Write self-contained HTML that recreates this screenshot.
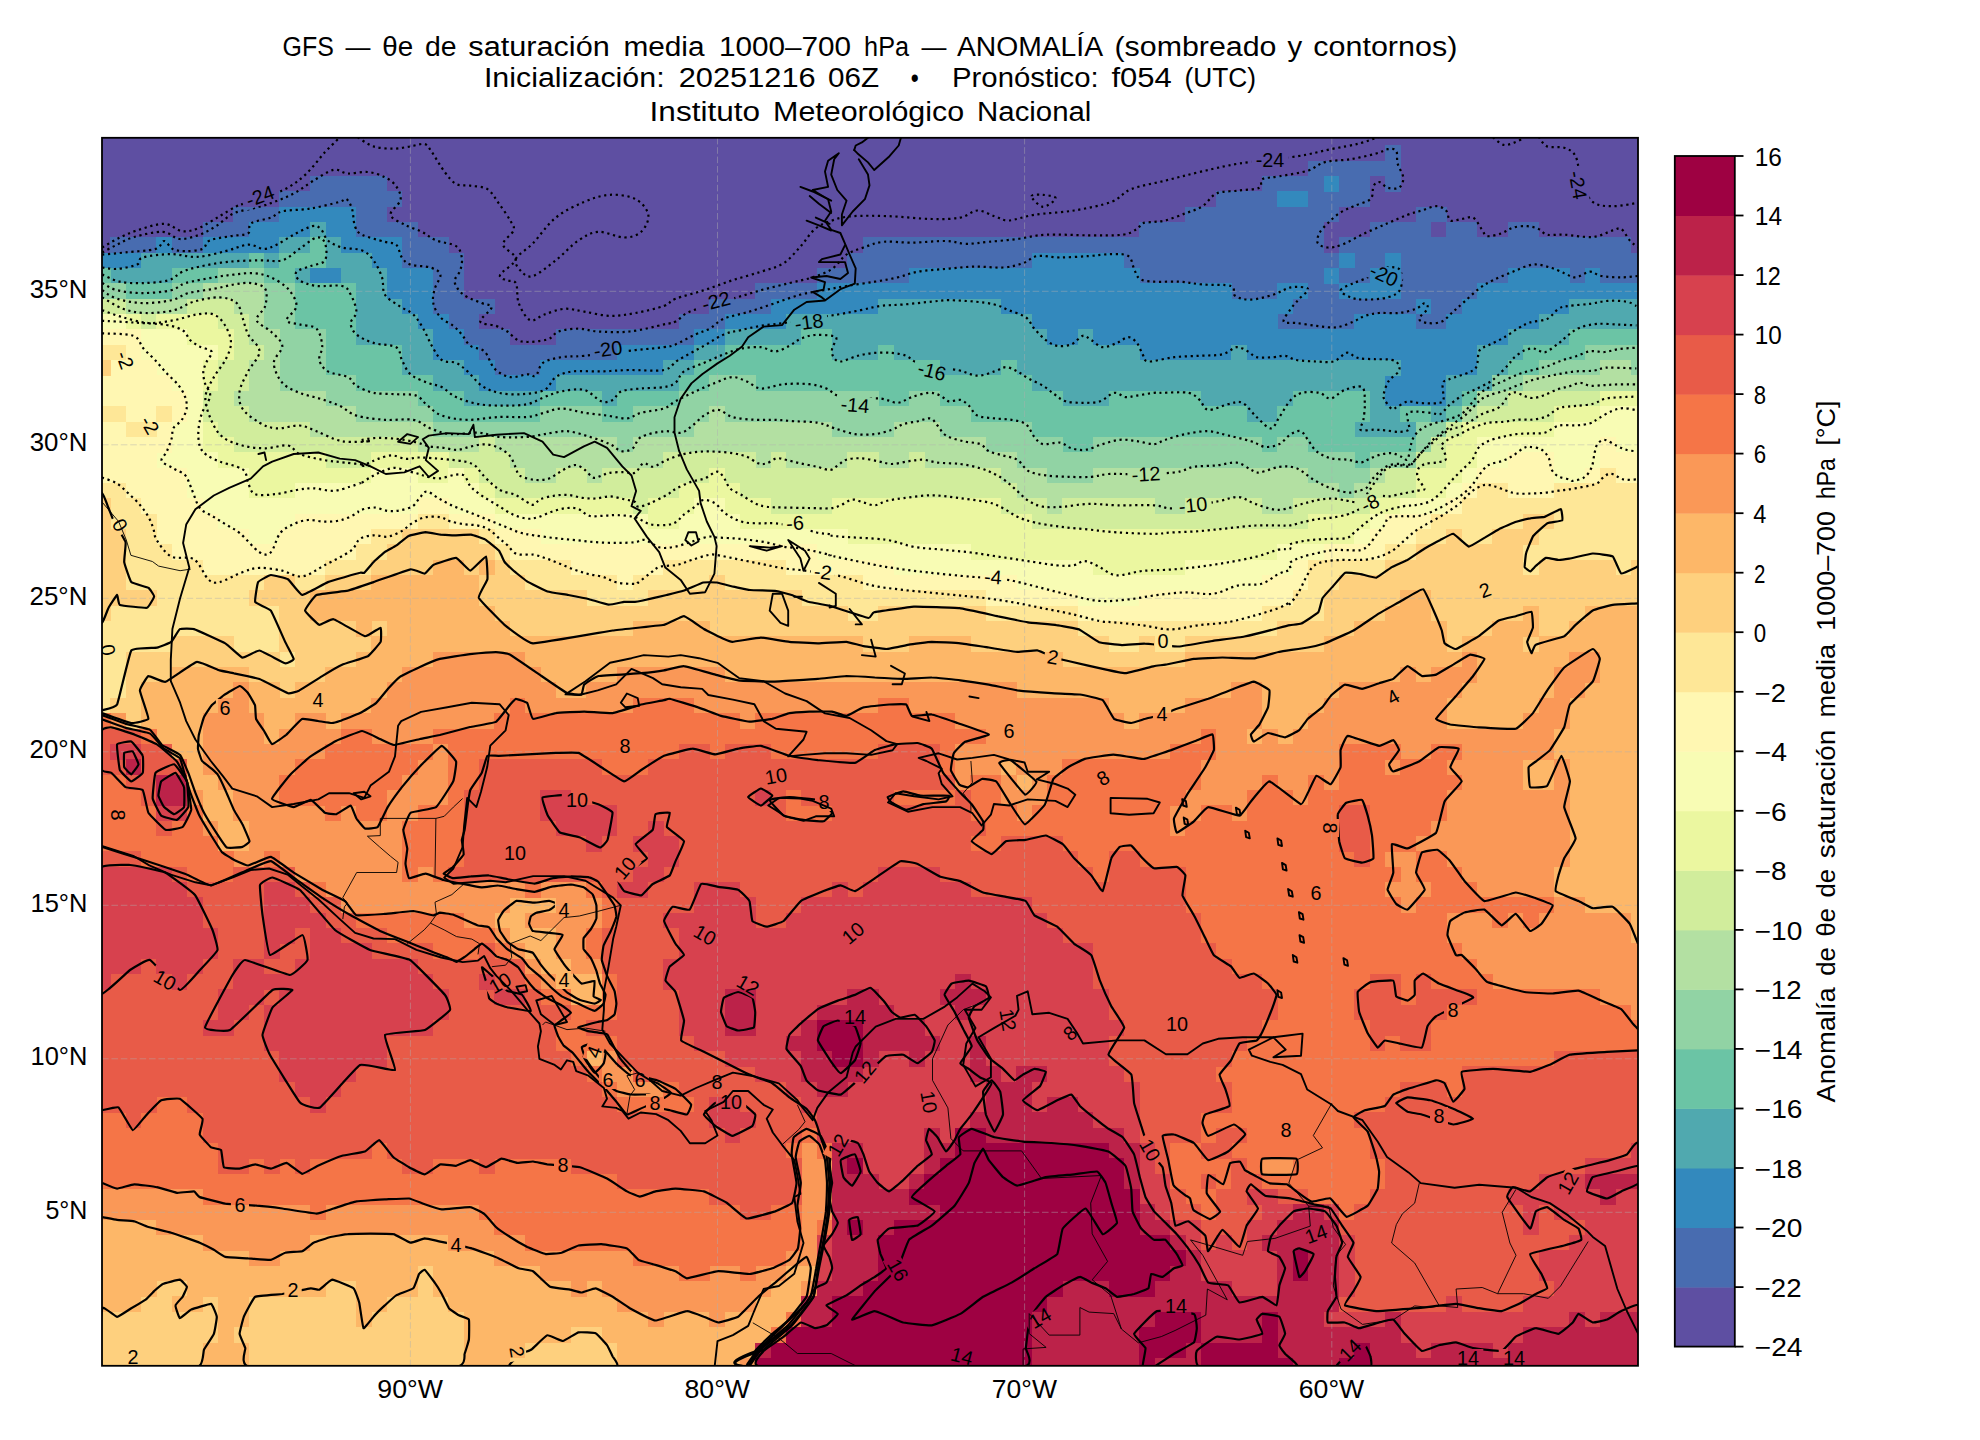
<!DOCTYPE html>
<html><head><meta charset="utf-8"><title>GFS theta-e</title>
<style>
html,body{margin:0;padding:0;background:#fff;}
body{width:1980px;height:1440px;overflow:hidden;font-family:"Liberation Sans",sans-serif;}
svg{display:block;position:absolute;left:0;top:0;}
text{font-family:"Liberation Sans",sans-serif;fill:#000;}
.cl{fill:none;stroke:#000;stroke-width:2.2;stroke-linejoin:round;}
.dot{stroke-dasharray:2.2 3.65;stroke-linecap:butt;stroke-width:2.2}
.coast{fill:none;stroke:#000;stroke-width:1.9;stroke-linejoin:round;stroke-linecap:round}
.bord{fill:none;stroke:#000;stroke-width:0.9;stroke-linejoin:round}
.grid{stroke:#b0b0b0;stroke-width:0.9;stroke-dasharray:6.6 2.8;opacity:.5;fill:none}
.lab{font-size:19.8px;}
</style></head><body>
<svg width="1980" height="1440" viewBox="0 0 1980 1440">
<rect x="0" y="0" width="1980" height="1440" fill="#fff"/>
<text x="282.6" y="56" font-size="28.2" textLength="51.3" lengthAdjust="spacingAndGlyphs">GFS</text><text x="345.6" y="56" font-size="28.2" textLength="24.9" lengthAdjust="spacingAndGlyphs">—</text><text x="382.2" y="56" font-size="28.2" textLength="30.9" lengthAdjust="spacingAndGlyphs">θe</text><text x="425" y="56" font-size="28.2" textLength="31.6" lengthAdjust="spacingAndGlyphs">de</text><text x="468.3" y="56" font-size="28.2" textLength="141.5" lengthAdjust="spacingAndGlyphs">saturación</text><text x="623.4" y="56" font-size="28.2" textLength="81.1" lengthAdjust="spacingAndGlyphs">media</text><text x="718.9" y="56" font-size="28.2" textLength="132.1" lengthAdjust="spacingAndGlyphs">1000–700</text><text x="864.1" y="56" font-size="28.2" textLength="44.9" lengthAdjust="spacingAndGlyphs">hPa</text><text x="921.6" y="56" font-size="28.2" textLength="24.9" lengthAdjust="spacingAndGlyphs">—</text><text x="956.9" y="56" font-size="28.2" textLength="146.2" lengthAdjust="spacingAndGlyphs">ANOMALÍA</text><text x="1114.5" y="56" font-size="28.2" textLength="161.9" lengthAdjust="spacingAndGlyphs">(sombreado</text><text x="1287.5" y="56" font-size="28.2" textLength="14.7" lengthAdjust="spacingAndGlyphs">y</text><text x="1313.3" y="56" font-size="28.2" textLength="144" lengthAdjust="spacingAndGlyphs">contornos)</text>
<text x="483.9" y="86.8" font-size="28.2" textLength="180.7" lengthAdjust="spacingAndGlyphs">Inicialización:</text><text x="678.7" y="86.8" font-size="28.2" textLength="137" lengthAdjust="spacingAndGlyphs">20251216</text><text x="828" y="86.8" font-size="28.2" textLength="51.1" lengthAdjust="spacingAndGlyphs">06Z</text><text x="910.8" y="86.8" font-size="28.2" textLength="8" lengthAdjust="spacingAndGlyphs">•</text><text x="952" y="86.8" font-size="28.2" textLength="146.7" lengthAdjust="spacingAndGlyphs">Pronóstico:</text><text x="1111.4" y="86.8" font-size="28.2" textLength="60.3" lengthAdjust="spacingAndGlyphs">f054</text><text x="1184.5" y="86.8" font-size="28.2" textLength="71.6" lengthAdjust="spacingAndGlyphs">(UTC)</text>
<text x="649.6" y="121" font-size="28.2" textLength="110.5" lengthAdjust="spacingAndGlyphs">Instituto</text><text x="773.1" y="121" font-size="28.2" textLength="191" lengthAdjust="spacingAndGlyphs">Meteorológico</text><text x="977.1" y="121" font-size="28.2" textLength="114.3" lengthAdjust="spacingAndGlyphs">Nacional</text>
<defs><clipPath id="mc"><rect x="102" y="137.8" width="1536" height="1228"/></clipPath></defs>
<g clip-path="url(#mc)">
<rect x="102" y="137.8" width="1536" height="1228" fill="#5e4fa2"/>
<g shape-rendering="crispEdges">
<path fill="#486cb0" d="M494.3 360.1H540.6V375.7H494.3ZM478.9 344.7H617.4V360.4H478.9ZM463.5 329.4H509.9V345H463.5ZM555.7 329.4H694.2V345H555.7ZM448.2 314H479.2V329.7H448.2ZM678.5 314H724.9V329.7H678.5ZM1277.4 314H1354.5V329.7H1277.4ZM1415.6 314H1446.6V329.7H1415.6ZM432.8 298.7H494.6V314.3H432.8ZM709.2 298.7H771V314.3H709.2ZM1292.8 298.7H1415.9V314.3H1292.8ZM1431 298.7H1462V314.3H1431ZM432.8 283.3H463.8V299H432.8ZM755.3 283.3H817V299H755.3ZM1231.3 283.3H1277.7V299H1231.3ZM1308.1 283.3H1339.1V299H1308.1ZM1400.3 283.3H1477.3V299H1400.3ZM432.8 268H463.8V283.6H432.8ZM816.7 268H909.2V283.6H816.7ZM1139.2 268H1323.8V283.6H1139.2ZM1338.8 268H1369.8V283.6H1338.8ZM1400.3 268H1508.1V283.6H1400.3ZM1569.2 268H1584.8V283.6H1569.2ZM1599.9 268H1638.3V283.6H1599.9ZM402.1 252.6H463.8V268.3H402.1ZM847.4 252.6H1032V268.3H847.4ZM1123.9 252.6H1339.1V268.3H1123.9ZM1354.2 252.6H1385.2V268.3H1354.2ZM1400.3 252.6H1638.3V268.3H1400.3ZM110.4 237.3H156.7V252.9H110.4ZM171.8 237.3H202.8V252.9H171.8ZM402.1 237.3H448.5V252.9H402.1ZM862.8 237.3H1323.8V252.9H862.8ZM1338.8 237.3H1630.9V252.9H1338.8ZM202.5 221.9H248.9V237.6H202.5ZM356.1 221.9H417.8V237.6H356.1ZM1139.2 221.9H1323.8V237.6H1139.2ZM1369.5 221.9H1431.3V237.6H1369.5ZM1446.3 221.9H1477.3V237.6H1446.3ZM1507.8 221.9H1538.8V237.6H1507.8ZM233.2 206.6H279.6V222.2H233.2ZM356.1 206.6H387.1V222.2H356.1ZM1185.3 206.6H1339.1V222.2H1185.3ZM1415.6 206.6H1446.6V222.2H1415.6ZM279.3 191.2H402.4V206.9H279.3ZM1216 191.2H1277.7V206.9H1216ZM1308.1 191.2H1369.8V206.9H1308.1ZM310 175.9H387.1V191.5H310ZM1262.1 175.9H1323.8V191.5H1262.1ZM1338.8 175.9H1369.8V191.5H1338.8ZM1384.9 175.9H1400.6V191.5H1384.9ZM1308.1 160.5H1400.6V176.2H1308.1ZM1384.9 145.2H1400.6V160.8H1384.9Z"/>
<path fill="#3389bd" d="M1384.9 390.8H1446.6V406.4H1384.9ZM478.9 375.4H556V391.1H478.9ZM1384.9 375.4H1446.6V391.1H1384.9ZM463.5 360.1H494.6V375.7H463.5ZM540.3 360.1H663.5V375.7H540.3ZM1400.3 360.1H1477.3V375.7H1400.3ZM432.8 344.7H479.2V360.4H432.8ZM617.1 344.7H694.2V360.4H617.1ZM1139.2 344.7H1231.6V360.4H1139.2ZM1246.7 344.7H1477.3V360.4H1246.7ZM432.8 329.4H463.8V345H432.8ZM693.9 329.4H724.9V345H693.9ZM1047.1 329.4H1078.1V345H1047.1ZM1093.1 329.4H1508.1V345H1093.1ZM417.5 314H448.5V329.7H417.5ZM724.6 314H786.3V329.7H724.6ZM1031.7 314H1277.7V329.7H1031.7ZM1354.2 314H1415.9V329.7H1354.2ZM1446.3 314H1538.8V329.7H1446.3ZM402.1 298.7H433.1V314.3H402.1ZM770.7 298.7H878.5V314.3H770.7ZM1001 298.7H1293.1V314.3H1001ZM1415.6 298.7H1431.3V314.3H1415.6ZM1461.7 298.7H1569.5V314.3H1461.7ZM386.8 283.3H433.1V299H386.8ZM816.7 283.3H1231.6V299H816.7ZM1277.4 283.3H1308.4V299H1277.4ZM1338.8 283.3H1400.6V299H1338.8ZM1477 283.3H1638.3V299H1477ZM310 268H341V283.6H310ZM386.8 268H433.1V283.6H386.8ZM908.9 268H1139.5V283.6H908.9ZM1323.5 268H1339.1V283.6H1323.5ZM1369.5 268H1400.6V283.6H1369.5ZM1507.8 268H1569.5V283.6H1507.8ZM1584.5 268H1600.2V283.6H1584.5ZM102 252.6H141.4V268.3H102ZM371.4 252.6H402.4V268.3H371.4ZM1031.7 252.6H1124.2V268.3H1031.7ZM1338.8 252.6H1354.5V268.3H1338.8ZM1384.9 252.6H1400.6V268.3H1384.9ZM156.4 237.3H172.1V252.9H156.4ZM202.5 237.3H279.6V252.9H202.5ZM340.7 237.3H402.4V252.9H340.7ZM248.6 221.9H310.3V237.6H248.6ZM325.3 221.9H356.4V237.6H325.3ZM279.3 206.6H356.4V222.2H279.3ZM1277.4 191.2H1308.4V206.9H1277.4ZM1323.5 175.9H1339.1V191.5H1323.5Z"/>
<path fill="#50a9af" d="M1354.2 421.5H1415.9V437.1H1354.2ZM1246.7 406.1H1277.7V421.8H1246.7ZM1369.5 406.1H1400.6V421.8H1369.5ZM1431 406.1H1446.6V421.8H1431ZM463.5 390.8H540.6V406.4H463.5ZM601.8 390.8H617.4V406.4H601.8ZM1062.4 390.8H1108.8V406.4H1062.4ZM1200.6 390.8H1293.1V406.4H1200.6ZM1369.5 390.8H1385.2V406.4H1369.5ZM1446.3 390.8H1462V406.4H1446.3ZM432.8 375.4H479.2V391.1H432.8ZM555.7 375.4H678.8V391.1H555.7ZM1031.7 375.4H1385.2V391.1H1031.7ZM1446.3 375.4H1492.7V391.1H1446.3ZM402.1 360.1H463.8V375.7H402.1ZM663.2 360.1H694.2V375.7H663.2ZM939.6 360.1H1001.3V375.7H939.6ZM1016.4 360.1H1400.6V375.7H1016.4ZM1477 360.1H1508.1V375.7H1477ZM402.1 344.7H433.1V360.4H402.1ZM693.9 344.7H724.9V360.4H693.9ZM832.1 344.7H878.5V360.4H832.1ZM893.5 344.7H1139.5V360.4H893.5ZM1231.3 344.7H1247V360.4H1231.3ZM1477 344.7H1523.4V360.4H1477ZM356.1 329.4H433.1V345H356.1ZM724.6 329.4H801.7V345H724.6ZM832.1 329.4H1047.4V345H832.1ZM1077.8 329.4H1093.4V345H1077.8ZM1507.8 329.4H1569.5V345H1507.8ZM356.1 314H417.8V329.7H356.1ZM786 314H1032V329.7H786ZM1538.5 314H1638.3V329.7H1538.5ZM356.1 298.7H402.4V314.3H356.1ZM878.2 298.7H1001.3V314.3H878.2ZM1569.2 298.7H1638.3V314.3H1569.2ZM356.1 283.3H387.1V299H356.1ZM110.4 268H172.1V283.6H110.4ZM294.6 268H310.3V283.6H294.6ZM340.7 268H387.1V283.6H340.7ZM141.1 252.6H248.9V268.3H141.1ZM263.9 252.6H279.6V268.3H263.9ZM325.3 252.6H371.7V268.3H325.3ZM279.3 237.3H310.3V252.9H279.3ZM325.3 237.3H341V252.9H325.3ZM310 221.9H325.6V237.6H310Z"/>
<path fill="#6bc4a5" d="M1354.2 452.2H1369.8V467.8H1354.2ZM1062.4 436.8H1093.4V452.5H1062.4ZM1262.1 436.8H1277.7V452.5H1262.1ZM1308.1 436.8H1415.9V452.5H1308.1ZM1031.7 421.5H1354.5V437.1H1031.7ZM432.8 406.1H540.6V421.8H432.8ZM601.8 406.1H632.8V421.8H601.8ZM970.3 406.1H1247V421.8H970.3ZM1277.4 406.1H1369.8V421.8H1277.4ZM1400.3 406.1H1431.3V421.8H1400.3ZM1446.3 406.1H1462V421.8H1446.3ZM417.5 390.8H463.8V406.4H417.5ZM540.3 390.8H602V406.4H540.3ZM617.1 390.8H678.8V406.4H617.1ZM878.2 390.8H909.2V406.4H878.2ZM939.6 390.8H1062.7V406.4H939.6ZM1108.5 390.8H1200.9V406.4H1108.5ZM1292.8 390.8H1369.8V406.4H1292.8ZM1461.7 390.8H1477.3V406.4H1461.7ZM356.1 375.4H433.1V391.1H356.1ZM678.5 375.4H709.5V391.1H678.5ZM755.3 375.4H1032V391.1H755.3ZM325.3 360.1H402.4V375.7H325.3ZM693.9 360.1H939.9V375.7H693.9ZM1001 360.1H1016.7V375.7H1001ZM1507.8 360.1H1538.8V375.7H1507.8ZM325.3 344.7H402.4V360.4H325.3ZM724.6 344.7H832.4V360.4H724.6ZM878.2 344.7H893.8V360.4H878.2ZM1523.1 344.7H1584.8V360.4H1523.1ZM325.3 329.4H356.4V345H325.3ZM801.4 329.4H832.4V345H801.4ZM1569.2 329.4H1638.3V345H1569.2ZM294.6 314H356.4V329.7H294.6ZM294.6 298.7H356.4V314.3H294.6ZM125.7 283.3H172.1V299H125.7ZM294.6 283.3H356.4V299H294.6ZM102 268H110.7V283.6H102ZM171.8 268H218.2V283.6H171.8ZM263.9 268H294.9V283.6H263.9ZM248.6 252.6H264.2V268.3H248.6ZM279.3 252.6H325.6V268.3H279.3ZM310 237.3H325.6V252.9H310Z"/>
<path fill="#91d3a4" d="M1338.8 482.9H1354.5V498.5H1338.8ZM1047.1 467.5H1093.4V483.2H1047.1ZM1308.1 467.5H1369.8V483.2H1308.1ZM1016.4 452.2H1354.5V467.8H1016.4ZM1369.5 452.2H1415.9V467.8H1369.5ZM617.1 436.8H632.8V452.5H617.1ZM985.7 436.8H1062.7V452.5H985.7ZM1093.1 436.8H1262.4V452.5H1093.1ZM1277.4 436.8H1308.4V452.5H1277.4ZM1415.6 436.8H1431.3V452.5H1415.6ZM432.8 421.5H694.2V437.1H432.8ZM832.1 421.5H893.8V437.1H832.1ZM939.6 421.5H1032V437.1H939.6ZM1415.6 421.5H1446.6V437.1H1415.6ZM356.1 406.1H433.1V421.8H356.1ZM540.3 406.1H602V421.8H540.3ZM632.5 406.1H709.5V421.8H632.5ZM724.6 406.1H970.6V421.8H724.6ZM325.3 390.8H417.8V406.4H325.3ZM678.5 390.8H878.5V406.4H678.5ZM908.9 390.8H939.9V406.4H908.9ZM279.3 375.4H356.4V391.1H279.3ZM709.2 375.4H755.6V391.1H709.2ZM1492.4 375.4H1523.4V391.1H1492.4ZM279.3 360.1H325.6V375.7H279.3ZM1538.5 360.1H1600.2V375.7H1538.5ZM1630.6 360.1H1638.3V375.7H1630.6ZM279.3 344.7H325.6V360.4H279.3ZM1584.5 344.7H1638.3V360.4H1584.5ZM279.3 329.4H325.6V345H279.3ZM263.9 314H294.9V329.7H263.9ZM263.9 298.7H294.9V314.3H263.9ZM102 283.3H126V299H102ZM171.8 283.3H202.8V299H171.8ZM263.9 283.3H294.9V299H263.9ZM217.9 268H264.2V283.6H217.9Z"/>
<path fill="#b3e0a2" d="M1047.1 498.2H1062.7V513.9H1047.1ZM1154.6 498.2H1185.6V513.9H1154.6ZM1262.1 498.2H1293.1V513.9H1262.1ZM1016.4 482.9H1339.1V498.5H1016.4ZM1354.2 482.9H1369.8V498.5H1354.2ZM525 467.5H556V483.2H525ZM586.4 467.5H602V483.2H586.4ZM1001 467.5H1047.4V483.2H1001ZM1093.1 467.5H1308.4V483.2H1093.1ZM1369.5 467.5H1385.2V483.2H1369.5ZM509.6 452.2H663.5V467.8H509.6ZM755.3 452.2H771V467.8H755.3ZM786 452.2H847.7V467.8H786ZM878.2 452.2H909.2V467.8H878.2ZM924.2 452.2H1016.7V467.8H924.2ZM417.5 436.8H479.2V452.5H417.5ZM494.3 436.8H617.4V452.5H494.3ZM632.5 436.8H986V452.5H632.5ZM310 421.5H433.1V437.1H310ZM693.9 421.5H832.4V437.1H693.9ZM893.5 421.5H939.9V437.1H893.5ZM248.6 406.1H356.4V421.8H248.6ZM709.2 406.1H724.9V421.8H709.2ZM1461.7 406.1H1477.3V421.8H1461.7ZM233.2 390.8H325.6V406.4H233.2ZM1477 390.8H1508.1V406.4H1477ZM248.6 375.4H279.6V391.1H248.6ZM1523.1 375.4H1638.3V391.1H1523.1ZM248.6 360.1H279.6V375.7H248.6ZM1599.9 360.1H1630.9V375.7H1599.9ZM263.9 344.7H279.6V360.4H263.9ZM248.6 329.4H279.6V345H248.6ZM248.6 314H264.2V329.7H248.6ZM125.7 298.7H187.4V314.3H125.7ZM233.2 298.7H264.2V314.3H233.2ZM202.5 283.3H264.2V299H202.5Z"/>
<path fill="#d1ed9c" d="M1031.7 513.6H1308.4V529.2H1031.7ZM632.5 498.2H648.1V513.9H632.5ZM770.7 498.2H832.4V513.9H770.7ZM1001 498.2H1047.4V513.9H1001ZM1062.4 498.2H1154.9V513.9H1062.4ZM1185.3 498.2H1262.4V513.9H1185.3ZM1292.8 498.2H1369.8V513.9H1292.8ZM494.3 482.9H678.8V498.5H494.3ZM740 482.9H1016.7V498.5H740ZM1369.5 482.9H1415.9V498.5H1369.5ZM478.9 467.5H525.3V483.2H478.9ZM555.7 467.5H586.7V483.2H555.7ZM601.8 467.5H709.5V483.2H601.8ZM724.6 467.5H1001.3V483.2H724.6ZM1384.9 467.5H1415.9V483.2H1384.9ZM325.3 452.2H371.7V467.8H325.3ZM448.2 452.2H509.9V467.8H448.2ZM663.2 452.2H755.6V467.8H663.2ZM770.7 452.2H786.3V467.8H770.7ZM847.4 452.2H878.5V467.8H847.4ZM908.9 452.2H924.5V467.8H908.9ZM1415.6 452.2H1446.6V467.8H1415.6ZM233.2 436.8H417.8V452.5H233.2ZM478.9 436.8H494.6V452.5H478.9ZM1431 436.8H1446.6V452.5H1431ZM217.9 421.5H310.3V437.1H217.9ZM1446.3 421.5H1462V437.1H1446.3ZM202.5 406.1H248.9V421.8H202.5ZM1477 406.1H1554.1V421.8H1477ZM202.5 390.8H233.5V406.4H202.5ZM1507.8 390.8H1600.2V406.4H1507.8ZM217.9 375.4H248.9V391.1H217.9ZM217.9 360.1H248.9V375.7H217.9ZM233.2 344.7H264.2V360.4H233.2ZM233.2 329.4H248.9V345H233.2ZM141.1 314H156.7V329.7H141.1ZM217.9 314H248.9V329.7H217.9ZM102 298.7H126V314.3H102ZM187.1 298.7H233.5V314.3H187.1Z"/>
<path fill="#ebf7a0" d="M1093.1 559.6H1185.6V575.3H1093.1ZM970.3 544.3H1277.7V559.9H970.3ZM847.4 528.9H1354.5V544.6H847.4ZM647.8 513.6H678.8V529.2H647.8ZM740 513.6H1032V529.2H740ZM1308.1 513.6H1369.8V529.2H1308.1ZM494.3 498.2H632.8V513.9H494.3ZM647.8 498.2H694.2V513.9H647.8ZM724.6 498.2H771V513.9H724.6ZM832.1 498.2H1001.3V513.9H832.1ZM1369.5 498.2H1400.6V513.9H1369.5ZM248.6 482.9H294.9V498.5H248.6ZM478.9 482.9H494.6V498.5H478.9ZM678.5 482.9H740.3V498.5H678.5ZM1415.6 482.9H1446.6V498.5H1415.6ZM248.6 467.5H371.7V483.2H248.6ZM417.5 467.5H448.5V483.2H417.5ZM463.5 467.5H479.2V483.2H463.5ZM709.2 467.5H724.9V483.2H709.2ZM1415.6 467.5H1462V483.2H1415.6ZM217.9 452.2H325.6V467.8H217.9ZM371.4 452.2H448.5V467.8H371.4ZM1446.3 452.2H1477.3V467.8H1446.3ZM202.5 436.8H233.5V452.5H202.5ZM1446.3 436.8H1477.3V452.5H1446.3ZM202.5 421.5H218.2V437.1H202.5ZM1461.7 421.5H1554.1V437.1H1461.7ZM1553.8 406.1H1600.2V421.8H1553.8ZM1599.9 390.8H1638.3V406.4H1599.9ZM202.5 375.4H218.2V391.1H202.5ZM202.5 360.1H218.2V375.7H202.5ZM217.9 344.7H233.5V360.4H217.9ZM187.1 329.4H233.5V345H187.1ZM125.7 314H141.4V329.7H125.7ZM156.4 314H218.2V329.7H156.4Z"/>
<path fill="#f8fcb4" d="M1077.8 590.3H1139.5V606H1077.8ZM1016.4 575H1262.4V590.6H1016.4ZM893.5 559.6H1093.4V575.3H893.5ZM1185.3 559.6H1293.1V575.3H1185.3ZM816.7 544.3H970.6V559.9H816.7ZM1277.4 544.3H1323.8V559.9H1277.4ZM248.6 528.9H279.6V544.6H248.6ZM540.3 528.9H847.7V544.6H540.3ZM1354.2 528.9H1369.8V544.6H1354.2ZM217.9 513.6H294.9V529.2H217.9ZM494.3 513.6H648.1V529.2H494.3ZM678.5 513.6H740.3V529.2H678.5ZM1369.5 513.6H1385.2V529.2H1369.5ZM202.5 498.2H417.8V513.9H202.5ZM448.2 498.2H494.6V513.9H448.2ZM693.9 498.2H724.9V513.9H693.9ZM1400.3 498.2H1446.6V513.9H1400.3ZM187.1 482.9H248.9V498.5H187.1ZM294.6 482.9H479.2V498.5H294.6ZM1446.3 482.9H1462V498.5H1446.3ZM187.1 467.5H248.9V483.2H187.1ZM371.4 467.5H417.8V483.2H371.4ZM448.2 467.5H463.8V483.2H448.2ZM1461.7 467.5H1477.3V483.2H1461.7ZM1553.8 467.5H1584.8V483.2H1553.8ZM156.4 452.2H218.2V467.8H156.4ZM1477 452.2H1508.1V467.8H1477ZM1553.8 452.2H1600.2V467.8H1553.8ZM171.8 436.8H202.8V452.5H171.8ZM1477 436.8H1600.2V452.5H1477ZM1615.2 436.8H1638.3V452.5H1615.2ZM171.8 421.5H202.8V437.1H171.8ZM1553.8 421.5H1638.3V437.1H1553.8ZM187.1 406.1H202.8V421.8H187.1ZM1599.9 406.1H1638.3V421.8H1599.9ZM187.1 390.8H202.8V406.4H187.1ZM171.8 375.4H202.8V391.1H171.8ZM156.4 360.1H202.8V375.7H156.4ZM141.1 344.7H218.2V360.4H141.1ZM141.1 329.4H187.4V345H141.1ZM102 314H126V329.7H102Z"/>
<path fill="#fff7b2" d="M1077.8 605.7H1262.4V621.3H1077.8ZM985.7 590.3H1078.1V606H985.7ZM1139.2 590.3H1293.1V606H1139.2ZM617.1 575H632.8V590.6H617.1ZM862.8 575H1016.7V590.6H862.8ZM1262.1 575H1308.4V590.6H1262.1ZM202.5 559.6H325.6V575.3H202.5ZM571 559.6H663.5V575.3H571ZM786 559.6H893.8V575.3H786ZM1292.8 559.6H1308.4V575.3H1292.8ZM171.8 544.3H356.4V559.9H171.8ZM509.6 544.3H817V559.9H509.6ZM1323.5 544.3H1385.2V559.9H1323.5ZM156.4 528.9H248.9V544.6H156.4ZM279.3 528.9H371.7V544.6H279.3ZM494.3 528.9H540.6V544.6H494.3ZM1369.5 528.9H1415.9V544.6H1369.5ZM156.4 513.6H218.2V529.2H156.4ZM294.6 513.6H417.8V529.2H294.6ZM448.2 513.6H494.6V529.2H448.2ZM1384.9 513.6H1431.3V529.2H1384.9ZM141.1 498.2H202.8V513.9H141.1ZM417.5 498.2H448.5V513.9H417.5ZM1446.3 498.2H1462V513.9H1446.3ZM125.7 482.9H187.4V498.5H125.7ZM1461.7 482.9H1477.3V498.5H1461.7ZM1507.8 482.9H1554.1V498.5H1507.8ZM102 467.5H187.4V483.2H102ZM1477 467.5H1554.1V483.2H1477ZM1584.5 467.5H1600.2V483.2H1584.5ZM1615.2 467.5H1638.3V483.2H1615.2ZM102 452.2H156.7V467.8H102ZM1507.8 452.2H1554.1V467.8H1507.8ZM1599.9 452.2H1638.3V467.8H1599.9ZM102 436.8H172.1V452.5H102ZM1599.9 436.8H1615.5V452.5H1599.9ZM102 421.5H126V437.1H102ZM156.4 421.5H172.1V437.1H156.4ZM125.7 406.1H156.7V421.8H125.7ZM171.8 406.1H187.4V421.8H171.8ZM102 390.8H187.4V406.4H102ZM102 375.4H172.1V391.1H102ZM110.4 360.1H156.7V375.7H110.4ZM125.7 344.7H141.4V360.4H125.7ZM102 329.4H141.4V345H102Z"/>
<path fill="#fee797" d="M102 697.8H110.7V713.4H102ZM102 682.4H126V698.1H102ZM102 667.1H126V682.7H102ZM102 651.7H126V667.4H102ZM279.3 651.7H294.9V667.4H279.3ZM102 636.4H172.1V652H102ZM233.2 636.4H279.6V652H233.2ZM1108.5 636.4H1139.5V652H1108.5ZM1154.6 636.4H1185.6V652H1154.6ZM102 621H279.6V636.7H102ZM1077.8 621H1277.7V636.7H1077.8ZM110.4 605.7H279.6V621.3H110.4ZM847.4 605.7H878.5V621.3H847.4ZM985.7 605.7H1078.1V621.3H985.7ZM1262.1 605.7H1323.8V621.3H1262.1ZM156.4 590.3H248.9V606H156.4ZM586.4 590.3H648.1V606H586.4ZM801.4 590.3H986V606H801.4ZM1292.8 590.3H1323.8V606H1292.8ZM125.7 575H264.2V590.6H125.7ZM294.6 575H325.6V590.6H294.6ZM525 575H617.4V590.6H525ZM632.5 575H709.5V590.6H632.5ZM724.6 575H863.1V590.6H724.6ZM1308.1 575H1339.1V590.6H1308.1ZM125.7 559.6H202.8V575.3H125.7ZM325.3 559.6H371.7V575.3H325.3ZM509.6 559.6H571.3V575.3H509.6ZM663.2 559.6H786.3V575.3H663.2ZM1308.1 559.6H1385.2V575.3H1308.1ZM1523.1 559.6H1538.8V575.3H1523.1ZM1615.2 559.6H1630.9V575.3H1615.2ZM125.7 544.3H172.1V559.9H125.7ZM356.1 544.3H387.1V559.9H356.1ZM494.3 544.3H509.9V559.9H494.3ZM1384.9 544.3H1415.9V559.9H1384.9ZM1523.1 544.3H1638.3V559.9H1523.1ZM125.7 528.9H156.7V544.6H125.7ZM371.4 528.9H402.4V544.6H371.4ZM478.9 528.9H494.6V544.6H478.9ZM1415.6 528.9H1446.6V544.6H1415.6ZM1461.7 528.9H1492.7V544.6H1461.7ZM1538.5 528.9H1638.3V544.6H1538.5ZM110.4 513.6H156.7V529.2H110.4ZM417.5 513.6H448.5V529.2H417.5ZM1431 513.6H1523.4V529.2H1431ZM1553.8 513.6H1638.3V529.2H1553.8ZM110.4 498.2H141.4V513.9H110.4ZM1461.7 498.2H1638.3V513.9H1461.7ZM102 482.9H126V498.5H102ZM1477 482.9H1508.1V498.5H1477ZM1553.8 482.9H1638.3V498.5H1553.8ZM1599.9 467.5H1615.5V483.2H1599.9ZM125.7 421.5H156.7V437.1H125.7ZM102 406.1H126V421.8H102ZM156.4 406.1H172.1V421.8H156.4ZM102 344.7H126V360.4H102Z"/>
<path fill="#fed07e" d="M102 1357.8H202.8V1365.8H102ZM248.6 1357.8H463.8V1365.8H248.6ZM509.6 1357.8H617.4V1365.8H509.6ZM102 1342.5H202.8V1358.1H102ZM248.6 1342.5H463.8V1358.1H248.6ZM525 1342.5H617.4V1358.1H525ZM102 1327.1H218.2V1342.8H102ZM233.2 1327.1H463.8V1342.8H233.2ZM571 1327.1H602V1342.8H571ZM102 1311.8H218.2V1327.4H102ZM248.6 1311.8H356.4V1327.4H248.6ZM371.4 1311.8H463.8V1327.4H371.4ZM141.1 1296.4H172.1V1312.1H141.1ZM202.5 1296.4H218.2V1312.1H202.5ZM248.6 1296.4H356.4V1312.1H248.6ZM386.8 1296.4H448.5V1312.1H386.8ZM156.4 1281.1H187.4V1296.7H156.4ZM325.3 1281.1H356.4V1296.7H325.3ZM417.5 1281.1H433.1V1296.7H417.5ZM417.5 1265.7H433.1V1281.4H417.5ZM125.7 713.1H141.4V728.8H125.7ZM110.4 697.8H141.4V713.4H110.4ZM125.7 682.4H141.4V698.1H125.7ZM279.3 682.4H294.9V698.1H279.3ZM125.7 667.1H172.1V682.7H125.7ZM248.6 667.1H325.6V682.7H248.6ZM125.7 651.7H279.6V667.4H125.7ZM294.6 651.7H356.4V667.4H294.6ZM1062.4 651.7H1185.6V667.4H1062.4ZM171.8 636.4H233.5V652H171.8ZM279.3 636.4H371.7V652H279.3ZM862.8 636.4H909.2V652H862.8ZM970.3 636.4H1108.8V652H970.3ZM1139.2 636.4H1154.9V652H1139.2ZM1185.3 636.4H1323.8V652H1185.3ZM1446.3 636.4H1462V652H1446.3ZM1523.1 636.4H1538.8V652H1523.1ZM279.3 621H356.4V636.7H279.3ZM371.4 621H387.1V636.7H371.4ZM509.6 621H632.8V636.7H509.6ZM709.2 621H1078.1V636.7H709.2ZM1277.4 621H1354.5V636.7H1277.4ZM1446.3 621H1492.7V636.7H1446.3ZM1538.5 621H1569.5V636.7H1538.5ZM102 605.7H110.7V621.3H102ZM279.3 605.7H310.3V621.3H279.3ZM494.3 605.7H847.7V621.3H494.3ZM878.2 605.7H986V621.3H878.2ZM1323.5 605.7H1385.2V621.3H1323.5ZM1431 605.7H1523.4V621.3H1431ZM1538.5 605.7H1584.8V621.3H1538.5ZM102 590.3H156.7V606H102ZM248.6 590.3H310.3V606H248.6ZM478.9 590.3H586.7V606H478.9ZM647.8 590.3H801.7V606H647.8ZM1323.5 590.3H1400.6V606H1323.5ZM1431 590.3H1638.3V606H1431ZM102 575H126V590.6H102ZM263.9 575H294.9V590.6H263.9ZM325.3 575H371.7V590.6H325.3ZM478.9 575H525.3V590.6H478.9ZM709.2 575H724.9V590.6H709.2ZM1338.8 575H1638.3V590.6H1338.8ZM102 559.6H126V575.3H102ZM371.4 559.6H433.1V575.3H371.4ZM463.5 559.6H479.2V575.3H463.5ZM494.3 559.6H509.9V575.3H494.3ZM1384.9 559.6H1523.4V575.3H1384.9ZM1538.5 559.6H1615.5V575.3H1538.5ZM1630.6 559.6H1638.3V575.3H1630.6ZM102 544.3H126V559.9H102ZM386.8 544.3H494.6V559.9H386.8ZM1415.6 544.3H1523.4V559.9H1415.6ZM102 528.9H126V544.6H102ZM402.1 528.9H479.2V544.6H402.1ZM1446.3 528.9H1462V544.6H1446.3ZM1492.4 528.9H1538.8V544.6H1492.4ZM102 513.6H110.7V529.2H102ZM1523.1 513.6H1554.1V529.2H1523.1ZM102 498.2H110.7V513.9H102ZM102 360.1H110.7V375.7H102Z"/>
<path fill="#fdb768" d="M202.5 1357.8H248.9V1365.8H202.5ZM463.5 1357.8H509.9V1365.8H463.5ZM617.1 1357.8H740.3V1365.8H617.1ZM202.5 1342.5H248.9V1358.1H202.5ZM463.5 1342.5H525.3V1358.1H463.5ZM617.1 1342.5H755.6V1358.1H617.1ZM217.9 1327.1H233.5V1342.8H217.9ZM463.5 1327.1H571.3V1342.8H463.5ZM601.8 1327.1H771V1342.8H601.8ZM217.9 1311.8H248.9V1327.4H217.9ZM356.1 1311.8H371.7V1327.4H356.1ZM463.5 1311.8H648.1V1327.4H463.5ZM663.2 1311.8H709.5V1327.4H663.2ZM724.6 1311.8H786.3V1327.4H724.6ZM102 1296.4H141.4V1312.1H102ZM171.8 1296.4H202.8V1312.1H171.8ZM217.9 1296.4H248.9V1312.1H217.9ZM356.1 1296.4H387.1V1312.1H356.1ZM448.2 1296.4H617.4V1312.1H448.2ZM755.3 1296.4H801.7V1312.1H755.3ZM102 1281.1H156.7V1296.7H102ZM187.1 1281.1H325.6V1296.7H187.1ZM356.1 1281.1H417.8V1296.7H356.1ZM432.8 1281.1H571.3V1296.7H432.8ZM586.4 1281.1H602V1296.7H586.4ZM770.7 1281.1H801.7V1296.7H770.7ZM102 1265.7H417.8V1281.4H102ZM432.8 1265.7H540.6V1281.4H432.8ZM786 1265.7H817V1281.4H786ZM102 1250.4H248.9V1266H102ZM279.3 1250.4H494.6V1266H279.3ZM102 1235H202.8V1250.7H102ZM310 1235H448.5V1250.7H310ZM102 1219.7H156.7V1235.3H102ZM586.4 1050.8H602V1066.5H586.4ZM571 989.4H602V1005.1H571ZM555.7 974.1H602V989.7H555.7ZM540.3 958.7H571.3V974.4H540.3ZM525 943.4H556V959H525ZM509.6 928H556V943.7H509.6ZM1630.6 928H1638.3V943.7H1630.6ZM494.3 912.7H525.3V928.3H494.3ZM1630.6 912.7H1638.3V928.3H1630.6ZM509.6 897.3H556V913H509.6ZM1584.5 897.3H1638.3V913H1584.5ZM1553.8 882H1638.3V897.6H1553.8ZM1553.8 866.6H1638.3V882.3H1553.8ZM1569.2 851.3H1638.3V866.9H1569.2ZM217.9 835.9H248.9V851.6H217.9ZM1569.2 835.9H1638.3V851.6H1569.2ZM217.9 820.6H248.9V836.2H217.9ZM1569.2 820.6H1638.3V836.2H1569.2ZM202.5 805.2H233.5V820.9H202.5ZM1569.2 805.2H1638.3V820.9H1569.2ZM202.5 789.9H233.5V805.5H202.5ZM1569.2 789.9H1638.3V805.5H1569.2ZM187.1 774.5H218.2V790.2H187.1ZM1016.4 774.5H1032V790.2H1016.4ZM1523.1 774.5H1554.1V790.2H1523.1ZM1569.2 774.5H1638.3V790.2H1569.2ZM187.1 759.2H202.8V774.8H187.1ZM1001 759.2H1016.7V774.8H1001ZM1523.1 759.2H1554.1V774.8H1523.1ZM1569.2 759.2H1638.3V774.8H1569.2ZM171.8 743.8H202.8V759.5H171.8ZM1553.8 743.8H1638.3V759.5H1553.8ZM156.4 728.5H202.8V744.1H156.4ZM263.9 728.5H279.6V744.1H263.9ZM1246.7 728.5H1262.4V744.1H1246.7ZM1277.4 728.5H1293.1V744.1H1277.4ZM1553.8 728.5H1638.3V744.1H1553.8ZM141.1 713.1H202.8V728.8H141.1ZM263.9 713.1H294.9V728.8H263.9ZM325.3 713.1H341V728.8H325.3ZM1123.9 713.1H1139.5V728.8H1123.9ZM1262.1 713.1H1308.4V728.8H1262.1ZM1446.3 713.1H1523.4V728.8H1446.3ZM1569.2 713.1H1638.3V728.8H1569.2ZM141.1 697.8H218.2V713.4H141.1ZM248.6 697.8H371.7V713.4H248.6ZM1108.5 697.8H1185.6V713.4H1108.5ZM1262.1 697.8H1323.8V713.4H1262.1ZM1446.3 697.8H1538.8V713.4H1446.3ZM1569.2 697.8H1638.3V713.4H1569.2ZM141.1 682.4H233.5V698.1H141.1ZM248.6 682.4H279.6V698.1H248.6ZM294.6 682.4H387.1V698.1H294.6ZM555.7 682.4H586.7V698.1H555.7ZM1016.4 682.4H1231.6V698.1H1016.4ZM1262.1 682.4H1339.1V698.1H1262.1ZM1461.7 682.4H1554.1V698.1H1461.7ZM1584.5 682.4H1638.3V698.1H1584.5ZM171.8 667.1H248.9V682.7H171.8ZM325.3 667.1H402.4V682.7H325.3ZM540.3 667.1H617.4V682.7H540.3ZM724.6 667.1H1400.6V682.7H724.6ZM1415.6 667.1H1431.3V682.7H1415.6ZM1477 667.1H1554.1V682.7H1477ZM1599.9 667.1H1638.3V682.7H1599.9ZM356.1 651.7H433.1V667.4H356.1ZM525 651.7H1062.7V667.4H525ZM1185.3 651.7H1462V667.4H1185.3ZM1477 651.7H1569.5V667.4H1477ZM1599.9 651.7H1638.3V667.4H1599.9ZM371.4 636.4H863.1V652H371.4ZM908.9 636.4H970.6V652H908.9ZM1323.5 636.4H1446.6V652H1323.5ZM1461.7 636.4H1523.4V652H1461.7ZM1538.5 636.4H1638.3V652H1538.5ZM356.1 621H371.7V636.7H356.1ZM386.8 621H509.9V636.7H386.8ZM632.5 621H709.5V636.7H632.5ZM1354.2 621H1446.6V636.7H1354.2ZM1492.4 621H1538.8V636.7H1492.4ZM1569.2 621H1638.3V636.7H1569.2ZM310 605.7H494.6V621.3H310ZM1384.9 605.7H1431.3V621.3H1384.9ZM1523.1 605.7H1538.8V621.3H1523.1ZM1584.5 605.7H1638.3V621.3H1584.5ZM310 590.3H479.2V606H310ZM1400.3 590.3H1431.3V606H1400.3ZM371.4 575H479.2V590.6H371.4ZM432.8 559.6H463.8V575.3H432.8ZM478.9 559.6H494.6V575.3H478.9Z"/>
<path fill="#fa9857" d="M740 1357.8H755.6V1365.8H740ZM647.8 1311.8H663.5V1327.4H647.8ZM709.2 1311.8H724.9V1327.4H709.2ZM617.1 1296.4H755.6V1312.1H617.1ZM571 1281.1H586.7V1296.7H571ZM601.8 1281.1H771V1296.7H601.8ZM801.4 1281.1H817V1296.7H801.4ZM540.3 1265.7H678.8V1281.4H540.3ZM709.2 1265.7H740.3V1281.4H709.2ZM755.3 1265.7H786.3V1281.4H755.3ZM248.6 1250.4H279.6V1266H248.6ZM494.3 1250.4H632.8V1266H494.3ZM786 1250.4H817V1266H786ZM202.5 1235H310.3V1250.7H202.5ZM448.2 1235H525.3V1250.7H448.2ZM801.4 1235H817V1250.7H801.4ZM156.4 1219.7H494.6V1235.3H156.4ZM801.4 1219.7H817V1235.3H801.4ZM102 1204.3H310.3V1220H102ZM325.3 1204.3H479.2V1220H325.3ZM801.4 1204.3H832.4V1220H801.4ZM102 1189H202.8V1204.6H102ZM801.4 1189H832.4V1204.6H801.4ZM801.4 1173.6H832.4V1189.3H801.4ZM801.4 1158.3H832.4V1173.9H801.4ZM1262.1 1158.3H1293.1V1173.9H1262.1ZM801.4 1142.9H817V1158.6H801.4ZM617.1 1081.5H663.5V1097.2H617.1ZM601.8 1066.2H632.8V1081.8H601.8ZM601.8 1050.8H617.4V1066.5H601.8ZM1630.6 1004.8H1638.3V1020.4H1630.6ZM1599.9 989.4H1638.3V1005.1H1599.9ZM540.3 974.1H556V989.7H540.3ZM1492.4 974.1H1638.3V989.7H1492.4ZM525 958.7H540.6V974.4H525ZM571 958.7H602V974.4H571ZM1477 958.7H1638.3V974.4H1477ZM509.6 943.4H525.3V959H509.6ZM555.7 943.4H586.7V959H555.7ZM1461.7 943.4H1638.3V959H1461.7ZM494.3 928H509.9V943.7H494.3ZM555.7 928H586.7V943.7H555.7ZM1446.3 928H1630.9V943.7H1446.3ZM463.5 912.7H494.6V928.3H463.5ZM525 912.7H602V928.3H525ZM1446.3 912.7H1492.7V928.3H1446.3ZM1507.8 912.7H1523.4V928.3H1507.8ZM1538.5 912.7H1630.9V928.3H1538.5ZM340.7 897.3H509.9V913H340.7ZM555.7 897.3H602V913H555.7ZM1400.3 897.3H1415.9V913H1400.3ZM1553.8 897.3H1584.8V913H1553.8ZM325.3 882H525.3V897.6H325.3ZM540.3 882H586.7V897.6H540.3ZM1384.9 882H1431.3V897.6H1384.9ZM1477 882H1554.1V897.6H1477ZM294.6 866.6H402.4V882.3H294.6ZM417.5 866.6H433.1V882.3H417.5ZM1400.3 866.6H1415.9V882.3H1400.3ZM1461.7 866.6H1554.1V882.3H1461.7ZM233.2 851.3H264.2V866.9H233.2ZM279.3 851.3H402.4V866.9H279.3ZM1384.9 851.3H1415.9V866.9H1384.9ZM1446.3 851.3H1569.5V866.9H1446.3ZM248.6 835.9H402.4V851.6H248.6ZM1415.6 835.9H1569.5V851.6H1415.6ZM202.5 820.6H218.2V836.2H202.5ZM248.6 820.6H402.4V836.2H248.6ZM1169.9 820.6H1185.6V836.2H1169.9ZM1431 820.6H1569.5V836.2H1431ZM233.2 805.2H325.6V820.9H233.2ZM340.7 805.2H356.4V820.9H340.7ZM386.8 805.2H417.8V820.9H386.8ZM1016.4 805.2H1032V820.9H1016.4ZM1169.9 805.2H1200.9V820.9H1169.9ZM1231.3 805.2H1247V820.9H1231.3ZM1446.3 805.2H1569.5V820.9H1446.3ZM187.1 789.9H202.8V805.5H187.1ZM233.2 789.9H279.6V805.5H233.2ZM386.8 789.9H448.5V805.5H386.8ZM1001 789.9H1047.4V805.5H1001ZM1185.3 789.9H1247V805.5H1185.3ZM1292.8 789.9H1308.4V805.5H1292.8ZM1446.3 789.9H1569.5V805.5H1446.3ZM217.9 774.5H279.6V790.2H217.9ZM402.1 774.5H448.5V790.2H402.1ZM954.9 774.5H970.6V790.2H954.9ZM1001 774.5H1016.7V790.2H1001ZM1031.7 774.5H1047.4V790.2H1031.7ZM1200.6 774.5H1262.4V790.2H1200.6ZM1277.4 774.5H1308.4V790.2H1277.4ZM1323.5 774.5H1339.1V790.2H1323.5ZM1461.7 774.5H1523.4V790.2H1461.7ZM1553.8 774.5H1569.5V790.2H1553.8ZM202.5 759.2H294.9V774.8H202.5ZM417.5 759.2H448.5V774.8H417.5ZM954.9 759.2H1001.3V774.8H954.9ZM1016.4 759.2H1062.7V774.8H1016.4ZM1200.6 759.2H1339.1V774.8H1200.6ZM1384.9 759.2H1400.6V774.8H1384.9ZM1446.3 759.2H1523.4V774.8H1446.3ZM1553.8 759.2H1569.5V774.8H1553.8ZM202.5 743.8H325.6V759.5H202.5ZM432.8 743.8H448.5V759.5H432.8ZM954.9 743.8H1170.2V759.5H954.9ZM1216 743.8H1339.1V759.5H1216ZM1400.3 743.8H1431.3V759.5H1400.3ZM1461.7 743.8H1554.1V759.5H1461.7ZM202.5 728.5H264.2V744.1H202.5ZM279.3 728.5H341V744.1H279.3ZM371.4 728.5H433.1V744.1H371.4ZM985.7 728.5H1200.9V744.1H985.7ZM1216 728.5H1247V744.1H1216ZM1262.1 728.5H1277.7V744.1H1262.1ZM1292.8 728.5H1554.1V744.1H1292.8ZM110.4 713.1H126V728.8H110.4ZM202.5 713.1H264.2V728.8H202.5ZM294.6 713.1H325.6V728.8H294.6ZM340.7 713.1H494.6V728.8H340.7ZM740 713.1H755.6V728.8H740ZM954.9 713.1H1124.2V728.8H954.9ZM1139.2 713.1H1262.4V728.8H1139.2ZM1308.1 713.1H1446.6V728.8H1308.1ZM1523.1 713.1H1569.5V728.8H1523.1ZM217.9 697.8H248.9V713.4H217.9ZM371.4 697.8H509.9V713.4H371.4ZM525 697.8H632.8V713.4H525ZM693.9 697.8H878.5V713.4H693.9ZM908.9 697.8H1108.8V713.4H908.9ZM1185.3 697.8H1262.4V713.4H1185.3ZM1323.5 697.8H1446.6V713.4H1323.5ZM1538.5 697.8H1569.5V713.4H1538.5ZM233.2 682.4H248.9V698.1H233.2ZM386.8 682.4H556V698.1H386.8ZM586.4 682.4H1016.7V698.1H586.4ZM1231.3 682.4H1262.4V698.1H1231.3ZM1338.8 682.4H1462V698.1H1338.8ZM1553.8 682.4H1584.8V698.1H1553.8ZM402.1 667.1H540.6V682.7H402.1ZM617.1 667.1H724.9V682.7H617.1ZM1400.3 667.1H1415.9V682.7H1400.3ZM1431 667.1H1477.3V682.7H1431ZM1553.8 667.1H1600.2V682.7H1553.8ZM432.8 651.7H525.3V667.4H432.8ZM1461.7 651.7H1477.3V667.4H1461.7ZM1569.2 651.7H1600.2V667.4H1569.2Z"/>
<path fill="#f57547" d="M770.7 1327.1H786.3V1342.8H770.7ZM786 1311.8H801.7V1327.4H786ZM678.5 1265.7H709.5V1281.4H678.5ZM740 1265.7H755.6V1281.4H740ZM632.5 1250.4H786.3V1266H632.5ZM525 1235H801.7V1250.7H525ZM494.3 1219.7H801.7V1235.3H494.3ZM816.7 1219.7H832.4V1235.3H816.7ZM310 1204.3H325.6V1220H310ZM478.9 1204.3H740.3V1220H478.9ZM770.7 1204.3H801.7V1220H770.7ZM1200.6 1204.3H1216.3V1220H1200.6ZM1338.8 1204.3H1354.5V1220H1338.8ZM202.5 1189H709.5V1204.6H202.5ZM1185.3 1189H1216.3V1204.6H1185.3ZM1308.1 1189H1369.8V1204.6H1308.1ZM102 1173.6H617.4V1189.3H102ZM1169.9 1173.6H1200.9V1189.3H1169.9ZM1216 1173.6H1231.6V1189.3H1216ZM1262.1 1173.6H1385.2V1189.3H1262.1ZM102 1158.3H218.2V1173.9H102ZM248.6 1158.3H264.2V1173.9H248.6ZM279.3 1158.3H294.9V1173.9H279.3ZM310 1158.3H402.4V1173.9H310ZM432.8 1158.3H479.2V1173.9H432.8ZM494.3 1158.3H571.3V1173.9H494.3ZM1169.9 1158.3H1231.6V1173.9H1169.9ZM1246.7 1158.3H1262.4V1173.9H1246.7ZM1292.8 1158.3H1385.2V1173.9H1292.8ZM102 1142.9H218.2V1158.6H102ZM371.4 1142.9H387.1V1158.6H371.4ZM786 1142.9H801.7V1158.6H786ZM816.7 1142.9H832.4V1158.6H816.7ZM1169.9 1142.9H1200.9V1158.6H1169.9ZM1231.3 1142.9H1369.8V1158.6H1231.3ZM102 1127.6H202.8V1143.2H102ZM801.4 1127.6H817V1143.2H801.4ZM1200.6 1127.6H1216.3V1143.2H1200.6ZM1246.7 1127.6H1369.8V1143.2H1246.7ZM102 1112.2H126V1127.9H102ZM141.1 1112.2H202.8V1127.9H141.1ZM1200.6 1112.2H1354.5V1127.9H1200.6ZM156.4 1096.9H187.4V1112.5H156.4ZM617.1 1096.9H694.2V1112.5H617.1ZM1231.3 1096.9H1385.2V1112.5H1231.3ZM601.8 1081.5H617.4V1097.2H601.8ZM663.2 1081.5H678.8V1097.2H663.2ZM1231.3 1081.5H1400.6V1097.2H1231.3ZM1446.3 1081.5H1462V1097.2H1446.3ZM586.4 1066.2H602V1081.8H586.4ZM1216 1066.2H1462V1081.8H1216ZM571 1050.8H586.7V1066.5H571ZM1231.3 1050.8H1554.1V1066.5H1231.3ZM555.7 1035.5H617.4V1051.1H555.7ZM1246.7 1035.5H1369.8V1051.1H1246.7ZM1384.9 1035.5H1400.6V1051.1H1384.9ZM1431 1035.5H1638.3V1051.1H1431ZM555.7 1020.1H586.7V1035.8H555.7ZM1262.1 1020.1H1369.8V1035.8H1262.1ZM1431 1020.1H1638.3V1035.8H1431ZM571 1004.8H617.4V1020.4H571ZM1277.4 1004.8H1354.5V1020.4H1277.4ZM1446.3 1004.8H1630.9V1020.4H1446.3ZM540.3 989.4H571.3V1005.1H540.3ZM601.8 989.4H617.4V1005.1H601.8ZM1277.4 989.4H1354.5V1005.1H1277.4ZM1400.3 989.4H1415.9V1005.1H1400.3ZM1477 989.4H1600.2V1005.1H1477ZM525 974.1H540.6V989.7H525ZM601.8 974.1H617.4V989.7H601.8ZM1262.1 974.1H1369.8V989.7H1262.1ZM1400.3 974.1H1415.9V989.7H1400.3ZM1431 974.1H1492.7V989.7H1431ZM1231.3 958.7H1477.3V974.4H1231.3ZM432.8 943.4H479.2V959H432.8ZM494.3 943.4H509.9V959H494.3ZM586.4 943.4H602V959H586.4ZM1216 943.4H1462V959H1216ZM386.8 928H494.6V943.7H386.8ZM586.4 928H602V943.7H586.4ZM1200.6 928H1446.6V943.7H1200.6ZM356.1 912.7H463.8V928.3H356.1ZM601.8 912.7H617.4V928.3H601.8ZM1200.6 912.7H1446.6V928.3H1200.6ZM1492.4 912.7H1508.1V928.3H1492.4ZM1523.1 912.7H1538.8V928.3H1523.1ZM601.8 897.3H617.4V913H601.8ZM1185.3 897.3H1400.6V913H1185.3ZM1415.6 897.3H1554.1V913H1415.6ZM310 882H325.6V897.6H310ZM525 882H540.6V897.6H525ZM586.4 882H602V897.6H586.4ZM1185.3 882H1385.2V897.6H1185.3ZM1431 882H1477.3V897.6H1431ZM187.1 866.6H233.5V882.3H187.1ZM402.1 866.6H417.8V882.3H402.1ZM432.8 866.6H448.5V882.3H432.8ZM1093.1 866.6H1108.8V882.3H1093.1ZM1185.3 866.6H1400.6V882.3H1185.3ZM1415.6 866.6H1462V882.3H1415.6ZM141.1 851.3H233.5V866.9H141.1ZM263.9 851.3H279.6V866.9H263.9ZM402.1 851.3H463.8V866.9H402.1ZM1077.8 851.3H1108.8V866.9H1077.8ZM1139.2 851.3H1354.5V866.9H1139.2ZM1369.5 851.3H1385.2V866.9H1369.5ZM1415.6 851.3H1446.6V866.9H1415.6ZM102 835.9H218.2V851.6H102ZM402.1 835.9H463.8V851.6H402.1ZM970.3 835.9H1001.3V851.6H970.3ZM1062.4 835.9H1339.1V851.6H1062.4ZM1369.5 835.9H1415.9V851.6H1369.5ZM102 820.6H156.7V836.2H102ZM171.8 820.6H202.8V836.2H171.8ZM402.1 820.6H463.8V836.2H402.1ZM985.7 820.6H1170.2V836.2H985.7ZM1185.3 820.6H1339.1V836.2H1185.3ZM1369.5 820.6H1431.3V836.2H1369.5ZM102 805.2H156.7V820.9H102ZM187.1 805.2H202.8V820.9H187.1ZM325.3 805.2H341V820.9H325.3ZM356.1 805.2H387.1V820.9H356.1ZM417.5 805.2H463.8V820.9H417.5ZM786 805.2H832.4V820.9H786ZM970.3 805.2H1016.7V820.9H970.3ZM1031.7 805.2H1170.2V820.9H1031.7ZM1200.6 805.2H1231.6V820.9H1200.6ZM1246.7 805.2H1339.1V820.9H1246.7ZM1369.5 805.2H1446.6V820.9H1369.5ZM102 789.9H141.4V805.5H102ZM279.3 789.9H387.1V805.5H279.3ZM448.2 789.9H463.8V805.5H448.2ZM786 789.9H801.7V805.5H786ZM893.5 789.9H955.2V805.5H893.5ZM970.3 789.9H1001.3V805.5H970.3ZM1047.1 789.9H1185.6V805.5H1047.1ZM1246.7 789.9H1293.1V805.5H1246.7ZM1308.1 789.9H1446.6V805.5H1308.1ZM102 774.5H126V790.2H102ZM279.3 774.5H402.4V790.2H279.3ZM448.2 774.5H479.2V790.2H448.2ZM970.3 774.5H1001.3V790.2H970.3ZM1047.1 774.5H1200.9V790.2H1047.1ZM1262.1 774.5H1277.7V790.2H1262.1ZM1308.1 774.5H1323.8V790.2H1308.1ZM1338.8 774.5H1462V790.2H1338.8ZM294.6 759.2H417.8V774.8H294.6ZM448.2 759.2H479.2V774.8H448.2ZM601.8 759.2H648.1V774.8H601.8ZM939.6 759.2H955.2V774.8H939.6ZM1062.4 759.2H1200.9V774.8H1062.4ZM1338.8 759.2H1385.2V774.8H1338.8ZM1400.3 759.2H1446.6V774.8H1400.3ZM325.3 743.8H433.1V759.5H325.3ZM448.2 743.8H678.8V759.5H448.2ZM709.2 743.8H724.9V759.5H709.2ZM770.7 743.8H878.5V759.5H770.7ZM939.6 743.8H955.2V759.5H939.6ZM1169.9 743.8H1216.3V759.5H1169.9ZM1338.8 743.8H1400.6V759.5H1338.8ZM1431 743.8H1462V759.5H1431ZM141.1 728.5H156.7V744.1H141.1ZM340.7 728.5H371.7V744.1H340.7ZM432.8 728.5H986V744.1H432.8ZM1200.6 728.5H1216.3V744.1H1200.6ZM102 713.1H110.7V728.8H102ZM494.3 713.1H740.3V728.8H494.3ZM755.3 713.1H955.2V728.8H755.3ZM509.6 697.8H525.3V713.4H509.6ZM632.5 697.8H694.2V713.4H632.5ZM878.2 697.8H909.2V713.4H878.2Z"/>
<path fill="#e85b48" d="M1338.8 1296.4H1446.6V1312.1H1338.8ZM1461.7 1296.4H1523.4V1312.1H1461.7ZM1354.2 1281.1H1554.1V1296.7H1354.2ZM1354.2 1265.7H1538.8V1281.4H1354.2ZM1354.2 1250.4H1538.8V1266H1354.2ZM1200.6 1235H1216.3V1250.7H1200.6ZM1231.3 1235H1247V1250.7H1231.3ZM1354.2 1235H1569.5V1250.7H1354.2ZM1200.6 1219.7H1247V1235.3H1200.6ZM1338.8 1219.7H1523.4V1235.3H1338.8ZM1538.5 1219.7H1584.8V1235.3H1538.5ZM740 1204.3H771V1220H740ZM1169.9 1204.3H1200.9V1220H1169.9ZM1216 1204.3H1262.4V1220H1216ZM1354.2 1204.3H1523.4V1220H1354.2ZM1538.5 1204.3H1554.1V1220H1538.5ZM709.2 1189H801.7V1204.6H709.2ZM1169.9 1189H1185.6V1204.6H1169.9ZM1216 1189H1247V1204.6H1216ZM1277.4 1189H1308.4V1204.6H1277.4ZM1369.5 1189H1508.1V1204.6H1369.5ZM617.1 1173.6H801.7V1189.3H617.1ZM1200.6 1173.6H1216.3V1189.3H1200.6ZM1231.3 1173.6H1262.4V1189.3H1231.3ZM1384.9 1173.6H1538.8V1189.3H1384.9ZM217.9 1158.3H248.9V1173.9H217.9ZM263.9 1158.3H279.6V1173.9H263.9ZM294.6 1158.3H310.3V1173.9H294.6ZM402.1 1158.3H433.1V1173.9H402.1ZM478.9 1158.3H494.6V1173.9H478.9ZM571 1158.3H801.7V1173.9H571ZM1154.6 1158.3H1170.2V1173.9H1154.6ZM1231.3 1158.3H1247V1173.9H1231.3ZM1384.9 1158.3H1584.8V1173.9H1384.9ZM217.9 1142.9H371.7V1158.6H217.9ZM386.8 1142.9H786.3V1158.6H386.8ZM1154.6 1142.9H1170.2V1158.6H1154.6ZM1200.6 1142.9H1231.6V1158.6H1200.6ZM1369.5 1142.9H1630.9V1158.6H1369.5ZM202.5 1127.6H724.9V1143.2H202.5ZM740 1127.6H801.7V1143.2H740ZM1139.2 1127.6H1200.9V1143.2H1139.2ZM1216 1127.6H1247V1143.2H1216ZM1369.5 1127.6H1638.3V1143.2H1369.5ZM125.7 1112.2H141.4V1127.9H125.7ZM202.5 1112.2H709.5V1127.9H202.5ZM755.3 1112.2H817V1127.9H755.3ZM1139.2 1112.2H1200.9V1127.9H1139.2ZM1354.2 1112.2H1638.3V1127.9H1354.2ZM102 1096.9H156.7V1112.5H102ZM187.1 1096.9H310.3V1112.5H187.1ZM325.3 1096.9H617.4V1112.5H325.3ZM693.9 1096.9H709.5V1112.5H693.9ZM740 1096.9H801.7V1112.5H740ZM1139.2 1096.9H1231.6V1112.5H1139.2ZM1384.9 1096.9H1638.3V1112.5H1384.9ZM102 1081.5H294.9V1097.2H102ZM340.7 1081.5H602V1097.2H340.7ZM678.5 1081.5H786.3V1097.2H678.5ZM1139.2 1081.5H1231.6V1097.2H1139.2ZM1400.3 1081.5H1446.6V1097.2H1400.3ZM1461.7 1081.5H1638.3V1097.2H1461.7ZM102 1066.2H279.6V1081.8H102ZM356.1 1066.2H586.7V1081.8H356.1ZM632.5 1066.2H755.6V1081.8H632.5ZM1123.9 1066.2H1216.3V1081.8H1123.9ZM1461.7 1066.2H1638.3V1081.8H1461.7ZM102 1050.8H279.6V1066.5H102ZM386.8 1050.8H571.3V1066.5H386.8ZM617.1 1050.8H724.9V1066.5H617.1ZM1108.5 1050.8H1231.6V1066.5H1108.5ZM1553.8 1050.8H1638.3V1066.5H1553.8ZM102 1035.5H264.2V1051.1H102ZM386.8 1035.5H556V1051.1H386.8ZM617.1 1035.5H694.2V1051.1H617.1ZM1108.5 1035.5H1247V1051.1H1108.5ZM1369.5 1035.5H1385.2V1051.1H1369.5ZM1400.3 1035.5H1431.3V1051.1H1400.3ZM102 1020.1H202.8V1035.8H102ZM233.2 1020.1H264.2V1035.8H233.2ZM432.8 1020.1H556V1035.8H432.8ZM586.4 1020.1H678.8V1035.8H586.4ZM1123.9 1020.1H1262.4V1035.8H1123.9ZM1369.5 1020.1H1431.3V1035.8H1369.5ZM102 1004.8H218.2V1020.4H102ZM248.6 1004.8H264.2V1020.4H248.6ZM448.2 1004.8H571.3V1020.4H448.2ZM617.1 1004.8H678.8V1020.4H617.1ZM1108.5 1004.8H1277.7V1020.4H1108.5ZM1354.2 1004.8H1446.6V1020.4H1354.2ZM102 989.4H218.2V1005.1H102ZM263.9 989.4H279.6V1005.1H263.9ZM448.2 989.4H494.6V1005.1H448.2ZM525 989.4H540.6V1005.1H525ZM617.1 989.4H678.8V1005.1H617.1ZM1108.5 989.4H1277.7V1005.1H1108.5ZM1354.2 989.4H1400.6V1005.1H1354.2ZM1415.6 989.4H1477.3V1005.1H1415.6ZM110.4 974.1H172.1V989.7H110.4ZM187.1 974.1H233.5V989.7H187.1ZM432.8 974.1H479.2V989.7H432.8ZM494.3 974.1H525.3V989.7H494.3ZM617.1 974.1H663.5V989.7H617.1ZM1093.1 974.1H1262.4V989.7H1093.1ZM1369.5 974.1H1400.6V989.7H1369.5ZM1415.6 974.1H1431.3V989.7H1415.6ZM141.1 958.7H156.7V974.4H141.1ZM202.5 958.7H233.5V974.4H202.5ZM263.9 958.7H294.9V974.4H263.9ZM417.5 958.7H525.3V974.4H417.5ZM601.8 958.7H663.5V974.4H601.8ZM1093.1 958.7H1231.6V974.4H1093.1ZM217.9 943.4H264.2V959H217.9ZM279.3 943.4H310.3V959H279.3ZM371.4 943.4H433.1V959H371.4ZM478.9 943.4H494.6V959H478.9ZM601.8 943.4H678.8V959H601.8ZM1093.1 943.4H1216.3V959H1093.1ZM217.9 928H264.2V943.7H217.9ZM294.6 928H310.3V943.7H294.6ZM340.7 928H387.1V943.7H340.7ZM601.8 928H678.8V943.7H601.8ZM1062.4 928H1200.9V943.7H1062.4ZM202.5 912.7H264.2V928.3H202.5ZM325.3 912.7H356.4V928.3H325.3ZM617.1 912.7H663.5V928.3H617.1ZM755.3 912.7H786.3V928.3H755.3ZM1047.1 912.7H1200.9V928.3H1047.1ZM202.5 897.3H264.2V913H202.5ZM310 897.3H341V913H310ZM617.1 897.3H694.2V913H617.1ZM755.3 897.3H801.7V913H755.3ZM1031.7 897.3H1185.6V913H1031.7ZM187.1 882H264.2V897.6H187.1ZM294.6 882H310.3V897.6H294.6ZM601.8 882H617.4V897.6H601.8ZM647.8 882H694.2V897.6H647.8ZM740 882H832.4V897.6H740ZM847.4 882H863.1V897.6H847.4ZM970.3 882H1185.6V897.6H970.3ZM171.8 866.6H187.4V882.3H171.8ZM233.2 866.6H294.9V882.3H233.2ZM448.2 866.6H632.8V882.3H448.2ZM663.2 866.6H878.5V882.3H663.2ZM939.6 866.6H1093.4V882.3H939.6ZM1108.5 866.6H1185.6V882.3H1108.5ZM102 851.3H141.4V866.9H102ZM463.5 851.3H648.1V866.9H463.5ZM678.5 851.3H1078.1V866.9H678.5ZM1108.5 851.3H1139.5V866.9H1108.5ZM1354.2 851.3H1369.8V866.9H1354.2ZM463.5 835.9H586.7V851.6H463.5ZM601.8 835.9H632.8V851.6H601.8ZM678.5 835.9H970.6V851.6H678.5ZM1001 835.9H1062.7V851.6H1001ZM1338.8 835.9H1369.8V851.6H1338.8ZM156.4 820.6H172.1V836.2H156.4ZM463.5 820.6H556V836.2H463.5ZM617.1 820.6H648.1V836.2H617.1ZM663.2 820.6H986V836.2H663.2ZM1338.8 820.6H1369.8V836.2H1338.8ZM463.5 805.2H540.6V820.9H463.5ZM617.1 805.2H786.3V820.9H617.1ZM832.1 805.2H970.6V820.9H832.1ZM1338.8 805.2H1369.8V820.9H1338.8ZM141.1 789.9H156.7V805.5H141.1ZM463.5 789.9H540.6V805.5H463.5ZM571 789.9H755.6V805.5H571ZM770.7 789.9H786.3V805.5H770.7ZM801.4 789.9H893.8V805.5H801.4ZM954.9 789.9H970.6V805.5H954.9ZM125.7 774.5H156.7V790.2H125.7ZM478.9 774.5H955.2V790.2H478.9ZM102 759.2H126V774.8H102ZM141.1 759.2H187.4V774.8H141.1ZM478.9 759.2H602V774.8H478.9ZM647.8 759.2H939.9V774.8H647.8ZM102 743.8H110.7V759.5H102ZM141.1 743.8H172.1V759.5H141.1ZM678.5 743.8H709.5V759.5H678.5ZM724.6 743.8H771V759.5H724.6ZM878.2 743.8H939.9V759.5H878.2ZM102 728.5H141.4V744.1H102Z"/>
<path fill="#d7414e" d="M1415.6 1342.5H1431.3V1358.1H1415.6ZM1492.4 1342.5H1508.1V1358.1H1492.4ZM1400.3 1327.1H1523.4V1342.8H1400.3ZM1323.5 1311.8H1385.2V1327.4H1323.5ZM1400.3 1311.8H1569.5V1327.4H1400.3ZM1584.5 1311.8H1600.2V1327.4H1584.5ZM1446.3 1296.4H1462V1312.1H1446.3ZM1523.1 1296.4H1638.3V1312.1H1523.1ZM1231.3 1281.1H1277.7V1296.7H1231.3ZM1338.8 1281.1H1354.5V1296.7H1338.8ZM1553.8 1281.1H1638.3V1296.7H1553.8ZM816.7 1265.7H832.4V1281.4H816.7ZM1200.6 1265.7H1277.7V1281.4H1200.6ZM1338.8 1265.7H1354.5V1281.4H1338.8ZM1538.5 1265.7H1638.3V1281.4H1538.5ZM816.7 1250.4H832.4V1266H816.7ZM1200.6 1250.4H1277.7V1266H1200.6ZM1338.8 1250.4H1354.5V1266H1338.8ZM1538.5 1250.4H1638.3V1266H1538.5ZM816.7 1235H832.4V1250.7H816.7ZM1185.3 1235H1200.9V1250.7H1185.3ZM1216 1235H1231.6V1250.7H1216ZM1246.7 1235H1262.4V1250.7H1246.7ZM1338.8 1235H1354.5V1250.7H1338.8ZM1569.2 1235H1638.3V1250.7H1569.2ZM1169.9 1219.7H1200.9V1235.3H1169.9ZM1246.7 1219.7H1277.7V1235.3H1246.7ZM1523.1 1219.7H1538.8V1235.3H1523.1ZM1584.5 1219.7H1638.3V1235.3H1584.5ZM1154.6 1204.3H1170.2V1220H1154.6ZM1262.1 1204.3H1293.1V1220H1262.1ZM1323.5 1204.3H1339.1V1220H1323.5ZM1523.1 1204.3H1538.8V1220H1523.1ZM1553.8 1204.3H1638.3V1220H1553.8ZM1139.2 1189H1170.2V1204.6H1139.2ZM1246.7 1189H1277.7V1204.6H1246.7ZM1507.8 1189H1600.2V1204.6H1507.8ZM1615.2 1189H1638.3V1204.6H1615.2ZM878.2 1173.6H909.2V1189.3H878.2ZM1139.2 1173.6H1170.2V1189.3H1139.2ZM1538.5 1173.6H1584.8V1189.3H1538.5ZM862.8 1158.3H924.5V1173.9H862.8ZM1139.2 1158.3H1154.9V1173.9H1139.2ZM1584.5 1158.3H1638.3V1173.9H1584.5ZM862.8 1142.9H924.5V1158.6H862.8ZM1139.2 1142.9H1154.9V1158.6H1139.2ZM1630.6 1142.9H1638.3V1158.6H1630.6ZM724.6 1127.6H740.3V1143.2H724.6ZM816.7 1127.6H924.5V1143.2H816.7ZM939.6 1127.6H955.2V1143.2H939.6ZM1123.9 1127.6H1139.5V1143.2H1123.9ZM709.2 1112.2H755.6V1127.9H709.2ZM816.7 1112.2H970.6V1127.9H816.7ZM1093.1 1112.2H1139.5V1127.9H1093.1ZM310 1096.9H325.6V1112.5H310ZM709.2 1096.9H740.3V1112.5H709.2ZM801.4 1096.9H986V1112.5H801.4ZM1031.7 1096.9H1047.4V1112.5H1031.7ZM1077.8 1096.9H1139.5V1112.5H1077.8ZM294.6 1081.5H341V1097.2H294.6ZM786 1081.5H817V1097.2H786ZM847.4 1081.5H986V1097.2H847.4ZM1031.7 1081.5H1139.5V1097.2H1031.7ZM279.3 1066.2H356.4V1081.8H279.3ZM755.3 1066.2H801.7V1081.8H755.3ZM862.8 1066.2H970.6V1081.8H862.8ZM1001 1066.2H1016.7V1081.8H1001ZM1047.1 1066.2H1124.2V1081.8H1047.1ZM279.3 1050.8H387.1V1066.5H279.3ZM724.6 1050.8H801.7V1066.5H724.6ZM878.2 1050.8H909.2V1066.5H878.2ZM924.2 1050.8H970.6V1066.5H924.2ZM985.7 1050.8H1108.8V1066.5H985.7ZM263.9 1035.5H387.1V1051.1H263.9ZM693.9 1035.5H786.3V1051.1H693.9ZM939.6 1035.5H970.6V1051.1H939.6ZM985.7 1035.5H1108.8V1051.1H985.7ZM202.5 1020.1H233.5V1035.8H202.5ZM263.9 1020.1H433.1V1035.8H263.9ZM678.5 1020.1H724.9V1035.8H678.5ZM755.3 1020.1H801.7V1035.8H755.3ZM924.2 1020.1H1124.2V1035.8H924.2ZM217.9 1004.8H248.9V1020.4H217.9ZM263.9 1004.8H448.5V1020.4H263.9ZM678.5 1004.8H724.9V1020.4H678.5ZM755.3 1004.8H817V1020.4H755.3ZM893.5 1004.8H955.2V1020.4H893.5ZM970.3 1004.8H1108.8V1020.4H970.3ZM217.9 989.4H264.2V1005.1H217.9ZM279.3 989.4H448.5V1005.1H279.3ZM494.3 989.4H525.3V1005.1H494.3ZM678.5 989.4H724.9V1005.1H678.5ZM755.3 989.4H847.7V1005.1H755.3ZM878.2 989.4H939.9V1005.1H878.2ZM985.7 989.4H1108.8V1005.1H985.7ZM102 974.1H110.7V989.7H102ZM171.8 974.1H187.4V989.7H171.8ZM233.2 974.1H433.1V989.7H233.2ZM478.9 974.1H494.6V989.7H478.9ZM663.2 974.1H955.2V989.7H663.2ZM970.3 974.1H1093.4V989.7H970.3ZM102 958.7H141.4V974.4H102ZM156.4 958.7H202.8V974.4H156.4ZM233.2 958.7H264.2V974.4H233.2ZM294.6 958.7H417.8V974.4H294.6ZM663.2 958.7H1093.4V974.4H663.2ZM102 943.4H218.2V959H102ZM263.9 943.4H279.6V959H263.9ZM310 943.4H371.7V959H310ZM678.5 943.4H1093.4V959H678.5ZM102 928H218.2V943.7H102ZM263.9 928H294.9V943.7H263.9ZM310 928H341V943.7H310ZM678.5 928H1062.7V943.7H678.5ZM102 912.7H202.8V928.3H102ZM263.9 912.7H325.6V928.3H263.9ZM663.2 912.7H755.6V928.3H663.2ZM786 912.7H1047.4V928.3H786ZM102 897.3H202.8V913H102ZM263.9 897.3H310.3V913H263.9ZM693.9 897.3H755.6V913H693.9ZM801.4 897.3H1032V913H801.4ZM102 882H187.4V897.6H102ZM263.9 882H294.9V897.6H263.9ZM617.1 882H648.1V897.6H617.1ZM693.9 882H740.3V897.6H693.9ZM832.1 882H847.7V897.6H832.1ZM862.8 882H970.6V897.6H862.8ZM102 866.6H172.1V882.3H102ZM632.5 866.6H663.5V882.3H632.5ZM878.2 866.6H939.9V882.3H878.2ZM647.8 851.3H678.8V866.9H647.8ZM586.4 835.9H602V851.6H586.4ZM632.5 835.9H678.8V851.6H632.5ZM555.7 820.6H617.4V836.2H555.7ZM647.8 820.6H663.5V836.2H647.8ZM156.4 805.2H187.4V820.9H156.4ZM540.3 805.2H617.4V820.9H540.3ZM540.3 789.9H571.3V805.5H540.3ZM755.3 789.9H771V805.5H755.3ZM110.4 743.8H141.4V759.5H110.4Z"/>
<path fill="#bc2249" d="M1031.7 1357.8H1139.5V1365.8H1031.7ZM1154.6 1357.8H1200.9V1365.8H1154.6ZM1292.8 1357.8H1339.1V1365.8H1292.8ZM1369.5 1357.8H1638.3V1365.8H1369.5ZM755.3 1342.5H771V1358.1H755.3ZM1031.7 1342.5H1139.5V1358.1H1031.7ZM1185.3 1342.5H1200.9V1358.1H1185.3ZM1277.4 1342.5H1354.5V1358.1H1277.4ZM1369.5 1342.5H1415.9V1358.1H1369.5ZM1431 1342.5H1492.7V1358.1H1431ZM1507.8 1342.5H1638.3V1358.1H1507.8ZM1031.7 1327.1H1139.5V1342.8H1031.7ZM1200.6 1327.1H1262.4V1342.8H1200.6ZM1277.4 1327.1H1400.6V1342.8H1277.4ZM1523.1 1327.1H1638.3V1342.8H1523.1ZM801.4 1311.8H832.4V1327.4H801.4ZM1031.7 1311.8H1154.9V1327.4H1031.7ZM1200.6 1311.8H1262.4V1327.4H1200.6ZM1277.4 1311.8H1323.8V1327.4H1277.4ZM1384.9 1311.8H1400.6V1327.4H1384.9ZM1569.2 1311.8H1584.8V1327.4H1569.2ZM1599.9 1311.8H1638.3V1327.4H1599.9ZM801.4 1296.4H832.4V1312.1H801.4ZM1047.1 1296.4H1339.1V1312.1H1047.1ZM816.7 1281.1H863.1V1296.7H816.7ZM1062.4 1281.1H1108.8V1296.7H1062.4ZM1154.6 1281.1H1231.6V1296.7H1154.6ZM1277.4 1281.1H1339.1V1296.7H1277.4ZM832.1 1265.7H878.5V1281.4H832.1ZM1169.9 1265.7H1200.9V1281.4H1169.9ZM1277.4 1265.7H1293.1V1281.4H1277.4ZM1308.1 1265.7H1339.1V1281.4H1308.1ZM832.1 1250.4H878.5V1266H832.1ZM1185.3 1250.4H1200.9V1266H1185.3ZM1277.4 1250.4H1293.1V1266H1277.4ZM1308.1 1250.4H1339.1V1266H1308.1ZM832.1 1235H878.5V1250.7H832.1ZM1169.9 1235H1185.6V1250.7H1169.9ZM1262.1 1235H1339.1V1250.7H1262.1ZM832.1 1219.7H847.7V1235.3H832.1ZM862.8 1219.7H893.8V1235.3H862.8ZM1139.2 1219.7H1170.2V1235.3H1139.2ZM1277.4 1219.7H1339.1V1235.3H1277.4ZM832.1 1204.3H939.9V1220H832.1ZM1139.2 1204.3H1154.9V1220H1139.2ZM1292.8 1204.3H1323.8V1220H1292.8ZM832.1 1189H909.2V1204.6H832.1ZM1599.9 1189H1615.5V1204.6H1599.9ZM832.1 1173.6H878.5V1189.3H832.1ZM908.9 1173.6H924.5V1189.3H908.9ZM1123.9 1173.6H1139.5V1189.3H1123.9ZM1584.5 1173.6H1638.3V1189.3H1584.5ZM832.1 1158.3H847.7V1173.9H832.1ZM924.2 1158.3H939.9V1173.9H924.2ZM1123.9 1158.3H1139.5V1173.9H1123.9ZM832.1 1142.9H863.1V1158.6H832.1ZM924.2 1142.9H955.2V1158.6H924.2ZM1108.5 1142.9H1139.5V1158.6H1108.5ZM924.2 1127.6H939.9V1143.2H924.2ZM985.7 1127.6H1124.2V1143.2H985.7ZM970.3 1112.2H1093.4V1127.9H970.3ZM985.7 1096.9H1032V1112.5H985.7ZM1047.1 1096.9H1078.1V1112.5H1047.1ZM816.7 1081.5H847.7V1097.2H816.7ZM985.7 1081.5H1032V1097.2H985.7ZM801.4 1066.2H863.1V1081.8H801.4ZM970.3 1066.2H1001.3V1081.8H970.3ZM1016.4 1066.2H1047.4V1081.8H1016.4ZM801.4 1050.8H832.4V1066.5H801.4ZM862.8 1050.8H878.5V1066.5H862.8ZM908.9 1050.8H924.5V1066.5H908.9ZM970.3 1050.8H986V1066.5H970.3ZM786 1035.5H817V1051.1H786ZM862.8 1035.5H939.9V1051.1H862.8ZM970.3 1035.5H986V1051.1H970.3ZM724.6 1020.1H755.6V1035.8H724.6ZM801.4 1020.1H817V1035.8H801.4ZM862.8 1020.1H924.5V1035.8H862.8ZM724.6 1004.8H755.6V1020.4H724.6ZM816.7 1004.8H893.8V1020.4H816.7ZM954.9 1004.8H970.6V1020.4H954.9ZM724.6 989.4H755.6V1005.1H724.6ZM847.4 989.4H878.5V1005.1H847.4ZM939.6 989.4H986V1005.1H939.6ZM954.9 974.1H970.6V989.7H954.9ZM156.4 789.9H187.4V805.5H156.4ZM156.4 774.5H187.4V790.2H156.4ZM125.7 759.2H141.4V774.8H125.7Z"/>
<path fill="#9e0142" d="M755.3 1357.8H1032V1365.8H755.3ZM1139.2 1357.8H1154.9V1365.8H1139.2ZM1200.6 1357.8H1293.1V1365.8H1200.6ZM1338.8 1357.8H1369.8V1365.8H1338.8ZM770.7 1342.5H1032V1358.1H770.7ZM1139.2 1342.5H1185.6V1358.1H1139.2ZM1200.6 1342.5H1277.7V1358.1H1200.6ZM1354.2 1342.5H1369.8V1358.1H1354.2ZM786 1327.1H1032V1342.8H786ZM1139.2 1327.1H1200.9V1342.8H1139.2ZM1262.1 1327.1H1277.7V1342.8H1262.1ZM832.1 1311.8H1032V1327.4H832.1ZM1154.6 1311.8H1200.9V1327.4H1154.6ZM1262.1 1311.8H1277.7V1327.4H1262.1ZM832.1 1296.4H1047.4V1312.1H832.1ZM862.8 1281.1H1062.7V1296.7H862.8ZM1108.5 1281.1H1154.9V1296.7H1108.5ZM878.2 1265.7H1170.2V1281.4H878.2ZM1292.8 1265.7H1308.4V1281.4H1292.8ZM878.2 1250.4H1185.6V1266H878.2ZM1292.8 1250.4H1308.4V1266H1292.8ZM878.2 1235H1170.2V1250.7H878.2ZM847.4 1219.7H863.1V1235.3H847.4ZM893.5 1219.7H1139.5V1235.3H893.5ZM939.6 1204.3H1139.5V1220H939.6ZM908.9 1189H1139.5V1204.6H908.9ZM924.2 1173.6H1124.2V1189.3H924.2ZM847.4 1158.3H863.1V1173.9H847.4ZM939.6 1158.3H1124.2V1173.9H939.6ZM954.9 1142.9H1108.8V1158.6H954.9ZM954.9 1127.6H986V1143.2H954.9ZM832.1 1050.8H863.1V1066.5H832.1ZM816.7 1035.5H863.1V1051.1H816.7ZM816.7 1020.1H863.1V1035.8H816.7Z"/>
</g>
<path class="grid" d="M410.4 137.8 V1365.8"/>
<path class="grid" d="M717.5 137.8 V1365.8"/>
<path class="grid" d="M1024.6 137.8 V1365.8"/>
<path class="grid" d="M1331.8 137.8 V1365.8"/>
<path class="grid" d="M102 1212.3 H1638"/>
<path class="grid" d="M102 1058.8 H1638"/>
<path class="grid" d="M102 905.3 H1638"/>
<path class="grid" d="M102 751.8 H1638"/>
<path class="grid" d="M102 598.3 H1638"/>
<path class="grid" d="M102 444.8 H1638"/>
<path class="grid" d="M102 291.3 H1638"/>
<defs><mask id="lm" maskUnits="userSpaceOnUse" x="0" y="0" width="1980" height="1440"><rect x="0" y="0" width="1980" height="1440" fill="#fff"/><rect x="241.2" y="187" width="37.6" height="18" fill="#000" transform="rotate(-20 260 196)"/><rect x="1251.2" y="151" width="37.6" height="18" fill="#000" transform="rotate(0 1270 160)"/><rect x="1559.2" y="176" width="37.6" height="18" fill="#000" transform="rotate(80 1578 185)"/><rect x="697.6" y="292" width="36.7" height="18" fill="#000" transform="rotate(-15 716 301)"/><rect x="589.3" y="340" width="37.4" height="18" fill="#000" transform="rotate(-8 608 349)"/><rect x="1365.3" y="266" width="37.4" height="18" fill="#000" transform="rotate(25 1384 275)"/><rect x="790.3" y="313" width="37.4" height="18" fill="#000" transform="rotate(-8 809 322)"/><rect x="913.3" y="362" width="37.5" height="18" fill="#000" transform="rotate(15 932 371)"/><rect x="836.2" y="396" width="37.6" height="18" fill="#000" transform="rotate(5 855 405)"/><rect x="1127.6" y="465" width="36.7" height="18" fill="#000" transform="rotate(-3 1146 474)"/><rect x="1174.3" y="496" width="37.4" height="18" fill="#000" transform="rotate(-6 1193 505)"/><rect x="1357.5" y="494" width="25" height="18" fill="#000" transform="rotate(-25 1370 503)"/><rect x="782.4" y="514" width="25.1" height="18" fill="#000" transform="rotate(-3 795 523)"/><rect x="980.4" y="568" width="25.3" height="18" fill="#000" transform="rotate(4 993 577)"/><rect x="810.8" y="563" width="24.4" height="18" fill="#000" transform="rotate(8 823 572)"/><rect x="1154" y="632" width="18.1" height="18" fill="#000" transform="rotate(0 1163 641)"/><rect x="1044.3" y="648" width="17.4" height="18" fill="#000" transform="rotate(10 1053 657)"/><rect x="1476.3" y="581" width="17.4" height="18" fill="#000" transform="rotate(-20 1485 590)"/><rect x="1152.9" y="705" width="18.3" height="18" fill="#000" transform="rotate(0 1162 714)"/><rect x="1383.9" y="688" width="18.3" height="18" fill="#000" transform="rotate(-30 1393 697)"/><rect x="308.9" y="691" width="18.3" height="18" fill="#000" transform="rotate(0 318 700)"/><rect x="215.9" y="699" width="18.1" height="18" fill="#000" transform="rotate(0 225 708)"/><rect x="999.9" y="722" width="18.1" height="18" fill="#000" transform="rotate(0 1009 731)"/><rect x="616" y="737" width="18" height="18" fill="#000" transform="rotate(0 625 746)"/><rect x="815" y="793" width="18" height="18" fill="#000" transform="rotate(0 824 802)"/><rect x="1094" y="769" width="18" height="18" fill="#000" transform="rotate(-30 1103 778)"/><rect x="1321" y="819" width="18" height="18" fill="#000" transform="rotate(90 1330 828)"/><rect x="561.8" y="791" width="30.4" height="18" fill="#000" transform="rotate(0 577 800)"/><rect x="760.8" y="767" width="30.4" height="18" fill="#000" transform="rotate(-10 776 776)"/><rect x="499.8" y="844" width="30.4" height="18" fill="#000" transform="rotate(0 515 853)"/><rect x="609.8" y="859" width="30.4" height="18" fill="#000" transform="rotate(-50 625 868)"/><rect x="1306.9" y="884" width="18.1" height="18" fill="#000" transform="rotate(0 1316 893)"/><rect x="554.9" y="901" width="18.3" height="18" fill="#000" transform="rotate(0 564 910)"/><rect x="689.8" y="926" width="30.4" height="18" fill="#000" transform="rotate(30 705 935)"/><rect x="837.8" y="924" width="30.4" height="18" fill="#000" transform="rotate(-40 853 933)"/><rect x="149.8" y="971" width="30.4" height="18" fill="#000" transform="rotate(30 165 980)"/><rect x="733.1" y="976" width="29.7" height="18" fill="#000" transform="rotate(30 748 985)"/><rect x="554.9" y="971" width="18.3" height="18" fill="#000" transform="rotate(0 564 980)"/><rect x="839.7" y="1008" width="30.6" height="18" fill="#000" transform="rotate(0 855 1017)"/><rect x="1161.8" y="1015" width="30.4" height="18" fill="#000" transform="rotate(0 1177 1024)"/><rect x="1061" y="1024" width="18" height="18" fill="#000" transform="rotate(-40 1070 1033)"/><rect x="484.8" y="974" width="30.4" height="18" fill="#000" transform="rotate(-30 500 983)"/><rect x="1444" y="1001" width="18" height="18" fill="#000" transform="rotate(0 1453 1010)"/><rect x="993.1" y="1011" width="29.7" height="18" fill="#000" transform="rotate(80 1008 1020)"/><rect x="850.1" y="1063" width="29.7" height="18" fill="#000" transform="rotate(-50 865 1072)"/><rect x="584.9" y="1043" width="18.3" height="18" fill="#000" transform="rotate(-70 594 1052)"/><rect x="598.9" y="1071" width="18.1" height="18" fill="#000" transform="rotate(0 608 1080)"/><rect x="630.9" y="1071" width="18.1" height="18" fill="#000" transform="rotate(0 640 1080)"/><rect x="708" y="1073" width="18" height="18" fill="#000" transform="rotate(0 717 1082)"/><rect x="646" y="1094" width="18" height="18" fill="#000" transform="rotate(0 655 1103)"/><rect x="715.8" y="1093" width="30.4" height="18" fill="#000" transform="rotate(0 731 1102)"/><rect x="913.8" y="1093" width="30.4" height="18" fill="#000" transform="rotate(80 929 1102)"/><rect x="1430" y="1107" width="18" height="18" fill="#000" transform="rotate(0 1439 1116)"/><rect x="1277" y="1121" width="18" height="18" fill="#000" transform="rotate(0 1286 1130)"/><rect x="823.1" y="1136" width="29.7" height="18" fill="#000" transform="rotate(-60 838 1145)"/><rect x="1134.8" y="1141" width="30.4" height="18" fill="#000" transform="rotate(60 1150 1150)"/><rect x="554" y="1156" width="18" height="18" fill="#000" transform="rotate(0 563 1165)"/><rect x="230.9" y="1196" width="18.1" height="18" fill="#000" transform="rotate(0 240 1205)"/><rect x="1553.1" y="1174" width="29.7" height="18" fill="#000" transform="rotate(-60 1568 1183)"/><rect x="446.9" y="1236" width="18.3" height="18" fill="#000" transform="rotate(0 456 1245)"/><rect x="1300.7" y="1225" width="30.6" height="18" fill="#000" transform="rotate(-20 1316 1234)"/><rect x="882.8" y="1261" width="30.5" height="18" fill="#000" transform="rotate(60 898 1270)"/><rect x="284.3" y="1281" width="17.4" height="18" fill="#000" transform="rotate(0 293 1290)"/><rect x="1160.7" y="1297" width="30.6" height="18" fill="#000" transform="rotate(0 1176 1306)"/><rect x="1024.7" y="1309" width="30.6" height="18" fill="#000" transform="rotate(-30 1040 1318)"/><rect x="124.3" y="1348" width="17.4" height="18" fill="#000" transform="rotate(0 133 1357)"/><rect x="508.3" y="1343" width="17.4" height="18" fill="#000" transform="rotate(80 517 1352)"/><rect x="946.7" y="1347" width="30.6" height="18" fill="#000" transform="rotate(15 962 1356)"/><rect x="1334.7" y="1341" width="30.6" height="18" fill="#000" transform="rotate(-45 1350 1350)"/><rect x="1452.7" y="1349" width="30.6" height="18" fill="#000" transform="rotate(0 1468 1358)"/><rect x="1498.7" y="1349" width="30.6" height="18" fill="#000" transform="rotate(0 1514 1358)"/><rect x="112.8" y="351" width="24.4" height="18" fill="#000" transform="rotate(70 125 360)"/><rect x="137.8" y="416" width="24.4" height="18" fill="#000" transform="rotate(60 150 425)"/><rect x="111" y="516" width="18.1" height="18" fill="#000" transform="rotate(60 120 525)"/><rect x="99" y="641" width="18.1" height="18" fill="#000" transform="rotate(80 108 650)"/><rect x="109" y="806" width="18" height="18" fill="#000" transform="rotate(90 118 815)"/></mask></defs>
<g mask="url(#lm)">
<path class="cl dot" d="M102.3 252.4C104.7 251.1 111.8 247.2 117.1 244.7C122.4 242.1 126.6 239.1 134.2 237C141.8 234.8 155.1 231.5 162.7 231.8C170.3 232.2 173.6 238.5 179.8 239C185.9 239.4 193.5 236.9 199.7 234.7C205.9 232.5 211.1 229.1 216.8 225.6C222.5 222 226.8 216.5 233.9 213.3C241 210.2 251.9 209 259.5 206.8C267.1 204.6 273.3 202.4 279.5 199.9C285.6 197.5 290.8 195.2 296.5 192C302.2 188.7 307.5 184.3 313.6 180.6C319.8 176.9 327.9 170.9 333.6 169.8C339.3 168.6 342.1 173.1 347.8 173.5C353.5 173.8 361.6 171.4 367.8 172C373.9 172.6 380.1 174.8 384.8 177.2C389.6 179.5 393.6 182.5 396.2 186.3C398.9 190.1 401.5 195.2 400.5 199.9C399.6 204.7 389.8 210.6 390.5 214.8C391.3 218.9 399.6 221.9 404.8 224.7C410 227.6 416.7 229.2 421.9 231.8C427.1 234.5 430.4 238 436.1 240.4C441.8 242.8 451.8 243.2 456.1 246.1C460.3 248.9 461 253.4 461.8 257.5C462.5 261.5 461.5 266.3 460.3 270.3C459.1 274.3 454.2 277.7 454.6 281.7C455.1 285.7 458.7 291 463.2 294.5C467.7 298.1 476.9 300.9 481.7 303.1C486.4 305.2 491.9 304.2 491.7 307.3C491.4 310.4 479.6 318.5 480.3 321.6C481 324.7 491.4 324.2 495.9 325.8C500.4 327.5 503.1 328.9 507.3 331.5C511.6 334.2 514.9 340.2 521.6 341.5C528.2 342.8 541 341.2 547.2 339.5C553.4 337.9 553.4 333.3 558.6 331.5C563.8 329.7 571.9 328.7 578.5 328.7C585.2 328.7 589.9 331.1 598.5 331.5C607 332 618.9 332.7 629.8 331.5C640.7 330.4 656.4 326.1 664 324.4C671.6 322.8 671.6 323.5 675.5 321.6C679.3 319.7 682.3 315.4 686.8 313C691.4 310.7 694.9 309.7 702.5 307.3C710.1 305 722.7 301.6 732.4 298.8C742.2 295.9 751.4 292.9 760.9 290.2C770.4 287.6 780.8 285.3 789.4 283.1C797.9 281 805.1 279.8 812.2 277.4C819.3 275.1 826.4 272.7 832.1 268.9C837.8 265.1 841.1 258.2 846.4 254.6C851.6 251.1 857.3 249.7 863.5 247.5C869.6 245.4 875.3 242.6 883.4 241.8C891.5 241 901.4 242.8 911.9 242.7C922.3 242.5 937 240.8 946.1 241C955.1 241.2 958.9 243.7 966 243.8C973.1 244 980.2 242.6 988.8 241.8C997.3 241 1007.8 240.2 1017.3 239C1026.8 237.8 1033.9 235.3 1045.8 234.7C1057.6 234.1 1075.7 235.3 1088.5 235.3C1101.3 235.3 1114.6 235.7 1122.7 234.7C1130.7 233.7 1133.6 230.9 1136.9 229C1140.2 227.1 1139.8 224.5 1142.6 223.3C1145.5 222.1 1150.2 222.4 1154 221.9C1157.8 221.4 1160.2 221.9 1165.5 220.5C1170.7 219 1179.2 215.7 1185.4 213.3C1191.6 211 1197.3 209.5 1202.5 206.2C1207.7 202.9 1210.6 196 1216.7 193.4C1222.9 190.8 1232.4 191.5 1239.5 190.5C1246.6 189.6 1255.7 189.6 1259.5 187.7C1263.3 185.8 1259 181.1 1262.3 179.2C1265.6 177.3 1271.8 177.7 1279.4 176.3C1287 174.9 1300.3 173 1307.9 170.6C1315.5 168.2 1317.8 164 1325 162.1C1332.1 160.2 1342.1 160.6 1350.6 159.2C1359.2 157.8 1370.1 155.2 1376.2 153.5C1382.4 151.9 1384.3 149.7 1387.6 149.2C1391 148.8 1394.5 148.3 1396.2 150.7C1397.8 153 1396.4 159 1397.6 163.5C1398.8 168 1403.1 173.7 1403.3 177.7C1403.5 181.8 1401.6 186 1399 187.7C1396.4 189.4 1391 188.6 1387.6 187.7C1384.3 186.7 1381.5 182.2 1379.1 182C1376.7 181.8 1374.8 183.4 1373.4 186.3C1372 189.1 1373.9 195.8 1370.5 199.1C1367.2 202.4 1358.7 203.8 1353.5 206.2C1348.2 208.6 1343.5 210.5 1339.2 213.3C1334.9 216.2 1331.1 220 1327.8 223.3C1324.5 226.6 1320.9 229.9 1319.3 233.3C1317.6 236.6 1316.4 240.9 1317.8 243.2C1319.3 245.6 1323.8 247.3 1327.8 247.5C1331.9 247.8 1335.9 247 1342.1 244.7C1348.2 242.3 1357.3 236.8 1364.8 233.3C1372.4 229.7 1380.5 226.4 1387.6 223.3C1394.8 220.2 1401.9 216.9 1407.6 214.8C1413.3 212.6 1417.1 211.9 1421.8 210.5C1426.6 209.1 1432 206.2 1436.1 206.2C1440.1 206.2 1443.7 208.1 1446 210.5C1448.4 212.9 1447.7 219 1450.3 220.5C1452.9 221.9 1457.9 219.5 1461.7 219C1465.5 218.6 1469.8 215.9 1473.1 217.6C1476.4 219.3 1479.3 225.9 1481.6 229C1484 232.1 1484 235.4 1487.3 236.1C1490.7 236.8 1497.3 234.7 1501.6 233.3C1505.8 231.8 1508.7 228.8 1513 227.6C1517.2 226.4 1522.9 225.9 1527.2 226.2C1531.5 226.4 1535.3 227.6 1538.6 229C1541.9 230.4 1542.9 233.7 1547.2 234.7C1551.4 235.6 1556.6 234.3 1564.2 234.7C1571.8 235.1 1584.7 237.7 1592.7 237C1600.8 236.3 1607.9 231.8 1612.7 230.4C1617.4 229.1 1618.4 227.3 1621.2 229C1624.1 230.7 1627 237.3 1629.8 240.4C1632.6 243.5 1636.6 246.3 1638 247.5"/>
<path class="cl dot" d="M102.3 254.6C106.2 254.3 116.8 253.3 125.6 252.4C134.5 251.4 149.1 250.8 155.5 248.9C162 247 161.2 241 164.1 241C166.9 241 169.1 247.2 172.6 248.9C176.2 250.6 180.5 251.2 185.5 251.2C190.4 251.2 198.5 250.7 202.5 248.9C206.6 247.1 204.9 242.5 209.7 240.4C214.4 238.3 224.6 237.3 231 236.1C237.4 234.9 244.8 235.4 248.1 233.3C251.4 231.1 247.2 225.9 251 223.3C254.8 220.7 265.7 219.6 270.9 217.6C276.1 215.6 275.7 212.9 282.3 211.3C288.9 209.8 301.3 210.1 310.8 208.5C320.3 206.9 333.3 203.5 339.3 201.9C345.2 200.4 344.3 197.9 346.4 199.1C348.5 200.3 350.7 204.6 352.1 209.1C353.5 213.6 353.3 221.9 354.9 226.2C356.6 230.4 357.1 232.1 362.1 234.7C367 237.3 379.2 240.2 384.8 241.8C390.5 243.5 393.4 242.1 396.2 244.7C399.1 247.3 399.6 254.2 401.9 257.5C404.3 260.8 405.7 262.9 410.5 264.6C415.2 266.3 425.4 265.8 430.4 267.5C435.4 269.1 439.7 271 440.4 274.6C441.1 278.1 435.9 284.1 434.7 288.8C433.5 293.6 432.3 298.3 433.3 303.1C434.2 307.8 437.1 313.5 440.4 317.3C443.7 321.1 449.7 323 453.2 325.8C456.8 328.7 458.9 331.1 461.8 334.4C464.6 337.7 466.5 342.9 470.3 345.8C474.1 348.6 480.5 347.7 484.5 351.5C488.6 355.3 490.2 364.3 494.5 368.6C498.8 372.8 504.7 376.2 510.2 377.1C515.6 378.1 523 374.5 527.3 374.3C531.5 374 533.2 377.6 535.8 375.7C538.4 373.8 538.7 366 542.9 362.9C547.2 359.8 554.6 358.4 561.5 357.2C568.3 356 571.9 356.9 584.2 355.8C596.6 354.6 622.2 351.5 635.5 350.1C648.8 348.6 657.3 348.2 664 347.2C670.7 346.3 670.2 346.5 675.5 344.4C680.7 342.2 689.7 337 695.4 334.4C701.1 331.8 704.9 331.3 709.6 328.7C714.4 326.1 717.2 321.6 723.9 318.7C730.5 315.9 741 314.2 749.5 311.6C758.1 309 766.6 305.9 775.2 303.1C783.7 300.2 792.7 296.7 800.8 294.5C808.9 292.4 816 291.7 823.6 290.2C831.2 288.8 837.8 287.4 846.4 286C854.9 284.5 866.3 283.1 874.8 281.7C883.4 280.3 890.5 279.1 897.6 277.4C904.8 275.8 909.5 273.2 917.6 271.7C925.6 270.3 936.6 269.7 946.1 268.9C955.6 268 965.1 266.8 974.5 266.6C984 266.4 995 268 1003 267.5C1011.1 266.9 1017.3 265.1 1023 263.2C1028.7 261.3 1031 257 1037.2 256.1C1043.4 255.1 1051.5 257.5 1060 257.5C1068.5 257.5 1079.9 256.6 1088.5 256.1C1097 255.5 1104.6 254.1 1111.3 254.1C1117.9 254.1 1124.6 253.6 1128.4 256.1C1132.2 258.5 1132.2 265.1 1134.1 268.9C1136 272.7 1136.4 276.7 1139.8 278.8C1143.1 281 1147.3 281.2 1154 281.7C1160.7 282.2 1171.6 281.2 1179.7 281.7C1187.8 282.2 1193.9 283.8 1202.5 284.5C1211 285.3 1225.5 284.1 1231 286C1236.4 287.9 1231.9 293.7 1235.2 295.9C1238.6 298.2 1244.5 299.9 1250.9 299.6C1257.3 299.4 1267.1 296.6 1273.7 294.5C1280.3 292.5 1285.1 288.3 1290.8 287.4C1296.5 286.4 1306.5 286.9 1307.9 288.8C1309.3 290.7 1302.2 295.5 1299.3 298.8C1296.5 302.1 1293.4 305 1290.8 308.8C1288.2 312.6 1282.7 319.2 1283.7 321.6C1284.6 323.9 1291 322.3 1296.5 323C1301.9 323.7 1309.8 325.1 1316.4 325.8C1323.1 326.6 1330.2 328 1336.4 327.3C1342.5 326.6 1348.7 323.5 1353.5 321.6C1358.2 319.7 1360.6 317.3 1364.8 315.9C1369.1 314.5 1373.4 313.5 1379.1 313C1384.8 312.6 1392.9 313.7 1399 313C1405.2 312.3 1411.8 310.4 1416.1 308.8C1420.4 307.1 1422.8 303.1 1424.7 303.1C1426.6 303.1 1428.5 306.1 1427.5 308.8C1426.6 311.4 1419 316.4 1419 318.7C1419 321.1 1423.7 322.5 1427.5 323C1431.3 323.5 1437.5 323.5 1441.8 321.6C1446 319.7 1449.4 314.9 1453.2 311.6C1456.9 308.3 1460.3 305.4 1464.5 301.6C1468.8 297.8 1474 292.4 1478.8 288.8C1483.5 285.3 1487.3 283.1 1493 280.3C1498.7 277.4 1506.3 274.3 1513 271.7C1519.6 269.1 1526.7 265.3 1532.9 264.6C1539.1 263.9 1544.8 266 1550 267.5C1555.2 268.9 1560 271.5 1564.2 273.2C1568.5 274.8 1571.4 277.7 1575.6 277.4C1579.9 277.2 1585.6 272 1589.9 271.7C1594.2 271.5 1596.1 275.1 1601.3 276C1606.5 276.9 1615.1 277.4 1621.2 277.4C1627.3 277.4 1635.2 276.2 1638 276"/>
<path class="cl dot" d="M102.3 267.5C104.7 267.7 111.3 269.4 117.1 268.9C122.9 268.4 132.8 266.5 137 264.6C141.3 262.7 137 259.2 142.7 257.5C148.4 255.7 162.2 254.2 171.2 254.1C180.2 254 187.8 257.4 196.8 256.9C205.9 256.4 216.8 253.3 225.3 251.2C233.9 249.2 241.7 245 248.1 244.7C254.5 244.3 259 248.9 263.8 248.9C268.5 248.9 271.6 247 276.6 244.7C281.6 242.3 287.8 237.8 293.7 234.7C299.6 231.6 307.7 227.1 312.2 226.2C316.7 225.2 318.1 226.6 320.8 229C323.4 231.4 324.3 237.3 327.9 240.4C331.4 243.5 336.4 245.9 342.1 247.5C347.8 249.2 356.8 248.2 362.1 250.4C367.3 252.5 370.1 255.8 373.5 260.3C376.8 264.8 380.1 271.7 382 277.4C383.9 283.1 382 289.8 384.8 294.5C387.7 299.3 394.3 302.6 399.1 305.9C403.8 309.2 409.3 310.7 413.3 314.5C417.4 318.3 420.2 323.5 423.3 328.7C426.4 333.9 428.8 340.6 431.8 345.8C434.9 351 437.8 357.2 441.8 360C445.9 362.9 451.8 361 456.1 362.9C460.3 364.8 463.2 367.6 467.5 371.4C471.7 375.2 476.5 382.1 481.7 385.7C486.9 389.2 492.1 391.4 498.8 392.8C505.4 394.2 514 394.7 521.6 394.2C529.2 393.7 538.7 392.8 544.4 389.9C550.1 387.1 551 380.2 555.8 377.1C560.5 374 565.3 372.4 572.8 371.4C580.4 370.5 591.8 371.7 601.3 371.4C610.8 371.2 619.4 370.2 629.8 370C640.3 369.8 655.9 371.7 664 370C672.1 368.3 671.6 364.1 678.3 360C685 356 696.3 350.1 703.9 345.8C711.5 341.5 717.7 337 723.9 334.4C730.1 331.8 734.8 331.5 741 330.1C747.1 328.7 753.8 327 760.9 325.8C768 324.7 775.6 324.2 783.7 323C791.8 321.8 800.3 320.2 809.3 318.7C818.4 317.3 829.3 315.9 837.8 314.5C846.4 313 853.5 311.6 860.6 310.2C867.7 308.8 873.4 306.9 880.5 305.9C887.7 305 894.8 305.2 903.3 304.5C911.9 303.8 924.2 302.3 931.8 301.6C939.4 300.9 941.8 300.2 948.9 300.2C956 300.2 966.9 300.9 974.5 301.6C982.1 302.3 988.8 303.1 994.5 304.5C1000.2 305.9 1003.5 308 1008.7 310.2C1013.9 312.3 1021.5 314.2 1025.8 317.3C1030.1 320.4 1031 324.9 1034.4 328.7C1037.7 332.5 1042 337.2 1045.8 340.1C1049.6 342.9 1052.9 345.1 1057.2 345.8C1061.4 346.5 1067.1 346 1071.4 344.4C1075.7 342.7 1079.5 336.5 1082.8 335.8C1086.1 335.1 1088 338.2 1091.3 340.1C1094.7 342 1098.5 346.7 1102.7 347.2C1107 347.7 1112.7 344.6 1117 342.9C1121.2 341.3 1125 337.2 1128.4 337.2C1131.7 337.2 1134.5 340.1 1136.9 342.9C1139.3 345.8 1140.7 351.2 1142.6 354.3C1144.5 357.4 1143.1 361 1148.4 361.5C1153.6 361.9 1165.5 358.1 1174 357.2C1182.5 356.2 1191.6 356.2 1199.6 355.8C1207.7 355.3 1216.3 355.8 1222.4 354.3C1228.6 352.9 1232.4 347.7 1236.7 347.2C1240.9 346.7 1244.7 349.8 1248.1 351.5C1251.4 353.1 1252.3 356.2 1256.6 357.2C1260.9 358.1 1268.9 357.4 1273.7 357.2C1278.4 356.9 1281.3 355.3 1285.1 355.8C1288.9 356.2 1291.3 359.1 1296.5 360C1301.7 361 1310.3 361.2 1316.4 361.5C1322.6 361.7 1328.5 362.9 1333.5 361.5C1338.5 360 1343 353.9 1346.3 352.9C1349.7 352 1351.2 354.8 1353.5 355.8C1355.7 356.7 1356.5 357.9 1360 358.4C1363.5 359 1369.1 358.9 1374.4 359.2C1379.7 359.4 1387.6 358.9 1391.7 359.9C1395.7 360.8 1397.8 362.9 1398.9 364.9C1399.9 367 1399.8 369.5 1398.1 372.1C1396.5 374.8 1391.2 377.2 1388.8 380.8C1386.4 384.4 1384.5 390.6 1383.8 393.7C1383 396.8 1383.2 397 1384.5 399.5C1385.8 402 1389.5 407.6 1391.7 408.8C1393.8 410 1394.8 407.9 1397.4 406.7C1400.1 405.5 1403.7 402.2 1407.5 401.6C1411.3 401 1415.4 402.8 1420.5 403.1C1425.5 403.3 1433.9 403.7 1437.7 403.1C1441.6 402.5 1442.6 402.7 1443.5 399.5C1444.3 396.2 1441.8 387 1442.8 383.6C1443.7 380.3 1444.8 381.2 1449.2 379.3C1453.7 377.4 1464.8 374.3 1469.4 372.1C1474 370 1474.9 370 1476.6 366.4C1478.3 362.8 1477.3 354.1 1479.5 350.5C1481.6 346.9 1485.5 346.9 1489.5 344.8C1493.6 342.6 1499.1 340.3 1503.9 337.6C1508.7 334.8 1514 330.7 1518.3 328.2C1522.7 325.7 1525.1 324 1529.8 322.5C1534.6 320.9 1542.3 321.1 1547.1 318.9C1551.9 316.6 1555 310.9 1558.6 308.8C1562.2 306.6 1563.4 306.7 1568.7 305.9C1574 305.1 1583.8 304.6 1590.3 303.8C1596.8 302.9 1601.6 301.2 1607.6 300.9C1613.6 300.5 1621.5 300.8 1626.3 301.6C1631.1 302.4 1634.7 305.2 1636.4 305.9"/>
<path class="cl dot" d="M102.3 274.6C105.2 275.8 113.2 280.3 119.9 281.7C126.7 283.1 134.7 283.4 142.7 283.1C150.8 282.9 161.7 282.2 168.4 280.3C175 278.4 177.4 274 182.6 271.7C187.8 269.4 192.1 268.3 199.7 266.6C207.3 264.9 218.2 262.8 228.2 261.8C238.2 260.7 250.5 260.6 259.5 260.3C268.5 260.1 275.7 262.2 282.3 260.3C288.9 258.4 293.7 252.7 299.4 248.9C305.1 245.1 312.2 238.5 316.5 237.5C320.8 236.6 323.6 239.4 325 243.2C326.5 247 327.4 256.5 325 260.3C322.7 264.1 315.5 264.1 310.8 266C306 267.9 298.4 269.4 296.5 271.7C294.6 274.1 296.1 277.9 299.4 280.3C302.7 282.6 309.4 285 316.5 286C323.6 286.9 336.4 284.5 342.1 286C347.8 287.4 348.3 290.2 350.7 294.5C353 298.8 356.4 306.9 356.4 311.6C356.4 316.4 350.7 319.2 350.7 323C350.7 326.8 352.6 331.1 356.4 334.4C360.2 337.7 366.8 340.8 373.5 342.9C380.1 345.1 391.5 344.4 396.2 347.2C401 350.1 399.6 355.5 401.9 360C404.3 364.5 406.2 370.5 410.5 374.3C414.8 378.1 422.4 380.7 427.6 382.8C432.8 385 437.1 384.7 441.8 387.1C446.6 389.5 449.9 394.2 456.1 397.1C462.2 399.9 470.8 402.8 478.8 404.2C486.9 405.6 496.4 405.6 504.5 405.6C512.6 405.6 520.6 405.6 527.3 404.2C533.9 402.8 538.7 399.2 544.4 397.1C550.1 394.9 554.8 392.6 561.5 391.4C568.1 390.2 577.6 388.3 584.2 389.9C590.9 391.6 596.6 399.7 601.3 401.3C606.1 403 609.4 401.6 612.7 399.9C616.1 398.2 616.5 393.3 621.3 391.4C626 389.5 634.1 389.2 641.2 388.5C648.3 387.8 658.3 388 664 387.1C669.7 386.1 672.1 385.4 675.5 382.8C678.8 380.2 679.3 374.7 684 371.4C688.7 368.1 697.3 365.7 703.9 362.9C710.6 360 717.7 356.7 723.9 354.3C730.1 352 734.8 349.8 741 348.6C747.1 347.4 755.2 346.7 760.9 347.2C766.6 347.7 770.4 351.7 775.2 351.5C779.9 351.2 785.1 347.9 789.4 345.8C793.7 343.7 796.5 340.5 800.8 338.7C805.1 336.9 809.8 335.4 815 335C820.3 334.5 828.6 335.2 832.1 335.8C835.7 336.4 836.4 336.5 836.4 338.7C836.4 340.8 832.6 345.6 832.1 348.6C831.6 351.7 832.1 355 833.5 357.2C835 359.3 836.6 361.7 840.7 361.5C844.7 361.2 852.1 357.2 857.8 355.8C863.5 354.3 869.2 353.4 874.8 352.9C880.5 352.4 886.7 352.4 891.9 352.9C897.2 353.4 902.4 354.3 906.2 355.8C910 357.2 910.5 359.6 914.7 361.5C919 363.4 924.7 365.7 931.8 367.2C938.9 368.6 949.9 368.6 957.5 370C965.1 371.4 971.2 375.5 977.4 375.7C983.6 375.9 989.7 372.8 994.5 371.4C999.2 370 1002.1 367.2 1005.9 367.2C1009.7 367.2 1013.5 369.5 1017.3 371.4C1021.1 373.3 1024.4 376.2 1028.7 378.5C1032.9 380.9 1038.6 383.1 1042.9 385.7C1047.2 388.3 1050.5 391.6 1054.3 394.2C1058.1 396.8 1060.9 399.9 1065.7 401.3C1070.4 402.8 1077.1 402.8 1082.8 402.8C1088.5 402.8 1094.7 403 1099.9 401.3C1105.1 399.7 1109.8 393.5 1114.1 392.8C1118.4 392.1 1121.7 396.6 1125.5 397.1C1129.3 397.5 1132.2 396.3 1136.9 395.6C1141.7 394.9 1149.7 393.3 1154 392.8C1158.3 392.3 1156.9 392.8 1162.6 392.8C1168.3 392.8 1182.1 391.6 1188.2 392.8C1194.4 394 1196.3 397.1 1199.6 399.9C1203 402.8 1203.4 409.2 1208.2 409.9C1212.9 410.6 1222.4 405.4 1228.1 404.2C1233.8 403 1237.6 400.6 1242.4 402.8C1247.1 404.9 1251.9 412.7 1256.6 417C1261.4 421.3 1267.1 428.4 1270.8 428.4C1274.6 428.4 1276.1 421.7 1279.4 417C1282.7 412.3 1287 403.9 1290.8 399.9C1294.6 395.9 1297.4 394 1302.2 392.8C1306.9 391.6 1314.5 391.8 1319.3 392.8C1324 393.7 1326.4 399 1330.7 398.5C1334.9 398 1339.7 391.8 1344.9 389.9C1350.1 388 1358.7 385 1362 387.1C1365.3 389.2 1364.6 397.3 1364.8 402.8C1365.1 408.2 1364.1 415.3 1363.4 419.8C1362.7 424.4 1358.7 428.2 1360.6 429.8C1362.4 431.5 1370.2 429.6 1374.4 429.7C1378.6 429.8 1381.8 430.1 1385.9 430.4C1390 430.8 1395 432 1398.9 431.9C1402.7 431.7 1407.4 431.3 1408.9 429.7C1410.5 428.1 1408.5 425.3 1408.2 422.5C1408 419.7 1405.9 414.9 1407.5 413.1C1409.1 411.3 1413.5 411.7 1417.6 411.7C1421.7 411.7 1428.1 412.8 1432 413.1C1435.8 413.5 1437.7 415.2 1440.6 413.9C1443.5 412.5 1445.9 408.1 1449.2 405.2C1452.6 402.3 1456.4 399.2 1460.8 396.6C1465.1 394 1470.4 391.8 1475.2 389.4C1479.9 387 1485.7 384.6 1489.5 382.2C1493.4 379.8 1495.1 377.9 1498.2 375C1501.3 372.1 1505.6 367.8 1508.3 364.9C1510.9 362 1511.4 360.1 1514 357.7C1516.7 355.3 1521 352.1 1524.1 350.5C1527.2 349 1530.3 348.4 1532.7 348.4C1535.1 348.4 1536.3 349.9 1538.5 350.5C1540.6 351.1 1542.3 353.2 1545.7 352C1549 350.8 1554.8 346.2 1558.6 343.3C1562.5 340.5 1565.1 337.3 1568.7 334.7C1572.3 332.1 1575.4 329.3 1580.2 327.5C1585 325.7 1591 324.4 1597.5 323.9C1604 323.4 1612.6 324.4 1619.1 324.6C1625.6 324.9 1633.5 325.2 1636.4 325.3"/>
<path class="cl dot" d="M102.3 283.1C104.7 284.3 110.3 288.6 117.1 290.2C123.8 291.9 133.7 293.1 142.7 293.1C151.7 293.1 164.1 291.9 171.2 290.2C178.3 288.6 178.3 285.3 185.5 283.1C192.6 281 205.9 278.8 213.9 277.4C222 276 227.2 275.3 233.9 274.6C240.5 273.9 247.6 272.7 253.8 273.2C260 273.6 265.2 274.8 270.9 277.4C276.6 280 283.7 284.1 288 288.8C292.3 293.6 296.8 300.7 296.5 305.9C296.3 311.1 286.1 317.1 286.6 320.2C287.1 323.2 294.4 323 299.4 324.4C304.4 325.8 312.7 325.1 316.5 328.7C320.3 332.3 321.7 340.6 322.2 345.8C322.7 351 318.4 355.8 319.3 360C320.3 364.3 323.1 368.6 327.9 371.4C332.6 374.3 343.1 374.7 347.8 377.1C352.6 379.5 352.1 383.1 356.4 385.7C360.6 388.3 366.8 391.4 373.5 392.8C380.1 394.2 389.1 393.7 396.2 394.2C403.4 394.7 411 393.7 416.2 395.6C421.4 397.5 423.3 402.3 427.6 405.6C431.8 408.9 435.2 413.2 441.8 415.6C448.5 417.9 458 419.6 467.5 419.8C476.9 420.1 488.8 417.5 498.8 417C508.8 416.5 519.7 417.7 527.3 417C534.9 416.3 538.7 414.2 544.4 412.7C550.1 411.3 554.8 408.5 561.5 408.5C568.1 408.5 576.6 411.5 584.2 412.7C591.8 413.9 599.9 414.6 607 415.6C614.2 416.5 621.3 418.9 627 418.4C632.7 417.9 635 414.4 641.2 412.7C647.4 411.1 658.3 410.4 664 408.5C669.7 406.6 670.2 404.2 675.5 401.3C680.7 398.5 688.7 394.4 695.4 391.4C702 388.3 709.2 385.2 715.3 382.8C721.5 380.4 727.2 377.4 732.4 377.1C737.6 376.9 741.9 379.5 746.7 381.4C751.4 383.3 754.7 388 760.9 388.5C767.1 389 775.6 385 783.7 384.2C791.8 383.5 802.2 383.5 809.3 384.2C816.5 385 821.7 386.6 826.4 388.5C831.2 390.4 832.6 394 837.8 395.6C843 397.3 850.6 398 857.8 398.5C864.9 399 873.9 397.8 880.5 398.5C887.2 399.2 892.4 403 897.6 402.8C902.9 402.5 906.7 398.7 911.9 397.1C917.1 395.4 924.2 393 929 392.8C933.7 392.6 937 394.2 940.4 395.6C943.7 397.1 945.6 400.6 948.9 401.3C952.2 402 957 399.2 960.3 399.9C963.6 400.6 966 403 968.8 405.6C971.7 408.2 973.1 413.4 977.4 415.6C981.7 417.7 988.8 417.7 994.5 418.4C1000.2 419.1 1006.4 418.9 1011.6 419.8C1016.8 420.8 1022 421.3 1025.8 424.1C1029.6 427 1031.5 433.6 1034.4 436.9C1037.2 440.3 1038.6 443.1 1042.9 444.1C1047.2 445 1055.3 441.9 1060 442.6C1064.7 443.3 1067.1 447.1 1071.4 448.3C1075.7 449.5 1080.4 450.5 1085.6 449.8C1090.9 449 1097 445.7 1102.7 444.1C1108.4 442.4 1114.1 440.3 1119.8 439.8C1125.5 439.3 1131.2 440.5 1136.9 441.2C1142.6 441.9 1149.2 444.3 1154 444.1C1158.8 443.8 1160.2 441.4 1165.5 439.8C1170.7 438.1 1178.3 435.5 1185.4 434.1C1192.5 432.7 1201.1 431 1208.2 431.2C1215.3 431.5 1221 433.9 1228.1 435.5C1235.2 437.2 1244.7 439.3 1250.9 441.2C1257.1 443.1 1260.4 446.4 1265.2 446.9C1269.9 447.4 1275.1 446.2 1279.4 444.1C1283.7 441.9 1287.2 436.2 1290.8 434.1C1294.3 432 1297.9 430.3 1300.8 431.2C1303.6 432.2 1305.3 436.5 1307.9 439.8C1310.5 443.1 1312.6 448.1 1316.4 451.2C1320.2 454.3 1325.4 456.9 1330.7 458.3C1335.9 459.7 1342.8 459 1347.8 459.7C1352.8 460.4 1357.1 462.6 1360.7 462.4C1364.3 462.3 1365.9 460.2 1369.2 458.9C1372.5 457.6 1376.7 455.6 1380.5 454.6C1384.3 453.7 1388.3 452.9 1391.8 453.2C1395.4 453.6 1399.1 455.7 1401.7 456.8C1404.3 457.8 1406 461 1407.4 459.6C1408.8 458.2 1409.3 451.8 1410.2 448.3C1411.1 444.7 1411.4 441.4 1413 438.4C1414.7 435.3 1417 432.3 1420.1 429.9C1423.2 427.5 1426.1 426.2 1431.4 424.2C1436.8 422.3 1446.8 420.2 1452.1 418.2C1457.5 416.2 1460.3 415.1 1463.6 412.4C1467 409.8 1469.6 405.5 1472.3 402.3C1474.9 399.2 1476.6 396.2 1479.5 393.7C1482.3 391.2 1485.5 389.4 1489.5 387.2C1493.6 385.1 1499.1 382.9 1503.9 380.8C1508.7 378.6 1513.5 376.1 1518.3 374.3C1523.1 372.5 1527.9 371.3 1532.7 370C1537.5 368.6 1542.3 367.9 1547.1 366.4C1551.9 364.8 1556.7 362.3 1561.5 360.6C1566.3 358.9 1571.1 357.8 1575.9 356.3C1580.7 354.7 1585.5 352 1590.3 351.2C1595.1 350.5 1599.9 352.3 1604.7 352C1609.5 351.6 1613.8 349.8 1619.1 349.1C1624.4 348.4 1633.5 347.9 1636.4 347.7"/>
<path class="cl dot" d="M102.3 290.2C104.7 291.7 110.3 296.7 117.1 298.8C123.8 300.9 133.7 302.8 142.7 303.1C151.7 303.3 163.6 301.9 171.2 300.2C178.8 298.6 181.2 295 188.3 293.1C195.4 291.2 206.3 290.2 213.9 288.8C221.5 287.4 227.7 285.5 233.9 284.5C240.1 283.6 245.7 282.4 251 283.1C256.2 283.8 262.8 285 265.2 288.8C267.6 292.6 266.6 300.7 265.2 305.9C263.8 311.1 255.7 315.9 256.7 320.2C257.6 324.4 266.6 327.3 270.9 331.5C275.2 335.8 281.8 340.6 282.3 345.8C282.8 351 273.8 356.7 273.8 362.9C273.8 369.1 278 377.8 282.3 382.8C286.6 387.8 293.2 390.2 299.4 392.8C305.6 395.4 312.7 396.3 319.3 398.5C326 400.6 333.1 402.8 339.3 405.6C345.4 408.5 348.8 413.2 356.4 415.6C364 417.9 375.4 419.1 384.8 419.8C394.3 420.6 405.7 418.4 413.3 419.8C420.9 421.3 424.3 426 430.4 428.4C436.6 430.8 442.3 433.4 450.4 434.1C458.4 434.8 470.8 432.2 478.8 432.7C486.9 433.1 490.7 436.2 498.8 436.9C506.9 437.7 519.7 437.4 527.3 436.9C534.9 436.5 537.7 435 544.4 434.1C551 433.1 559.6 430.8 567.2 431.2C574.7 431.7 582.8 434.8 589.9 436.9C597.1 439.1 604.7 441.7 609.9 444.1C615.1 446.4 617.5 450.5 621.3 451.2C625.1 451.9 629.3 450.7 632.7 448.3C636 446 636 439.8 641.2 436.9C646.4 434.1 657.3 432 664 431.2C670.7 430.5 676.4 433.6 681.2 432.7C685.9 431.7 688.7 428.4 692.5 425.5C696.3 422.7 699.7 418.2 703.9 415.6C708.2 413 713.4 409.6 718.2 409.9C722.9 410.1 726.3 415.3 732.4 417C738.6 418.7 748.1 419.4 755.2 419.8C762.3 420.3 768.5 419.6 775.2 419.8C781.8 420.1 788 420.8 795.1 421.3C802.2 421.7 811.2 421.5 817.9 422.7C824.5 423.9 828.8 426.5 835 428.4C841.1 430.3 848.3 433.1 854.9 434.1C861.6 435 868.7 434.8 874.8 434.1C881 433.4 887.2 431.5 891.9 429.8C896.7 428.2 899.1 425.5 903.3 424.1C907.6 422.7 913.1 422.2 917.6 421.3C922.1 420.3 927.1 417.7 930.4 418.4C933.7 419.1 934.9 422.7 937.5 425.5C940.1 428.4 941.8 432.9 946.1 435.5C950.3 438.1 957.5 439.8 963.2 441.2C968.8 442.6 976 442.4 980.2 444.1C984.5 445.7 985 449.3 988.8 451.2C992.6 453.1 998.3 454 1003 455.5C1007.8 456.9 1013 457.1 1017.3 459.7C1021.5 462.3 1023.9 468.5 1028.7 471.1C1033.4 473.7 1039.1 474.4 1045.8 475.4C1052.4 476.3 1060.9 476.6 1068.5 476.8C1076.1 477.1 1084.7 477.3 1091.3 476.8C1098 476.3 1101.8 474.4 1108.4 474C1115.1 473.5 1120.3 474.2 1131.2 474C1142.1 473.7 1163.5 473.7 1174 472.5C1184.5 471.4 1186.8 468 1193.9 466.8C1201.1 465.7 1209.6 466.1 1216.7 465.4C1223.8 464.7 1231 461.9 1236.7 462.6C1242.4 463.3 1247.1 468 1250.9 469.7C1254.7 471.4 1254.7 473 1259.5 472.5C1264.2 472.1 1273.2 467.6 1279.4 466.8C1285.6 466.1 1290.8 466.1 1296.5 468.3C1302.2 470.4 1307.9 476.3 1313.6 479.7C1319.3 483 1325 486.1 1330.7 488.2C1336.4 490.3 1343.5 492 1347.8 492.5C1352.1 493 1353.4 492.2 1356.5 491.4C1359.6 490.6 1363.8 489.9 1366.4 487.9C1369 485.9 1369.7 482.2 1372 479.4C1374.4 476.6 1377.7 473.3 1380.5 470.9C1383.3 468.6 1385.7 466.4 1389 465.3C1392.3 464.1 1397.2 463.8 1400.3 463.8C1403.4 463.8 1405 465.7 1407.4 465.3C1409.7 464.8 1412.1 463.1 1414.4 461C1416.8 458.9 1418.9 455.6 1421.5 452.5C1424.1 449.5 1426.9 445.7 1430 442.6C1433.1 439.6 1436.6 436.7 1439.9 434.1C1443.2 431.5 1447.3 429 1449.8 427.1C1452.3 425.1 1452.5 424.5 1455 422.5C1457.5 420.5 1462 417.9 1465.1 415.3C1468.2 412.7 1471.1 409.3 1473.7 406.7C1476.4 404 1478.3 401.4 1480.9 399.5C1483.5 397.6 1485.7 396.6 1489.5 395.2C1493.4 393.7 1499.1 392.5 1503.9 390.8C1508.7 389.2 1513.5 386.9 1518.3 385.1C1523.1 383.3 1527.9 381.5 1532.7 380C1537.5 378.6 1542.3 377.5 1547.1 376.4C1551.9 375.4 1556.7 374.4 1561.5 373.6C1566.3 372.7 1570.6 371.9 1575.9 371.4C1581.2 370.9 1588.4 371.3 1593.2 370.7C1598 370.1 1600.4 368.3 1604.7 367.8C1609 367.3 1613.8 367.7 1619.1 367.8C1624.4 367.9 1633.5 368.4 1636.4 368.5"/>
<path class="cl dot" d="M102.3 297.4C105.7 299.3 115.6 306.1 122.8 308.8C130 311.4 137 312.8 145.6 313C154.1 313.3 166 312.1 174.1 310.2C182.1 308.3 186.4 303.8 194 301.6C201.6 299.5 212.5 297.1 219.6 297.4C226.8 297.6 232.9 299.7 236.7 303.1C240.5 306.4 240.5 312.1 242.4 317.3C244.3 322.5 245.3 328.7 248.1 334.4C251 340.1 259.5 345.3 259.5 351.5C259.5 357.7 251.4 364.8 248.1 371.4C244.8 378.1 240.5 385.2 239.6 391.4C238.6 397.5 239.1 403.2 242.4 408.5C245.7 413.7 253.8 419.4 259.5 422.7C265.2 426 270 427.9 276.6 428.4C283.3 428.9 292.7 425.1 299.4 425.5C306 426 309.4 428.6 316.5 431.2C323.6 433.9 333.1 439.6 342.1 441.2C351.1 442.9 367.6 441.3 370.6 441.2C373.6 441.1 359.5 441.4 360 440.8C360.5 440.3 367.9 438.4 373.9 438.1C379.9 437.7 389.2 438.1 396.1 438.8C403.1 439.4 410 440.9 415.6 442.2C421.1 443.5 424.8 445.5 429.4 446.4C434.1 447.3 438.7 447.2 443.3 447.8C448 448.4 452.6 450.1 457.2 449.9C461.9 449.6 466.5 447.3 471.1 446.4C475.7 445.5 480.4 444.1 485 444.3C489.6 444.5 494.7 445.8 498.9 447.8C503.1 449.7 507.2 452.9 510 456.1C512.8 459.4 513.9 464 515.6 467.2C517.2 470.5 516.7 473.5 519.7 475.6C522.7 477.6 529 479.1 533.6 479.7C538.2 480.3 543.3 480.2 547.5 479C551.7 477.9 555.1 474.7 558.6 472.8C562.1 470.8 565.3 468.5 568.3 467.2C571.3 465.9 573.9 464.7 576.7 465.1C579.4 465.6 582.2 467.9 585 470C587.8 472.1 590.6 476.7 593.3 477.6C596.1 478.6 598.9 476.4 601.7 475.6C604.4 474.7 606.3 473.4 610 472.8C613.7 472.2 619.7 472.1 623.9 472.1C628.1 472.1 631.8 474.2 635 472.8C638.2 471.3 640.3 464.4 643.3 463.3C646.4 462.3 649.4 467.2 653.3 466.7C657.2 466.1 661.7 462.1 666.7 460C671.7 457.9 677.8 455.6 683.3 454.2C688.9 452.8 694.4 452.1 700 451.7C705.6 451.2 711.1 451.4 716.7 451.7C722.2 451.9 728.3 452.5 733.3 453.3C738.3 454.2 742.5 455 746.7 456.7C750.8 458.3 755 462.2 758.3 463.3C761.7 464.4 763.6 464.2 766.7 463.3C769.7 462.5 773.3 458.9 776.7 458.3C780 457.8 782.8 459.2 786.7 460C790.6 460.8 795 462.2 800 463.3C805 464.4 811.7 465.6 816.7 466.7C821.7 467.8 826.5 470.2 830 470C833.5 469.8 835.1 467.1 837.8 465.4C840.5 463.7 842.6 460.9 846.4 459.7C850.2 458.5 855.4 458.1 860.6 458.3C865.8 458.5 872.5 460.2 877.7 461.2C882.9 462.1 886.7 464 891.9 464C897.2 464 903.8 461.9 909 461.2C914.3 460.4 918.5 459.5 923.3 459.7C928 460 931.3 461.9 937.5 462.6C943.7 463.3 953.2 463.1 960.3 464C967.4 464.9 974.5 466.6 980.2 468.3C985.9 469.9 990.2 471.8 994.5 474C998.8 476.1 1002.1 478.2 1005.9 481.1C1009.7 483.9 1013.5 487.7 1017.3 491.1C1021.1 494.4 1024.4 498.4 1028.7 501C1032.9 503.6 1037.2 505.8 1042.9 506.7C1048.6 507.7 1055.3 507.2 1062.8 506.7C1070.4 506.3 1079.5 504.1 1088.5 503.9C1097.5 503.6 1106.1 505.1 1117 505.3C1127.9 505.5 1145.1 504.8 1154 505.3C1162.9 505.8 1163.8 508.3 1170.3 508.4C1176.8 508.4 1185 506.7 1193.1 505.5C1201.2 504.3 1211.1 502.7 1218.7 501.2C1226.3 499.8 1232.5 496.5 1238.7 497C1244.8 497.4 1249.1 502 1255.8 504.1C1262.4 506.2 1270.5 509.9 1278.5 509.8C1286.6 509.7 1297.5 505.1 1304.1 503.4C1310.8 501.8 1313.6 500.7 1318.3 499.9C1323 499.1 1327.7 498.4 1332.4 498.5C1337.1 498.6 1342.6 500 1346.6 500.6C1350.6 501.2 1353.6 502.4 1356.5 502C1359.3 501.7 1361.4 500.4 1363.5 498.5C1365.7 496.6 1367.3 493.4 1369.2 490.7C1371.1 488 1372.7 485.2 1374.8 482.2C1377 479.3 1379.6 475.5 1381.9 473C1384.3 470.6 1385.9 468.7 1389 467.4C1392.1 466.1 1397 465.4 1400.3 465.3C1403.6 465.1 1406.7 467.1 1408.8 466.7C1410.9 466.2 1411.4 464.3 1413 462.4C1414.7 460.5 1416.6 457.7 1418.7 455.4C1420.8 453 1423.2 450.6 1425.8 448.3C1428.4 445.9 1431.4 443.6 1434.2 441.2C1437.1 438.9 1439.7 436.3 1442.7 434.1C1445.8 432 1449.6 429.7 1452.6 428.5C1455.6 427.3 1457.5 428.2 1460.8 426.8C1464 425.5 1468.7 422.5 1472.3 420.3C1475.9 418.2 1478.3 415.8 1482.3 413.9C1486.4 411.9 1493.1 410.7 1496.7 408.8C1500.3 406.9 1502 404.6 1503.9 402.3C1505.9 400.1 1506.3 396.8 1508.3 395.2C1510.2 393.5 1512.8 392.2 1515.5 392.3C1518.1 392.4 1521.2 394.9 1524.1 395.9C1527 396.8 1529.4 398.2 1532.7 398C1536.1 397.9 1540.2 396.6 1544.2 395.2C1548.3 393.7 1553.1 390.8 1557.2 389.4C1561.3 388 1564.9 387.6 1568.7 386.5C1572.6 385.4 1576.6 383 1580.2 382.9C1583.8 382.8 1586.2 385.4 1590.3 385.8C1594.4 386.2 1599.9 385.3 1604.7 385.1C1609.5 384.8 1613.8 384.5 1619.1 384.4C1624.4 384.2 1633.5 384.4 1636.4 384.4"/>
<path class="cl dot" d="M102.3 310.2C105.7 311.4 115.1 315.2 122.8 317.3C130.5 319.4 139.9 322.5 148.4 323C157 323.5 166 321.6 174.1 320.2C182.1 318.7 190.2 315.4 196.8 314.5C203.5 313.5 209.2 312.6 213.9 314.5C218.7 316.4 222.5 321.1 225.3 325.8C228.2 330.6 231 337.2 231 342.9C231 348.6 228.2 354.3 225.3 360C222.5 365.7 217.3 370.9 213.9 377.1C210.6 383.3 205.9 389.9 205.4 397.1C204.9 404.2 208.2 413.2 211.1 419.8C213.9 426.5 217.3 432.7 222.5 436.9C227.7 441.2 235.3 443.6 242.4 445.5C249.5 447.4 257.6 448.3 265.2 448.3C272.8 448.3 282.3 444.5 288 445.5C293.7 446.4 293.7 451.7 299.4 454C305.1 456.4 314.6 458.3 322.2 459.7C329.8 461.2 336.9 461.6 345 462.6C353 463.5 368.1 464.9 370.6 465.4C373.1 466 360.4 466.2 360 465.8C359.6 465.4 365.3 464.2 368.3 463.1C371.3 461.9 374.1 460.2 378.1 458.9C382 457.6 387.3 455.4 391.9 455.4C396.6 455.4 401.4 458.5 405.8 458.9C410.2 459.2 413.9 457.6 418.3 457.5C422.7 457.4 427.1 457.8 432.2 458.2C437.3 458.5 443.3 459 448.9 459.6C454.4 460.2 461.2 460.6 465.6 461.7C470 462.7 472.5 463.8 475.3 465.8C478.1 467.9 479.4 471.2 482.2 474.2C485 477.2 488.7 481.1 491.9 483.9C495.2 486.7 497.7 489 501.7 490.8C505.6 492.7 511.4 493.1 515.6 495C519.7 496.9 523.7 500.3 526.7 501.9C529.7 503.6 531.3 505.2 533.6 504.7C535.9 504.3 537.1 500.7 540.6 499.2C544 497.7 549.8 496.4 554.4 495.7C559.1 495 563.7 494.7 568.3 495C573 495.3 577.6 497.2 582.2 497.8C586.9 498.4 591.5 498.7 596.1 498.5C600.7 498.2 605.4 496.3 610 496.4C614.6 496.5 619.7 498.2 623.9 499.2C628.1 500.1 632.6 500.7 635 501.9C637.4 503.2 635.8 506.4 638.3 506.7C640.8 506.9 645.3 505.3 650 503.3C654.7 501.4 662.2 497.5 666.7 495C671.1 492.5 672.5 490.6 676.7 488.3C680.8 486.1 686.9 483.3 691.7 481.7C696.4 480 700.8 480 705 478.3C709.2 476.7 713.6 471.9 716.7 471.7C719.7 471.4 721.1 473.9 723.3 476.7C725.6 479.4 726.9 485.3 730 488.3C733.1 491.4 737.5 492.5 741.7 495C745.8 497.5 750.8 501.4 755 503.3C759.2 505.3 761.9 506 766.7 506.7C771.4 507.4 776.4 507.3 783.3 507.5C790.3 507.7 800.6 507.9 808.3 508C816.1 508.1 824.6 508.8 830 508.3C835.4 507.9 837 506.8 840.7 505.3C844.3 503.8 848.3 500.1 852.1 499.6C855.9 499.1 859.7 501.5 863.5 502.5C867.3 503.4 871.1 505.5 874.8 505.3C878.6 505.1 881.5 502.2 886.2 501C891 499.8 895.7 499.1 903.3 498.2C910.9 497.2 922.3 495.3 931.8 495.3C941.3 495.3 950.8 497 960.3 498.2C969.8 499.4 981.7 500.8 988.8 502.5C995.9 504.1 998.3 505.8 1003 508.2C1007.8 510.5 1012.1 514.3 1017.3 516.7C1022.5 519.1 1027.2 520.7 1034.4 522.4C1041.5 524.1 1051 525.5 1060 526.7C1069 527.9 1079 528.6 1088.5 529.5C1098 530.5 1106.1 531.7 1117 532.4C1127.9 533.1 1145.1 533.8 1154 533.8C1162.9 533.8 1162.8 533 1170.3 532.6C1177.8 532.1 1189.3 531.9 1198.8 531.2C1208.3 530.4 1217.8 529.3 1227.3 528.3C1236.8 527.4 1247.2 525.9 1255.8 525.5C1264.3 525 1272.8 525.5 1278.5 525.5C1284.3 525.4 1285.7 526 1290 525.4C1294.3 524.7 1299.4 522.9 1304.1 521.8C1308.9 520.8 1313.6 519.7 1318.3 519C1323 518.3 1327.7 518.3 1332.4 517.6C1337.1 516.9 1343 515.7 1346.6 514.7C1350.1 513.8 1351.3 513 1353.6 511.9C1356 510.9 1357.9 509.8 1360.7 508.4C1363.5 507 1367.3 505.4 1370.6 503.4C1373.9 501.4 1377.4 497.5 1380.5 496.4C1383.6 495.2 1385.2 496.8 1389 496.4C1392.8 495.9 1398.4 494.5 1403.1 493.5C1407.8 492.6 1413.7 491.4 1417.3 490.7C1420.8 490 1423.6 490.5 1424.3 489.3C1425.1 488.1 1422.7 485.8 1421.5 483.6C1420.3 481.5 1417.7 479.2 1417.3 476.6C1416.8 474 1417.3 470.2 1418.7 468.1C1420.1 466 1422.7 464.8 1425.8 463.8C1428.8 462.9 1433.8 463.1 1437.1 462.4C1440.4 461.7 1444.4 461.5 1445.6 459.6C1446.7 457.7 1444.8 453.5 1444.1 451.1C1443.4 448.8 1440.4 447.6 1441.3 445.5C1442.3 443.3 1446.7 440.3 1449.8 438.4C1452.9 436.5 1456.2 435.8 1459.7 434.1C1463.2 432.5 1466.3 430.4 1471 428.5C1475.7 426.6 1482.5 423.9 1488 422.8C1493.5 421.7 1498.9 422.3 1503.9 421.8C1509 421.2 1513.5 420 1518.3 419.6C1523.1 419.3 1528.2 420.1 1532.7 419.6C1537.3 419.1 1542.1 418.2 1545.7 416.7C1549.3 415.3 1551.7 412.5 1554.3 411C1557 409.4 1557.9 408.2 1561.5 407.4C1565.1 406.5 1570.6 406.5 1575.9 405.9C1581.2 405.3 1588.4 405 1593.2 403.8C1598 402.6 1600.4 399.8 1604.7 398.8C1609 397.7 1613.8 397.7 1619.1 397.3C1624.4 397 1633.5 396.7 1636.4 396.6"/>
<path class="cl dot" d="M102 320.8C107.2 321.1 122.6 321.8 133.3 322.5C144.1 323.2 158.3 323.6 166.7 325C175 326.4 179.4 328.3 183.3 330.8C187.2 333.3 187.2 337.4 190 340C192.8 342.6 196.4 344.7 200 346.7C203.6 348.6 210.6 349.2 211.7 351.7C212.8 354.2 208.1 358.3 206.7 361.7C205.3 365 203.6 368.1 203.3 371.7C203.1 375.3 203.9 379.7 205 383.3C206.1 386.9 209.4 390.3 210 393.3C210.6 396.4 209.4 398.9 208.3 401.7C207.2 404.4 204.7 406.9 203.3 410C201.9 413.1 200.8 416.1 200 420C199.2 423.9 198.3 428.9 198.3 433.3C198.3 437.8 198.6 443.1 200 446.7C201.4 450.3 203.3 452.5 206.7 455C210 457.5 215 459.7 220 461.7C225 463.6 232.5 465 236.7 466.7C240.8 468.3 243.1 468.9 245 471.7C246.9 474.4 246.7 479.6 248.3 483.3C250 487.1 250.6 492.4 255 494.2C259.4 496 268.1 494.9 275 494.2C281.9 493.5 290.3 491 296.7 490C303.1 489 307.2 488.2 313.3 488.3C319.4 488.5 327.2 491.1 333.3 490.8C339.4 490.6 345.6 487.9 350 486.7C354.4 485.4 358.3 483.8 360 483.3C361.7 482.9 358.1 485 360 483.9C361.9 482.8 367.4 479 371.1 476.9C374.8 474.9 378.3 472.9 382.2 471.4C386.2 469.9 390.3 467.9 394.7 467.9C399.1 467.9 404.4 470.3 408.6 471.4C412.8 472.4 416.5 473.2 419.7 474.2C423 475.1 424.6 476.2 428.1 476.9C431.5 477.6 436.2 478.7 440.6 478.3C445 478 450.5 475.3 454.4 474.9C458.4 474.4 461.6 473.8 464.2 475.6C466.7 477.3 467.9 482.7 469.7 485.3C471.6 487.8 472.7 488.8 475.3 490.8C477.8 492.9 481.1 495.2 485 497.8C488.9 500.3 494.3 503.3 498.9 506.1C503.5 508.9 508.1 512.4 512.8 514.4C517.4 516.5 522.5 518.1 526.7 518.6C530.8 519.1 533.6 518.4 537.8 517.2C541.9 516.1 547 513.2 551.7 511.7C556.3 510.2 561.2 508.7 565.6 508.2C570 507.7 574.1 507.6 578.1 508.9C582 510.2 585 514.7 589.2 515.8C593.3 517 598.4 515.9 603.1 515.8C607.7 515.7 611.6 514.9 616.9 515.1C622.3 515.4 629.5 515.7 635 517.2C640.5 518.7 644.7 522.9 650 524.2C655.3 525.5 662.2 525.4 666.7 525C671.1 524.6 673.9 523.3 676.7 521.7C679.4 520 680.3 517.5 683.3 515C686.4 512.5 691.7 509.2 695 506.7C698.3 504.2 700 500.6 703.3 500C706.7 499.4 711.7 501.4 715 503.3C718.3 505.3 720.3 509.2 723.3 511.7C726.4 514.2 729.7 516.5 733.3 518.3C736.9 520.1 740.6 521.7 745 522.5C749.4 523.3 755 523.2 760 523.3C765 523.5 768.9 522.8 775 523.3C781.1 523.9 789.7 525.1 796.7 526.7C803.6 528.2 811.1 531.2 816.7 532.5C822.2 533.8 827.8 533.7 830 534.2C832.2 534.7 827.8 535 829.9 535.4C832 535.9 833.5 536.1 842.7 536.8C852 537.6 873.6 538 885.5 539.7C897.3 541.4 904.4 545.2 913.9 546.8C923.4 548.5 932.9 548.7 942.4 549.7C951.9 550.6 961.4 551.3 970.9 552.5C980.4 553.7 989.9 555.4 999.4 556.8C1008.9 558.2 1018.4 559.6 1027.9 561.1C1037.4 562.5 1048.8 564.6 1056.4 565.3C1064 566 1068.7 566 1073.5 565.3C1078.2 564.6 1080.6 560.8 1084.8 561.1C1089.1 561.3 1093.9 564.4 1099.1 566.8C1104.3 569.1 1109.1 574.6 1116.2 575.3C1123.3 576 1132.8 572 1141.8 571C1150.8 570.1 1160.8 570.3 1170.3 569.6C1179.8 568.9 1189.3 567.9 1198.8 566.8C1208.3 565.6 1217.8 564.1 1227.3 562.5C1236.8 560.8 1247.2 558.9 1255.8 556.8C1264.3 554.7 1272.8 550.9 1278.5 549.7C1284.2 548.4 1288 550 1289.9 549.1C1291.8 548.2 1287.6 545.8 1290 544.4C1292.4 543.1 1299.4 541.7 1304.1 540.9C1308.9 540.1 1313.6 539.8 1318.3 539.5C1323 539.1 1327.7 539 1332.4 538.8C1337.1 538.6 1343 539 1346.6 538.1C1350.1 537.1 1350.8 535.4 1353.6 533.1C1356.5 530.9 1360 527.5 1363.5 524.6C1367.1 521.8 1371.1 518.5 1374.8 516.2C1378.6 513.8 1381.4 512.2 1386.2 510.5C1390.9 508.9 1397.9 507.2 1403.1 506.3C1408.3 505.3 1412.6 505.8 1417.3 504.8C1422 503.9 1427.2 503 1431.4 500.6C1435.7 498.2 1439.2 494.2 1442.7 490.7C1446.3 487.2 1449.3 482.9 1452.6 479.4C1455.9 475.9 1459.2 472.8 1462.5 469.5C1465.8 466.2 1469.8 463.1 1472.4 459.6C1475 456.1 1475.5 451.3 1478.1 448.3C1480.7 445.2 1484 443.1 1488 441.2C1492 439.3 1497.4 438.1 1502.1 437C1506.8 435.8 1511.5 434.7 1516.3 434.1C1521 433.6 1525.7 433.7 1530.4 433.4C1535.1 433.2 1539.8 434 1544.5 432.7C1549.3 431.4 1553.5 426.9 1558.7 425.7C1563.9 424.4 1570.6 425.8 1575.9 425.4C1581.2 425 1586.5 424.4 1590.3 423.2C1594.1 422 1595.3 420.2 1598.9 418.2C1602.5 416.1 1607.8 412.7 1611.9 411C1616 409.3 1619.3 408.2 1623.4 408.1C1627.5 408 1634.2 409.9 1636.4 410.3"/>
<path class="cl dot" d="M102 333.3C107.2 333.8 126.4 333.3 133.3 335.8C140.2 338.3 139.7 344.3 143.3 348.3C146.9 352.4 151.1 355.8 155 360C158.9 364.2 162.8 369.2 166.7 373.3C170.6 377.5 175.3 381.1 178.3 385C181.4 388.9 183.6 392.8 185 396.7C186.4 400.6 187.2 404.4 186.7 408.3C186.1 412.2 183.9 416.7 181.7 420C179.4 423.3 175 425.3 173.3 428.3C171.7 431.4 172.8 434.4 171.7 438.3C170.6 442.2 168.3 447.9 166.7 451.7C165 455.4 160.6 458.1 161.7 460.8C162.8 463.6 169.4 466 173.3 468.3C177.2 470.7 182.2 472.2 185 475C187.8 477.8 188.6 481.9 190 485C191.4 488.1 191.7 489.4 193.3 493.3C195 497.2 196.7 504.4 200 508.3C203.3 512.2 208.9 513.9 213.3 516.7C217.8 519.4 222.2 522.2 226.7 525C231.1 527.8 234.5 528.8 240 533.3C245.5 537.9 254.4 549.1 259.5 552.2C264.7 555.4 267.5 555.4 270.9 552.2C274.3 549.1 276.3 538 280 533.3C283.7 528.7 288.6 526.4 293.3 524.2C298.1 521.9 303.1 520.4 308.3 520C313.6 519.6 319.4 521.7 325 521.7C330.6 521.7 336.4 521.4 341.7 520C346.9 518.6 353.6 515 356.7 513.3C359.7 511.7 357.1 511.2 360 510.3C362.9 509.3 369.3 507.4 373.9 507.5C378.5 507.6 383.4 510.5 387.8 511C392.2 511.4 396.1 511.1 400.3 510.3C404.4 509.5 409.5 508.2 412.8 506.1C416 504 417.4 500.2 419.7 497.8C422 495.3 423.7 491.5 426.7 491.5C429.7 491.5 433.8 495.6 437.8 497.8C441.7 500 445.9 502.6 450.3 504.7C454.7 506.8 459.5 508.4 464.2 510.3C468.8 512.1 473.4 514 478.1 515.8C482.7 517.7 487.3 519.5 491.9 521.4C496.6 523.2 501.2 525.1 505.8 526.9C510.5 528.8 515.1 531.1 519.7 532.5C524.4 533.9 527.8 534.4 533.6 535.3C539.4 536.2 547.5 537.2 554.4 538.1C561.4 538.9 568.3 539.4 575.3 540.1C582.2 540.8 589.2 541.8 596.1 542.2C603.1 542.7 610.5 542.9 616.9 542.9C623.4 542.9 630.3 542.7 635 542.2C639.7 541.7 640.8 539.1 645 540C649.2 540.9 655 546.4 660 547.5C665 548.6 669.7 547.6 675 546.7C680.3 545.7 686.1 543.3 691.7 541.7C697.2 540 704.2 537.4 708.3 536.7C712.5 536 712.5 537.2 716.7 537.5C720.8 537.8 727.8 537.9 733.3 538.3C738.9 538.8 744.4 539.3 750 540C755.6 540.7 761.1 541.4 766.7 542.5C772.2 543.6 777.8 545.7 783.3 546.7C788.9 547.6 794.4 547.5 800 548.3C805.6 549.2 811.7 550.6 816.7 551.7C821.7 552.8 827.8 554.4 830 555C832.2 555.6 827.8 554.8 829.9 555.4C832 555.9 833.5 556.3 842.7 558.2C852 560.1 871.2 564.4 885.5 566.8C899.7 569.1 913.9 570.8 928.2 572.5C942.4 574.1 960 575.8 970.9 576.7C981.8 577.7 986.6 577.4 993.7 578.2C1000.8 578.9 1005.6 579.3 1013.6 581C1021.7 582.7 1032.6 585.7 1042.1 588.1C1051.6 590.5 1061.1 593.1 1070.6 595.2C1080.1 597.4 1089.6 600.2 1099.1 600.9C1108.6 601.7 1118.1 600.5 1127.6 599.5C1137.1 598.6 1146.6 596.4 1156.1 595.2C1165.6 594.1 1175.1 592.6 1184.5 592.4C1194 592.2 1204 595 1213 593.8C1222.1 592.6 1230.6 586.9 1238.7 585.3C1246.7 583.6 1254.8 585.7 1261.5 583.8C1268.1 581.9 1273.8 576.3 1278.5 573.9C1283.3 571.5 1288 571.4 1289.9 569.6C1291.8 567.8 1288.1 564.9 1290 562.8C1291.9 560.8 1296.6 558.8 1301.3 557.2C1306 555.5 1313.1 554.1 1318.3 552.9C1323.5 551.8 1327.7 550.6 1332.4 550.1C1337.1 549.6 1341.9 550.1 1346.6 550.1C1351.3 550.1 1356.9 551 1360.7 550.1C1364.5 549.2 1366.4 547.3 1369.2 544.4C1372 541.6 1375.1 536.4 1377.7 533.1C1380.3 529.8 1382.9 527.2 1384.7 524.6C1386.6 522.1 1385.9 519 1389 517.6C1392.1 516.2 1398.4 516.4 1403.1 516.2C1407.8 515.9 1412.6 516.9 1417.3 516.2C1422 515.5 1426.7 513.8 1431.4 511.9C1436.1 510 1440.8 507.4 1445.6 504.8C1450.3 502.3 1455.5 499.4 1459.7 496.4C1463.9 493.3 1467.9 489.8 1471 486.5C1474.1 483.2 1475.3 480.1 1478.1 476.6C1480.9 473 1484 467.8 1488 465.3C1492 462.7 1497.9 462.7 1502.1 461C1506.4 459.4 1509.9 457.5 1513.4 455.4C1517 453.2 1520.5 449.7 1523.3 448.3C1526.2 446.9 1527.3 446.6 1530.4 446.9C1533.5 447.1 1538.7 447.8 1541.7 449.7C1544.8 451.6 1547.1 454.9 1548.8 458.2C1550.4 461.5 1550 466.4 1551.6 469.5C1553.3 472.6 1555.7 474.9 1558.7 476.6C1561.7 478.2 1567 478.7 1569.4 479.4C1571.8 480.1 1570.5 481.2 1573 480.8C1575.5 480.4 1581.4 479.5 1584.5 477.2C1587.7 474.9 1590.1 471.2 1591.7 467.1C1593.4 463 1593.7 456.6 1594.6 452.7C1595.6 448.9 1595.8 446.3 1597.5 444.1C1599.2 441.9 1601.6 439.5 1604.7 439.8C1607.8 440 1612.6 443.9 1616.2 445.5C1619.8 447.2 1622.9 448.9 1626.3 449.8C1629.6 450.8 1634.7 451 1636.4 451.3"/>
<path class="cl dot" d="M102 477.5C104.4 478.5 112.3 480.7 116.7 483.3C121.1 486 124.4 489.7 128.3 493.3C132.2 496.9 136.7 501.1 140 505C143.3 508.9 146.1 512.8 148.3 516.7C150.6 520.6 151.9 524.5 153.3 528.3C154.7 532.2 153.7 535.3 156.7 540C159.7 544.7 165 553.3 171.2 556.5C177.4 559.7 187.8 555.5 194 559.3C200.2 563.1 204 575.5 208.2 579.3C212.5 583.1 213.9 583.3 219.6 582.1C225.3 580.9 235.8 574.5 242.4 572.2C249.1 569.8 252.9 568.1 259.5 567.9C266.2 567.6 275.2 569.3 282.3 570.7C289.4 572.2 295.1 577.4 302.2 576.4C309.4 575.5 317 569.3 325 565C333.1 560.8 344.8 555.2 350.7 550.8C356.5 546.4 356.1 541.3 360 538.8C363.9 536.2 369.3 535.6 373.9 535.3C378.5 534.9 383.1 537.4 387.8 536.7C392.4 536 397.5 533.4 401.7 531.1C405.8 528.8 408.8 525.1 412.8 522.8C416.7 520.5 420.6 518.1 425.3 517.2C429.9 516.3 436.4 516.5 440.6 517.2C444.7 517.9 446.3 520.2 450.3 521.4C454.2 522.5 459.5 523.5 464.2 524.2C468.8 524.9 473.9 524.6 478.1 525.6C482.2 526.5 485.7 527.6 489.2 529.7C492.6 531.8 495.9 535.5 498.9 538.1C501.9 540.6 504.2 542.3 507.2 545C510.2 547.7 512.5 552.4 516.9 554C521.3 555.6 528.5 553.9 533.6 554.7C538.7 555.5 542.9 557.3 547.5 558.9C552.1 560.5 556.8 562.6 561.4 564.4C566 566.3 570.6 568.4 575.3 570C579.9 571.6 584.5 573 589.2 574.2C593.8 575.3 598.4 575.6 603.1 576.9C607.7 578.3 611.6 581.3 616.9 582.5C622.3 583.7 631.4 583.9 635 583.9C638.6 583.9 635.8 584.3 638.3 582.5C640.8 580.7 646.4 576 650 573.3C653.6 570.7 655.6 568.1 660 566.7C664.4 565.3 671.4 566.1 676.7 565C681.9 563.9 686.4 561.7 691.7 560C696.9 558.3 704.2 555.8 708.3 555C712.5 554.2 712.5 554.4 716.7 555C720.8 555.6 727.8 557.2 733.3 558.3C738.9 559.4 744.4 560.6 750 561.7C755.6 562.8 761.1 563.9 766.7 565C772.2 566.1 777.8 567.5 783.3 568.3C788.9 569.2 794.4 569.4 800 570C805.6 570.6 811.7 571.9 816.7 571.7C821.7 571.4 827.8 568 830 568.3C832.2 568.7 827.8 572.5 829.9 573.9C832 575.3 835.8 574.8 842.7 576.7C849.6 578.6 861.7 583.1 871.2 585.3C880.7 587.4 890.2 588.4 899.7 589.5C909.2 590.7 918.7 591.4 928.2 592.4C937.7 593.3 947.2 594.3 956.7 595.2C966.2 596.2 975.7 596.9 985.2 598.1C994.6 599.3 1004.1 600.7 1013.6 602.4C1023.1 604 1032.6 606.2 1042.1 608.1C1051.6 610 1061.1 611.6 1070.6 613.8C1080.1 615.9 1092 619.5 1099.1 620.9C1106.2 622.3 1106.2 621.6 1113.3 622.3C1120.5 623 1132.3 624 1141.8 625.2C1151.3 626.3 1160.8 629.4 1170.3 629.4C1179.8 629.4 1189.3 626.3 1198.8 625.2C1208.3 624 1217.8 624 1227.3 622.3C1236.8 620.6 1247.2 617.6 1255.8 615.2C1264.3 612.8 1272.8 610.2 1278.5 608.1C1284.2 605.9 1288 603.1 1289.9 602.4C1291.8 601.7 1288.6 605.5 1290 603.8C1291.4 602.2 1295.7 597.2 1298.5 592.5C1301.3 587.8 1304.4 580 1307 575.6C1309.6 571.1 1311 568 1314 565.7C1317.1 563.3 1321.1 562.4 1325.4 561.4C1329.6 560.5 1334.8 560.2 1339.5 560C1344.2 559.8 1348.9 560.1 1353.6 560C1358.4 559.9 1363.1 560 1367.8 559.3C1372.5 558.6 1377.7 557.3 1381.9 555.8C1386.2 554.2 1389.7 552.5 1393.2 550.1C1396.8 547.7 1399.6 544.7 1403.1 541.6C1406.7 538.6 1410.7 534.5 1414.4 531.7C1418.2 528.9 1421.8 527 1425.8 524.6C1429.8 522.3 1434.5 519.9 1438.5 517.6C1442.5 515.2 1446.3 512.9 1449.8 510.5C1453.3 508.1 1456.2 506.5 1459.7 503.4C1463.2 500.4 1467 495.2 1471 492.1C1475 489.1 1479.7 486 1483.7 485.1C1487.7 484.1 1491.3 485.5 1495.1 486.5C1498.8 487.4 1502.8 489.5 1506.4 490.7C1509.9 491.9 1512.3 493.1 1516.3 493.5C1520.3 494 1525.7 493.7 1530.4 493.5C1535.1 493.4 1539.8 493.3 1544.5 492.8C1549.3 492.4 1554.5 491.3 1558.7 490.7C1562.8 490.1 1563.4 490.3 1569.4 489.3C1575.4 488.2 1589.2 486.2 1594.6 484.4C1600 482.6 1599.2 480.4 1601.8 478.6C1604.5 476.8 1606.9 473.5 1610.5 473.6C1614.1 473.7 1619.1 478.4 1623.4 479.4C1627.7 480.3 1634.2 479.4 1636.4 479.4"/>
<path class="cl" d="M102.3 710.3C103 710 115.6 707.6 117.1 704.6C118.5 701.6 129.3 653.3 131.3 650.5C133.3 647.6 155 648.1 157 647.6C159 647.2 170.1 642.9 171.2 641.9C172.4 641 178.6 629.8 179.8 629.1C180.9 628.5 191.7 628.4 194 629.1C196.3 629.8 222.9 641.9 225.3 643.4C227.8 644.8 240.7 657.2 242.4 657.6C244.1 658 257.4 650.2 259.5 650.5C261.7 650.8 283.4 662.9 285.2 663.3C286.9 663.7 293.7 660.1 293.7 659C293.7 658 286.3 644.4 285.2 641.9C284 639.5 272.4 612.6 270.9 610.6C269.4 608.6 255.9 603.5 255.2 602.1C254.6 600.6 257.3 583.5 258.1 582.1C258.9 580.8 269.4 575.1 270.9 575C272.4 574.9 286.4 578.3 288 579.3C289.6 580.3 300.2 594.8 302.2 594.9C304.2 595.1 325 583.2 327.9 582.1C330.8 581 358.2 573.2 360 572.8C361.8 572.3 363.5 573.3 364.2 572.8C364.9 572.2 372.8 562.7 373.9 561.7C374.9 560.6 383.9 552.7 385 551.9C386.1 551.1 394.9 546.5 396.1 545.7C397.3 544.9 407.2 536.6 408.6 536C410.1 535.3 423.7 532.3 425.3 532.2C426.9 532.2 439.1 534.4 440.6 534.6C442 534.7 452.9 535.3 454.4 535.3C456 535.3 469.6 534.4 471.1 534.6C472.6 534.8 483.6 538.6 485 539.4C486.4 540.2 497.9 549.4 498.9 550.6C499.9 551.7 503.8 560.7 504.4 561.7C505.1 562.6 511.7 569 512.8 570C513.9 571 524.9 580 526.7 581.1C528.4 582.2 545.4 590.8 547.5 591.5C549.6 592.2 566.2 594.6 568.3 595C570.4 595.4 587.2 598.7 589.2 599.2C591.2 599.7 606.9 604.6 608.6 604.7C610.3 604.9 622.6 602.1 623.9 601.9C625.2 601.8 634.1 602 635 601.9C635.9 601.9 640.1 601.2 641.7 600.8C643.2 600.5 664.6 595.5 666.7 595C668.8 594.5 681.5 591.5 683.3 590.8C685.2 590.2 701.7 582.9 703.3 582.5C705 582.1 715.2 582.3 716.7 582.5C718.2 582.7 731.7 586.3 733.3 586.7C735 587 747.9 589.8 750 590C752.1 590.2 772.9 590.6 775 590.8C777.1 591.1 790 594.5 791.7 595C793.3 595.5 806.4 601.1 808.3 601.7C810.2 602.2 828.9 605.6 830 605.8C831.1 606 828 605.2 829.9 605.8C831.8 606.4 866.2 617.7 868.4 618C870.6 618.4 871.8 612.9 874.1 612.3C876.3 611.8 909.7 606.9 913.9 606.6C918.2 606.4 955.2 607.6 959.5 608.1C963.8 608.6 996 615.9 999.4 616.6C1002.8 617.3 1025 621.9 1027.9 622.3C1030.7 622.7 1053.8 624.8 1056.4 625.2C1058.9 625.5 1077 628.6 1079.2 629.4C1081.3 630.3 1097 641.5 1099.1 642.2C1101.2 643 1119.6 645 1121.9 645.1C1124.2 645.2 1141.8 643.6 1144.7 643.7C1147.5 643.7 1175.4 646.7 1178.8 646.5C1182.3 646.4 1209.8 641.3 1213 640.8C1216.3 640.3 1241.1 637.2 1244.4 636.5C1247.6 635.9 1276.3 628.6 1278.5 628C1280.8 627.4 1288.8 625.4 1289.9 625.2C1291.1 624.9 1299.9 624.3 1301.3 623.6C1302.7 623 1317.2 613.6 1318.3 612.3C1319.3 611.1 1321.8 599.5 1322.5 598.2C1323.2 596.9 1331.3 588.1 1332.4 586.9C1333.6 585.6 1343.7 573.4 1345.2 572.7C1346.6 572.1 1359.2 573.9 1360.7 574.1C1362.3 574.4 1374.7 578 1376.3 577.7C1377.8 577.3 1390.3 568 1391.8 567.1C1393.4 566.2 1405.7 560.9 1407.4 560C1409 559.1 1422.7 549.7 1424.3 548.7C1426 547.7 1438.4 540.9 1439.9 540.2C1441.3 539.5 1451.9 533.5 1453.3 533.8C1454.8 534.2 1467.3 546.4 1468.9 546.6C1470.5 546.7 1483.6 538.3 1485.2 537.4C1486.7 536.5 1497.7 529.7 1499.3 528.9C1500.8 528.1 1514.7 522.3 1516.3 521.8C1517.8 521.3 1529 518.5 1530.4 518.3C1531.8 518 1543 517.3 1544.5 516.9C1546.1 516.4 1559.9 508.9 1560.8 509.1C1561.7 509.3 1562.9 519.7 1562.2 520.4C1561.6 521.1 1548.8 522.5 1547.4 523.2C1545.9 524 1534.3 534.5 1533.2 536C1532.2 537.4 1526.6 551.4 1526.2 552.9C1525.7 554.5 1524.5 566.2 1524.7 567.1C1525 568 1529.8 571.4 1530.4 571.3C1531 571.2 1535.3 566.3 1536.1 565.7C1536.8 565 1544.8 558.2 1546 557.9C1547.1 557.6 1557.5 560 1558.7 560C1559.9 560 1567.7 558.9 1569.4 558.6C1571.1 558.3 1590.6 553.7 1592.7 553.5C1594.9 553.4 1611.2 555.4 1612.7 556.4C1614.1 557.4 1619.9 573 1621.2 573.5C1622.5 574 1637.2 566.7 1638 566.4"/>
<path class="cl" d="M102.3 713.2C103.7 713.7 129 722.8 131.3 723.1C133.6 723.4 148 720.5 148.4 718.8C148.9 717.2 139.9 692.5 139.9 690.4C139.9 688.2 147.1 676.5 148.4 676.1C149.7 675.7 163.1 682.5 165.5 681.8C167.9 681.1 194.1 662.4 196.8 661.9C199.6 661.3 217.8 669.9 219.6 670.4C221.5 671 231.9 672.8 233.9 673.3C235.9 673.7 256.8 678 259.5 679C262.2 680 286 692.6 288 693.2C290 693.8 297.7 691.2 299.4 690.4C301.1 689.5 320 677.4 322.2 676.1C324.3 674.8 339.8 665.7 342.1 664.7C344.4 663.7 365.8 657.3 367.8 656.2C369.7 655 379.9 643.4 380.6 641.9C381.2 640.5 381.4 628 380.6 627.7C379.8 627.4 367.3 636.7 364.9 636.2C362.6 635.8 335.9 619.7 333.6 619.2C331.3 618.6 320.8 625.3 319.3 624.8C317.9 624.4 305.2 612.1 305.1 610.6C304.9 609.1 314.3 595.9 316.5 594.9C318.6 593.9 345 591.3 347.8 590.7C350.7 590 370.3 583.2 373.5 582.1C376.6 581.1 407.9 569.7 410.5 569.3C413 568.9 423.6 573.8 424.7 573.6C425.9 573.4 431.7 565.8 433.3 565C434.8 564.2 454.2 557.6 456.1 557.9C457.9 558.2 468.8 570.8 470.3 570.7C471.8 570.7 485.1 556.1 486 556.5C486.8 556.9 487.8 577.2 487.4 579.3C487 581.3 478 595.5 478.8 597.8C479.7 600.1 501.8 622.6 504.5 624.8C507.2 627.1 527.6 643.1 533 643.4C538.4 643.6 606.2 631.5 612.7 630.5C619.3 629.6 660.4 625.6 664 624.8C667.6 624.1 682 616 684 616.2C686 616.4 701.9 627.9 703.9 629C705.9 630.2 722.5 638.4 723.9 639C725.3 639.6 730.6 641.9 732.4 641.8C734.3 641.8 758.1 637.6 760.9 637.6C763.8 637.6 786.5 641.6 789.4 641.8C792.2 642.1 815 643.3 817.9 643.3C820.7 643.3 844.1 641.7 846.4 641.8C848.6 642 861.5 645.8 863.5 646.1C865.4 646.5 884 649 886.2 649C888.5 648.9 906.8 645.1 909 644.7C911.3 644.3 929.3 641.9 931.8 641.8C934.4 641.8 957.5 643 960.3 643.3C963.2 643.6 985.9 647.1 988.8 647.5C991.6 648 1014.9 651.7 1017.3 651.8C1019.7 652 1035.4 650.1 1037.2 650.4C1039.1 650.7 1052.6 656.9 1054.3 657.5C1056 658.1 1069 661.2 1071.4 661.8C1073.8 662.4 1100 668.3 1102.7 668.9C1105.4 669.5 1123 673.3 1125.5 673.2C1128.1 673 1152 666.5 1154 666.1C1156 665.6 1163.5 665 1165.5 664.6C1167.5 664.3 1191.1 659.3 1193.9 658.9C1196.8 658.6 1219.4 657.5 1222.4 657.5C1225.4 657.5 1250.9 658.7 1253.8 658.4C1256.6 658.1 1276.7 652.4 1279.4 651.8C1282.1 651.3 1305.6 648 1307.9 647.5C1310.2 647.1 1322.7 644.1 1325 643.3C1327.2 642.4 1350.7 632 1353.5 630.5C1356.2 629 1376.7 614.9 1379.1 613.4C1381.5 611.9 1399.7 601.8 1401.9 600.5C1404.1 599.3 1421.5 588.4 1423.2 589.2C1425 589.9 1435.1 614.1 1436.1 616.2C1437 618.3 1441.3 629.1 1441.8 630.5C1442.2 631.8 1443.9 642.3 1444.6 643.3C1445.3 644.2 1454.3 649.3 1456 649C1457.7 648.6 1476.7 637.6 1478.8 636.2C1480.9 634.7 1496.9 621.5 1498.7 620.5C1500.6 619.5 1514.2 616.6 1515.8 616.2C1517.5 615.8 1530.6 611.4 1531.5 611.9C1532.3 612.5 1533.1 626.1 1532.9 627.6C1532.7 629.1 1527.3 640.6 1527.2 641.8C1527.1 643.1 1531.1 653.1 1531.5 653.2C1531.9 653.4 1534.1 645.6 1535.8 644.7C1537.4 643.8 1562.2 637.1 1564.2 636.2C1566.2 635.2 1574.2 626 1575.6 624.8C1577.1 623.5 1590.9 611.5 1592.7 610.5C1594.6 609.5 1610.4 605.2 1612.7 604.8C1614.9 604.5 1636.8 603.5 1638 603.4"/>
<path class="cl" d="M102 715.1C103.2 715.5 123.5 723.1 125.9 723.9C128.3 724.6 148.3 728.8 150.1 729.9C151.9 730.9 160.6 743.7 162.1 745C163.6 746.2 178.7 753.5 180 754.9C181.4 756.3 187.5 771 188.3 772.9C189.1 774.8 194.6 790.8 195.4 792.8C196.2 794.8 203 810.8 204 812.8C205 814.7 214.2 829.5 215.4 831.3C216.5 833 225.4 846.7 226.8 847.5C228.1 848.3 241.3 847.3 242.4 846.9C243.6 846.6 249.5 842.4 249.5 841.2C249.5 840.1 243.2 825.7 242.4 824.2C241.6 822.6 234.7 811.6 233.9 809.9C233 808.2 226.1 791.7 225.3 790C224.5 788.2 218.6 775.9 217.9 774.9C217.3 773.8 212.7 769.6 211.9 768.9C211.1 768.2 202.7 761.9 202 760.9C201.3 759.9 198.1 750.2 198 749C197.8 747.7 198.5 736.6 198.8 735C199.1 733.4 203.3 718.5 204 717C204.6 715.6 210.9 706.2 211.9 705.1C212.9 704 222.5 696.1 223.9 695.1C225.3 694.2 238.7 686.1 239.9 686C241.1 685.9 247.1 691.9 247.8 692.8C248.6 693.8 254.5 703.8 255 705.1C255.4 706.4 255.6 717.7 256.1 719C256.6 720.3 263.3 729.8 264.1 731C264.9 732.3 271 743.9 272 744.1C273.1 744.3 284.5 736.2 286 735C287.5 733.7 300.4 719.7 302 719C303.6 718.3 316.4 720.8 317.9 721C319.4 721.2 330.8 723 331.9 723C333 723 338.4 721.5 339.8 721C341.3 720.5 358.3 714 360.1 713.1C361.9 712.2 374.6 704.3 376 703.1C377.4 701.9 386.8 690.2 388 688.8C389.2 687.5 398.4 678 399.9 676.9C401.5 675.8 417.9 667.8 419.9 666.9C421.9 666 437.3 659.6 439.8 658.9C442.3 658.3 467.2 654.4 470 654.1C472.8 653.8 493.9 652.1 495.9 652.1C497.9 652.1 507.9 653.5 510.2 654.7C512.5 655.9 538.7 674.1 541.5 676C544.4 678 565.2 692.2 567.2 693.1C569.1 694 580.5 695 581.4 694.5C582.2 694.1 583.4 685.5 584.2 684.6C585.1 683.7 595.6 676.6 598.5 676C601.3 675.5 637.9 673.5 641.2 673.2C644.5 672.9 661.9 670.7 664 670.3C666.1 670 681.4 665.8 684 666.1C686.6 666.3 712.6 673.9 715.3 674.6C718 675.3 735.3 679.9 738.1 680.3C741 680.7 768.3 681.8 772.3 681.7C776.3 681.7 814.2 679.2 817.9 678.9C821.6 678.6 843.5 676.1 846.4 676C849.2 676 872 677.3 874.8 677.5C877.7 677.6 900.5 678.9 903.3 678.9C906.2 678.9 929 677.4 931.8 677.5C934.7 677.5 957.5 679.9 960.3 680.3C963.2 680.7 985.9 684.1 988.8 684.6C991.6 685.1 1014.1 689.8 1017.3 690.3C1020.4 690.7 1048.3 692.9 1051.5 693.1C1054.6 693.3 1077.4 694.2 1079.9 694.5C1082.5 694.9 1101 699 1102.7 700.2C1104.4 701.5 1112.7 717.6 1114.1 718.8C1115.5 719.9 1129.6 723 1131.2 723C1132.8 723 1143.9 719.2 1145.5 718.8C1147 718.3 1161 715 1162.6 714.5C1164.2 714 1174.6 709.6 1176.8 708.8C1179.1 708 1205.3 699.8 1208.2 698.8C1211 697.8 1231.5 689.7 1233.8 688.8C1236.1 688 1252 681.7 1253.8 681.7C1255.5 681.8 1268.7 689 1269.4 690.3C1270.1 691.6 1268.5 705.7 1268 707.4C1267.5 709.1 1260.3 723.1 1259.5 724.5C1258.6 725.8 1251.2 733.6 1250.9 734.4C1250.6 735.3 1252.9 741.6 1253.8 741.5C1254.6 741.5 1266.4 733.2 1268 733C1269.6 732.8 1283.5 737.4 1285.1 737.3C1286.7 737.1 1298.2 731.1 1299.3 730.2C1300.5 729.2 1306.7 719.9 1307.9 718.8C1309 717.6 1321 708.5 1322.1 707.4C1323.3 706.2 1329.5 697.1 1330.7 696C1331.8 694.8 1343.3 684.9 1344.9 684.6C1346.5 684.2 1360.3 688.9 1362 688.8C1363.7 688.8 1377.5 683.6 1379.1 683.2C1380.7 682.7 1391.9 679.7 1393.3 678.9C1394.8 678 1406.2 666.2 1407.6 666.1C1409 665.9 1420.4 675.6 1421.8 676C1423.2 676.5 1434.5 675.2 1436.1 674.6C1437.6 674 1451.4 665.6 1453.2 664.6C1454.9 663.6 1468.7 655 1470.2 654.7C1471.8 654.4 1484.3 657.9 1484.5 658.9C1484.6 660 1474.5 674.2 1473.1 676C1471.7 677.9 1457.9 693.8 1456 696C1454.1 698.1 1436.3 717.3 1436.1 718.8C1435.8 720.2 1448.2 724 1450.3 724.5C1452.4 724.9 1475.5 727.1 1478.8 727.3C1482.1 727.5 1513.1 729.4 1515.8 728.7C1518.5 728 1531.3 715 1532.9 713.1C1534.5 711.1 1545.6 692.6 1547.2 690.3C1548.7 688 1562 669.5 1564.2 667.5C1566.5 665.4 1590.9 649.4 1592.7 649C1594.5 648.5 1599.8 657.3 1599.8 658.9C1599.8 660.6 1594.2 679.4 1592.7 681.7C1591.2 684 1571.4 702.2 1569.9 704.5C1568.5 706.8 1565.2 725 1564.2 727.3C1563.2 729.6 1551.4 748.4 1550 750.1C1548.6 751.8 1536.8 760.6 1535.8 761.5C1534.7 762.3 1528.9 765.9 1528.6 767.2C1528.4 768.5 1529.1 786.2 1530.1 787.1C1531 788 1545.6 787.3 1547.2 785.7C1548.7 784.1 1560.3 756 1561.4 755.8C1562.5 755.6 1569.8 778.9 1569.9 781.4C1570.1 784 1564 804.2 1564.2 807.1C1564.5 809.9 1575.6 835.8 1575.6 838.4C1575.6 841 1565.1 856.5 1564.2 858.3C1563.4 860.2 1559 873.8 1558.5 875.4C1558.1 877.1 1554.7 889.8 1555.7 891.1C1556.7 892.4 1576.6 900.2 1578.5 901.1C1580.3 901.9 1591 907.9 1592.7 908.2C1594.4 908.5 1610.8 906 1612.7 906.8C1614.5 907.5 1628.5 922 1629.8 923.8C1631 925.7 1637.6 942.8 1638 943.8"/>
<path class="cl" d="M102 719.3C103.2 719.8 123.5 727.2 125.9 727.9C128.3 728.6 148.2 732.5 150.1 733.6C152 734.6 162.6 747.4 164.1 748.7C165.6 749.9 178.7 756.9 179.8 758.1C180.8 759.3 183.8 771.1 184.3 772.9C184.9 774.6 189.8 791.3 190.6 793.4C191.3 795.5 198.1 813 199.1 815C200.1 817.1 209.4 832.6 210.5 834.4C211.7 836.3 220.7 850.8 221.9 852.1C223.1 853.3 232.6 859.1 233.9 859.8C235.2 860.4 246.3 865.6 248.1 865.5C250 865.3 268.6 856.6 270.9 856.9C273.2 857.3 291.1 870.9 293.7 872.6C296.3 874.2 319.6 888.2 322.2 889.7C324.7 891.1 343.3 899.8 345 901.1C346.7 902.3 354.4 914.7 356.4 915.3C358.4 915.9 382 914.1 384.8 913.9C387.7 913.7 410.9 911 413.3 911C415.8 911.1 431.9 915.2 433.3 915.3C434.6 915.4 439 912.8 440 912.7C441 912.7 451.5 914.2 452.7 914.5C454 914.9 464.2 919.5 465.5 920C466.7 920.5 477 925.1 478.2 925.5C479.4 925.8 488.2 926.6 489.1 927.3C490 927.9 495.5 937.1 496.4 938.2C497.3 939.3 506 948.1 507.3 949.1C508.5 950.1 520.7 957.3 521.8 958.2C522.9 959.1 528.2 966.4 529.1 967.3C530 968.2 538.9 975.4 540 976.4C541.1 977.4 549.8 986.3 550.9 987.3C552 988.3 560.5 995.5 561.8 996.4C563.2 997.2 576.5 1002.9 578.2 1003.6C579.8 1004.4 593.3 1010.9 594.5 1010.9C595.8 1010.9 603.1 1004.5 603.6 1003.6C604.2 1002.8 605.6 995.5 605.5 994.5C605.3 993.5 600.5 984.8 600 983.6C599.5 982.5 596.8 972.2 596.4 970.9C595.9 969.6 591.5 959.3 590.9 958.2C590.3 957.1 584 950.1 583.6 949.1C583.3 948.1 583.3 939.2 583.6 938.2C584 937.2 590.3 930.1 590.9 929.1C591.5 928.1 596.1 919.4 596.4 918.2C596.6 917 596.5 906.6 596.4 905.5C596.2 904.3 593.4 895.5 592.7 894.5C592.1 893.6 584.7 887.8 583.6 887.3C582.5 886.8 572.5 884.6 570.9 884.5C569.4 884.5 554.5 886 552.7 886.4C550.9 886.7 536.4 891.7 534.5 891.8C532.7 892 518.2 889.4 516.4 889.1C514.5 888.8 499.9 885.5 498.2 885.5C496.5 885.4 483.6 887.4 481.8 887.3C480 887.2 463.7 884 461.8 883.6C459.9 883.3 445.5 880.5 443.6 880C441.8 879.5 427.2 873.7 425.5 873.6C423.7 873.5 410.1 878.7 409.1 878.2C408.1 877.7 405.5 865.1 405.5 863.6C405.4 862.2 407.3 850.3 407.3 849.1C407.3 847.9 405.6 841 405.5 840C405.3 839 403.1 831.2 403.4 829.8C403.6 828.5 408.8 813.9 410.5 812.8C412.1 811.6 434 808.6 436.1 807.1C438.3 805.5 452.2 783.7 453.2 781.4C454.2 779.1 456.6 763.3 456.1 761.5C455.5 759.7 443.5 745.7 441.8 745.8C440.1 746 423.9 762.3 421.9 764.3C419.9 766.4 403.6 785 401.9 787.1C400.2 789.3 388.9 805.1 387.7 807.1C386.5 809.1 378.9 825.9 377.7 827C376.6 828.1 366 828.9 364.9 828.4C363.8 828 357.1 819.6 356.4 818.5C355.7 817.3 351.7 805.9 350.7 805.6C349.7 805.4 337.7 813.8 336.4 814.2C335.1 814.5 326.3 813.5 325 812.8C323.7 812 312.4 800.2 310.8 799.9C309.2 799.7 295.6 807.1 293.7 807.1C291.8 807 272.2 800.4 272 798.8C271.9 797.2 288.1 777 290 774.9C291.9 772.8 307.6 758.6 309.9 756.9C312.2 755.2 333.2 742.3 335.9 741C338.5 739.7 359.9 731.1 362.1 731C364.3 730.9 378.4 738.3 380 739C381.6 739.7 392 745 394 745C396 745 417.6 739.5 419.9 739C422.2 738.5 437.3 735.6 439.8 735C442.3 734.4 467.2 727.7 470 727C472.8 726.4 493.9 723 495.9 721.9C497.9 720.8 509.2 705.7 510.2 704.5C511.2 703.4 515 698.9 515.9 698.8C516.7 698.7 526.4 702.1 527.3 703.1C528.1 704.1 531.5 718.3 533 718.8C534.4 719.3 553.2 713.4 555.8 713.1C558.3 712.7 581.4 711.6 584.2 711.6C587.1 711.6 609.9 713.4 612.7 713.1C615.6 712.7 638.6 705.2 641.2 704.5C643.8 703.9 662.6 700.5 664 700.2C665.4 700 668 698.5 669.8 698.8C671.5 699.2 695.7 706.5 698.2 707.4C700.8 708.2 718.5 715.2 721 715.9C723.6 716.6 747 721.5 749.5 721.6C752.1 721.7 770.3 719.2 772.3 718.8C774.3 718.3 787.5 713.4 789.4 713.1C791.2 712.7 807.2 711.7 809.3 711.6C811.5 711.6 830.3 711.4 832.1 711.6C834 711.9 844.8 716.1 846.4 715.9C847.9 715.7 861.3 707.9 863.5 707.4C865.6 706.8 887 704.7 889.1 704.5C891.2 704.4 905 703.9 906.2 704.5C907.3 705.1 910.6 715.4 911.9 715.9C913.2 716.4 929.5 714.1 931.8 714.5C934.1 714.8 954.6 722 957.5 723C960.3 724 988.4 733.5 988.8 734.4C989.2 735.4 966.9 740.9 965.1 741.8C963.4 742.8 954.5 751.8 953.8 753.2C953 754.6 950.6 768.7 950.9 770.3C951.2 771.9 958.6 783.7 959.4 784.6C960.3 785.4 966.9 787.7 968 787.4C969.1 787.1 980.8 779.1 982.2 778.9C983.7 778.6 995.1 780.4 996.5 781.7C997.9 783 1009.3 802.4 1010.7 804.5C1012.1 806.6 1023.3 824.4 1025 824.4C1026.7 824.4 1043.5 806.8 1044.9 804.5C1046.3 802.2 1052.3 780.7 1053.4 778.9C1054.6 777 1066.1 768.5 1067.7 767.5C1069.3 766.5 1082.5 759.6 1084.8 758.9C1087.1 758.3 1110.4 754.6 1113.3 754.6C1116.1 754.6 1140.1 758.7 1141.8 758.9C1143.4 759.1 1144 759.1 1145.5 758.6C1147 758.2 1168.7 750.9 1171.2 750.1C1173.6 749.2 1191.9 742.3 1193.9 741.5C1196 740.8 1211.5 734 1212.5 734.4C1213.5 734.9 1214.2 748.5 1213.9 750.1C1213.5 751.7 1206.6 765 1205.3 767.2C1204.1 769.3 1189.8 790.3 1188.2 792.8C1186.7 795.4 1174.6 816.5 1174 818.5C1173.4 820.4 1175.9 832.6 1176.8 832.7C1177.8 832.8 1192.4 822.6 1193.9 821.3C1195.5 820 1205.9 807.3 1208.2 807.1C1210.5 806.8 1237.4 815.9 1239.5 815.6C1241.7 815.3 1249.4 803.1 1250.9 801.4C1252.4 799.7 1266.9 781.3 1269.4 781.4C1271.9 781.6 1298.8 803.6 1300.8 804.2C1302.7 804.8 1307.1 794.2 1307.9 792.8C1308.7 791.4 1315.3 776.2 1316.4 775.7C1317.6 775.3 1329.5 784.7 1330.7 784.3C1331.9 783.8 1340.1 768.9 1340.6 767.2C1341.1 765.5 1340.3 751.7 1340.6 750.1C1341 748.5 1345.8 736.1 1347.8 735.8C1349.7 735.6 1376.8 745.6 1379.1 745.8C1381.4 746 1392.3 739.9 1393.3 740.1C1394.3 740.3 1399.2 748.9 1399 750.1C1398.8 751.3 1389.3 763.3 1389.1 764.3C1388.8 765.4 1391.8 771.6 1393.3 771.5C1394.8 771.3 1416.7 762.7 1419 761.5C1421.2 760.3 1436.9 747.9 1438.9 747.2C1440.9 746.6 1458.3 747.7 1458.8 748.7C1459.4 749.7 1450.2 765.5 1450.3 767.2C1450.4 768.8 1462 779.7 1461.7 781.4C1461.4 783.1 1445.9 798.8 1444.6 801.4C1443.3 803.9 1437.9 830.3 1436.1 832.7C1434.2 835 1409.8 847.8 1407.6 848.4C1405.4 848.9 1392.6 842.9 1391.9 844.1C1391.2 845.3 1393.5 870.3 1393.3 872.6C1393.1 874.9 1387.5 888.1 1387.6 889.7C1387.8 891.2 1395.2 902.9 1396.2 903.9C1397.2 904.9 1406.2 910.3 1407.6 909.6C1409 908.9 1424.2 891.5 1424.7 889.7C1425.1 887.8 1416.3 874.4 1416.1 872.6C1416 870.7 1420.8 853.8 1421.8 852.6C1422.9 851.5 1436.1 849.4 1437.5 849.8C1438.9 850.2 1449 859.6 1450.3 861.2C1451.7 862.7 1462.8 879.1 1464.5 881.1C1466.3 883.1 1481.9 900.5 1484.5 901.1C1487 901.6 1513.3 892.7 1515.8 892.5C1518.4 892.4 1533.9 897.6 1535.8 898.2C1537.6 898.9 1552.6 904.1 1552.8 905.3C1553.1 906.6 1542.6 922.6 1541.5 923.8C1540.3 925.1 1531.3 931.5 1530.1 931C1528.8 930.5 1517.2 914.2 1515.8 913.9C1514.4 913.6 1503.1 925.5 1501.6 925.3C1500 925.1 1486.3 910.2 1484.5 909.6C1482.6 909 1466.3 911.9 1464.5 912.5C1462.8 913 1451.2 919.9 1450.3 921C1449.4 922.1 1447.2 933.5 1447.5 935.2C1447.7 937 1455.3 954.2 1456 955.2C1456.7 956.2 1460.7 954.3 1461.7 955C1462.7 955.7 1474.7 967.9 1475.9 969.2C1477.2 970.6 1484.9 980.9 1487.3 982.1C1489.8 983.2 1521.1 991.5 1524.4 992C1527.6 992.6 1550.1 993.5 1552.8 993.5C1555.6 993.4 1576.1 990.2 1578.5 990.6C1580.9 991 1599.1 999.7 1601.3 1000.6C1603.4 1001.5 1619.6 1008 1621.2 1009.1C1622.8 1010.3 1631.8 1022.4 1632.6 1023.4C1633.4 1024.4 1637.7 1028.8 1638 1029.1"/>
<path class="cl" d="M102 846.9C104 847.6 138.6 858.4 142.7 859.8C146.9 861.1 182 872.7 185.5 874C188.9 875.3 208 885.6 211.1 885.4C214.2 885.2 245.1 870.9 248.1 869.7C251.1 868.5 268.5 860.7 270.9 861.2C273.3 861.7 293.8 877.8 296.5 879.7C299.3 881.6 322.3 897.9 325 899.6C327.7 901.4 347.9 913.7 350.7 915.3C353.4 916.9 377.6 929.8 380 930.9C382.4 932.1 396.4 937.5 398.2 938.2C400 938.9 414.5 944.7 416.4 945.5C418.2 946.2 432.9 952.1 434.5 952.7C436.2 953.4 448 957.7 449.1 958.2C450.2 958.6 455.5 961.9 456.4 961.8C457.2 961.7 464.5 957 465.5 956.4C466.4 955.7 473.7 949.7 474.5 949.1C475.4 948.5 481.1 943.6 481.8 943.6C482.5 943.6 488.4 948.5 489.1 949.1C489.8 949.7 495.5 955.8 496.4 956.4C497.3 956.9 506.2 959.5 507.3 960C508.4 960.5 517.3 966.4 518.2 967.3C519.1 968.2 524.6 977.1 525.5 978.2C526.3 979.3 533.5 988.1 534.5 989.1C535.6 990.1 545.9 997.4 547.3 998.2C548.6 999 560.6 1004.7 561.8 1005.5C563 1006.2 570.9 1012 570.9 1012.7C570.9 1013.5 562.6 1019.4 561.8 1020C561 1020.6 554.7 1024.6 554.5 1025.5C554.4 1026.3 557.7 1035.4 558.2 1036.4C558.6 1037.4 562.9 1044.6 563.6 1045.5C564.4 1046.3 571.9 1051.9 572.7 1052.7C573.5 1053.5 579.2 1060.8 580 1061.8C580.8 1062.8 588.2 1071.7 589.1 1072.7C590 1073.7 597.3 1080.9 598.2 1081.8C599.1 1082.7 606.4 1089.9 607.3 1090.9C608.2 1091.9 615.4 1100.6 616.4 1101.8C617.4 1103 625.5 1114.3 627 1114.5C628.6 1114.7 644.8 1106.2 647 1106C649.1 1105.8 667.8 1109.8 669.8 1110.2C671.8 1110.7 685.8 1114.8 686.8 1114.5C687.9 1114.2 691.7 1105.8 691.1 1104.5C690.6 1103.3 677.2 1090.1 675.5 1088.9C673.7 1087.7 658.4 1080.7 656.4 1080C654.3 1079.3 636.4 1075.6 634.5 1074.5C632.7 1073.5 621.4 1060.2 620 1058.2C618.6 1056.2 608.4 1035.8 607.3 1034.5C606.2 1033.3 599.2 1032.9 598.2 1032.7C597.2 1032.5 588.3 1031.2 587.3 1030.9C586.3 1030.6 577.6 1027.7 578.2 1027.3C578.7 1026.8 596.7 1022.2 598.2 1021.8C599.6 1021.5 606.5 1020.4 607.3 1020C608.1 1019.6 614.1 1015.4 614.5 1014.5C615 1013.7 616.4 1004.8 616.4 1003.6C616.4 1002.5 615 992.3 614.5 990.9C614.1 989.5 607.9 977.9 607.3 976.4C606.6 974.8 602 961.5 601.8 960C601.6 958.5 603.2 946.9 603.6 945.5C604.1 944 610.3 932.4 610.9 930.9C611.5 929.5 616.2 917.6 616.4 916.4C616.5 915.1 615 906.5 614.5 905.5C614.1 904.4 608.1 895.7 607.3 894.5C606.5 893.4 599.1 882.7 598.2 881.8C597.3 881 590.5 877.5 589.1 877.3C587.7 877 572.7 876.3 570.9 876.4C569.1 876.4 554.5 877.8 552.7 878.2C550.9 878.5 536.8 883.6 534.5 883.6C532.3 883.7 509.5 879.5 507.3 879.1C505 878.7 490.9 875.6 489.1 875.5C487.3 875.3 472.7 876.2 470.9 876.4C469.1 876.5 454.1 878.3 452.7 878.2C451.4 878 443.6 874.2 443.6 873.6C443.6 873.1 451.7 868.2 452.7 867.3C453.7 866.3 463.2 855.9 463.6 854.5C464.1 853.2 461.8 841.2 461.8 840C461.9 838.8 464.3 831.5 464.6 829.8C464.9 828.2 467.2 809.1 467.5 807.1C467.7 805.1 469.6 791.7 470.3 790C471 788.3 480.8 774.6 481.7 772.9C482.6 771.2 486.5 756.6 487.4 755.8C488.2 754.9 496.8 755.9 498.8 755.8C500.8 755.7 524.4 754.5 527.3 754.4C530.1 754.2 553.2 753 555.8 752.9C558.3 752.9 576.3 752.2 578.5 752.9C580.8 753.7 599.1 765.8 601.3 767.2C603.6 768.6 622.1 781.3 624.1 781.4C626.1 781.6 639.2 771.3 641.2 770C643.2 768.7 661.4 756.9 664 755.8C666.6 754.7 690 748.7 692.5 748.7C695.1 748.6 713.1 754.4 715.3 754.4C717.6 754.4 735.8 749.1 738.1 748.7C740.4 748.2 758.3 745.5 760.9 745.8C763.5 746.2 786.5 755.1 789.4 755.8C792.2 756.5 814.6 759.7 817.9 760.1C821.2 760.4 852.1 763.4 854.9 762.9C857.8 762.4 872.9 751 874.8 750.1C876.8 749.2 892.7 744.8 894.8 744.4C896.9 744 915.7 742.8 917.6 743C919.4 743.2 930.5 747.2 931.8 748.7C933.1 750.2 941.8 770.7 943.2 772.9C944.6 775.1 958.9 791.3 960.3 792.8C961.7 794.4 970.6 802.8 971.7 804.2C972.8 805.6 982.5 820 983.1 821.3C983.7 822.6 983.7 828.9 983.1 829.8C982.5 830.8 971.3 840 971.7 841.2C972.1 842.5 989.9 854.1 991.6 854.1C993.3 854.1 1004.2 842 1005.9 841.2C1007.6 840.5 1023.8 840.1 1025.8 839.8C1027.8 839.5 1043.9 835.3 1045.8 835.5C1047.6 835.8 1061.4 843 1062.8 844.1C1064.3 845.2 1072.8 856.8 1074.2 858.3C1075.7 859.9 1089.9 873.8 1091.3 875.4C1092.8 877.1 1101.7 891.9 1102.7 891.1C1103.7 890.2 1110.4 860.5 1111.3 858.3C1112.1 856.1 1118.8 847.6 1119.8 846.9C1120.8 846.3 1130.1 844.9 1131.2 845.5C1132.4 846.1 1141.5 857.2 1142.6 858.3C1143.7 859.5 1152.3 867.9 1154 868.3C1155.7 868.7 1175.3 866.5 1176.8 866.9C1178.4 867.2 1185.1 874 1185.4 875.4C1185.7 876.8 1182.1 893.4 1182.5 895.4C1183 897.4 1192.8 913.2 1193.9 915.3C1195.1 917.4 1204.3 936.1 1205.3 938.1C1206.3 940.1 1212.6 953.8 1213.9 955.2C1215.2 956.6 1229.7 965.3 1231 966.4C1232.3 967.5 1238.4 977.4 1239.5 977.8C1240.7 978.1 1252.3 973.2 1253.8 973.5C1255.2 973.8 1266.9 982.4 1268 983.5C1269.1 984.6 1276.4 993.5 1276.5 994.9C1276.7 996.3 1271.6 1010.1 1270.8 1012C1270.1 1013.8 1263 1030.5 1262.3 1031.9C1261.6 1033.3 1257.7 1039.9 1256.6 1040.5C1255.5 1041 1240.8 1042.3 1239.5 1043.3C1238.2 1044.3 1232 1058.8 1231 1060.4C1230 1062 1219.9 1073.2 1219.6 1074.6C1219.3 1076.1 1224.8 1087.3 1225.3 1088.9C1225.8 1090.4 1230.5 1104.7 1229.5 1106C1228.5 1107.3 1206.7 1113.7 1205.3 1114.5C1204 1115.4 1202.3 1122 1202.5 1123.1C1202.6 1124.1 1206.6 1135.8 1208.2 1135.9C1209.7 1136 1232 1124.6 1233.8 1124.5C1235.7 1124.4 1245.5 1133.1 1245.2 1134.5C1244.9 1135.8 1230 1150.3 1228.1 1151.5C1226.3 1152.8 1209.9 1160.5 1208.2 1160.1C1206.5 1159.7 1195.6 1144.3 1193.9 1143C1192.2 1141.7 1175.6 1134.8 1174 1134.5C1172.4 1134.1 1162.9 1134.6 1162.6 1135.9C1162.3 1137.2 1167.8 1157.6 1168.3 1160.1C1168.8 1162.5 1172.6 1183.1 1173.4 1184.9C1174.3 1186.6 1184.3 1194.5 1185.1 1195.1C1185.9 1195.8 1189.5 1197.5 1190 1198.3C1190.4 1199 1192.4 1208.9 1193.4 1209.9C1194.4 1211 1208.6 1219 1209.9 1219.1C1211.2 1219.1 1220.3 1212.9 1220.1 1211.6C1220 1210.4 1207.3 1195.3 1206.8 1193.4C1206.2 1191.6 1207.6 1175.4 1208.5 1174.9C1209.3 1174.4 1222.2 1184.9 1223.3 1184.3C1224.4 1183.7 1229.3 1164.3 1230.1 1163.2C1231 1162.1 1239.3 1161.5 1240.1 1161.8C1240.8 1162.1 1244.1 1169.3 1244.9 1170.1C1245.8 1170.8 1255.4 1175.9 1256.6 1176.6C1257.9 1177.3 1268.5 1183.1 1270 1183.4C1271.5 1183.8 1285.5 1183.9 1286.8 1184.3C1288.1 1184.7 1295.5 1190.8 1296.8 1191.7C1298 1192.6 1309.9 1201.4 1311.6 1201.7C1313.2 1202 1328.3 1197.5 1330.1 1198.3C1331.8 1199 1344.7 1216.4 1346.6 1216.8C1348.5 1217.1 1366.1 1207.1 1367.7 1205.7C1369.2 1204.3 1377.1 1190.3 1377.7 1188.6C1378.2 1186.9 1379.2 1173.1 1379.1 1171.5C1379 1169.9 1376.8 1159.2 1376.2 1157.2C1375.7 1155.2 1368.8 1133.6 1367.7 1131.6C1366.6 1129.6 1353.6 1118.4 1353.5 1117.4C1353.3 1116.3 1363.3 1110.8 1364.8 1110.2C1366.4 1109.7 1383.4 1106.8 1384.8 1106C1386.2 1105.2 1392.2 1095.4 1393.3 1094.6C1394.5 1093.7 1405.4 1089.6 1407.6 1088.9C1409.7 1088.2 1434.2 1080.6 1436.1 1080.3C1437.9 1080 1443.8 1082.1 1444.6 1083.2C1445.5 1084.2 1452.2 1101.4 1453.2 1101.7C1454.1 1102 1464.1 1090.4 1464.5 1088.9C1465 1087.4 1460.3 1072.8 1461.7 1071.8C1463.1 1070.8 1489.6 1068.9 1493 1068.9C1496.4 1068.9 1527.2 1072 1530.1 1071.8C1532.9 1071.6 1548 1065.5 1550 1064.7C1552 1063.8 1567.1 1055.3 1569.9 1054.7C1572.8 1054.1 1603.6 1052.1 1607 1051.8C1610.4 1051.6 1636.5 1050.5 1638 1050.4"/>
<path class="cl" d="M102.3 1110.2C103.1 1110.1 117 1106.4 118.5 1107.4C120 1108.4 131.4 1129.8 132.8 1130.2C134.1 1130.6 144.2 1117.4 145.6 1115.9C147 1114.4 159.5 1101.1 161.2 1100.3C163 1099.4 177.7 1097.9 179.8 1098.8C181.8 1099.8 201.5 1117 202.5 1118.8C203.5 1120.6 199.3 1133 199.7 1134.5C200.1 1135.9 210 1146.5 211.1 1147.3C212.2 1148.1 220.4 1149.1 221.1 1150.1C221.7 1151.1 223 1166.3 223.9 1167.2C224.8 1168.1 238 1168.8 239.6 1168.6C241.1 1168.5 253.7 1164.4 255.2 1164.4C256.8 1164.4 269.3 1168.7 270.9 1168.6C272.5 1168.6 285 1162.7 286.6 1162.9C288.1 1163.2 300.7 1173.6 302.2 1173.8C303.8 1173.9 315.9 1166.7 317.9 1165.8C319.9 1164.9 339.8 1156.5 342.1 1155.8C344.5 1155.1 363.1 1152.3 364.9 1151.5C366.8 1150.8 377.7 1139.9 379.2 1140.2C380.6 1140.4 391.9 1155.9 393.4 1157.2C394.9 1158.6 407.5 1166.4 409.1 1167.2C410.6 1168.1 423.2 1174.5 424.7 1174.3C426.3 1174.2 438.8 1164.8 440.4 1164.4C442 1163.9 454.6 1166 456.1 1165.8C457.6 1165.6 468.8 1160 470.3 1160.1C471.8 1160.2 484.4 1167.3 486 1167.2C487.5 1167.1 500.1 1158.9 501.6 1158.7C503.2 1158.5 515.7 1162.8 517.3 1162.9C518.9 1163.1 531.5 1161.4 533 1161.5C534.5 1161.6 544.9 1164.1 547.2 1164.4C549.6 1164.6 577 1166.5 580 1167.2C583 1167.9 604.7 1177.4 607 1178.6C609.4 1179.8 625.3 1190.5 627 1191.4C628.6 1192.3 638.4 1196.6 639.8 1196.6C641.2 1196.6 653.7 1191.8 655.5 1191.4C657.2 1191 673 1188.6 675.5 1188.6C677.9 1188.6 701.4 1190.7 703.9 1191.4C706.5 1192.1 724.6 1201.5 726.7 1202.8C728.9 1204.2 744.2 1218.1 746.7 1218.5C749.1 1218.9 772.9 1212.1 775.2 1211.4C777.4 1210.6 791.2 1204.2 792.2 1202.8C793.3 1201.4 796.5 1185.3 796.5 1182.9C796.5 1180.5 791.8 1156.7 791.7 1154.4C791.5 1152.1 792.9 1138.6 793.7 1137.3C794.4 1136 805.1 1128.8 806.5 1128.8C807.8 1128.7 819.6 1134.6 820.7 1135.9C821.8 1137.2 828.2 1152 828.7 1154.4C829.2 1156.7 831 1180 831 1182.9C831 1185.7 829.6 1208.5 829.3 1211.4C829 1214.2 825.2 1237 824.7 1239.8C824.2 1242.7 819.6 1265.5 819 1268.3C818.4 1271.2 814.7 1294 813.3 1296.8C811.9 1299.7 793.4 1322.7 790.8 1325.3C788.3 1327.9 764.4 1346.1 762.3 1348.1C760.3 1350.1 750.7 1364.3 750.1 1365.2"/>
<path class="cl" d="M102.3 1182.9C103 1183.2 115.5 1188.5 117.1 1188.6C118.7 1188.6 132.2 1184.4 134.2 1184.3C136.2 1184.2 154.8 1186.7 157 1187.2C159.1 1187.6 175.1 1192.6 176.9 1192.8C178.8 1193.1 192.9 1191.2 194 1191.4C195.1 1191.6 198.1 1196.5 199.7 1197.1C201.3 1197.7 222.5 1203.2 225.3 1203.7C228.2 1204.1 253.8 1205.4 256.7 1205.7C259.5 1205.9 279.3 1208.1 282.3 1208.5C285.3 1208.9 313.9 1213.6 316.5 1213.6C319 1213.6 331.6 1209.1 333.6 1208.5C335.6 1207.9 353.8 1201.8 356.4 1201.4C358.9 1200.9 382.2 1199.5 384.8 1199.4C387.5 1199.3 407.1 1198.3 409.1 1198.5C411.1 1198.8 423.1 1203.7 424.7 1204.2C426.4 1204.8 439.5 1209.2 441.8 1209.4C444.1 1209.5 468.2 1206.8 470.3 1207.1C472.4 1207.3 483.3 1213.2 484.5 1214.2C485.8 1215.2 494.7 1225.9 495.9 1227C497.2 1228.2 508.6 1236 510.2 1237C511.7 1238 525.5 1246.1 527.3 1247C529.1 1247.8 544.1 1253.8 545.8 1254.1C547.5 1254.4 559.8 1253.1 561.5 1252.7C563.1 1252.2 576.6 1246 578.5 1245.5C580.5 1245.1 598.9 1244 601.3 1244.1C603.8 1244.3 625.1 1247.6 627 1248.4C628.8 1249.2 637.1 1259 638.4 1259.8C639.6 1260.6 650.8 1263.5 652.6 1264.1C654.5 1264.6 673.7 1270.5 675.5 1271.2C677.2 1271.9 684.7 1278.3 686.8 1278.3C689 1278.3 715 1271.4 718.2 1271.2C721.3 1271 746.8 1274.2 749.5 1274C752.2 1273.9 770.3 1269 772.3 1268.3C774.3 1267.6 788.1 1260.8 789.4 1259.8C790.7 1258.8 797.4 1250 797.9 1248.4C798.5 1246.8 800.2 1230.6 800.2 1228.5C800.2 1226.3 797.3 1207.9 797.4 1205.7C797.4 1203.4 800.9 1185.3 800.8 1182.9C800.7 1180.5 795.7 1159.3 795.7 1157.2C795.6 1155.2 798.7 1142.6 799.4 1141.6C800 1140.5 808.3 1135.7 809.3 1135.9C810.3 1136 818.5 1143.2 819.3 1144.4C820.1 1145.6 824.6 1158.2 825 1160.1C825.4 1162 827 1180.3 827 1182.9C827 1185.4 826.1 1208.5 825.9 1211.4C825.6 1214.2 821.8 1237 821.3 1239.8C820.8 1242.7 816.7 1265.5 816.2 1268.3C815.6 1271.2 811.9 1294 810.5 1296.8C809.1 1299.7 790.5 1322.7 788 1325.3C785.4 1327.9 761.5 1347.5 759.5 1349.5C757.5 1351.5 749.2 1364.4 748.7 1365.2"/>
<path class="cl" d="M102.3 1217.1C103 1217.2 115.5 1219.7 117.1 1219.9C118.7 1220.1 132.6 1221 134.2 1221.3C135.7 1221.7 146.6 1226.5 148.4 1227C150.3 1227.6 168.6 1231.9 171.2 1232.7C173.8 1233.5 197.6 1241.8 199.7 1242.7C201.8 1243.6 212.7 1249.1 213.9 1249.8C215.2 1250.5 223.6 1256.5 225.3 1256.9C227 1257.4 245.8 1258.2 248.1 1258.4C250.4 1258.5 269.1 1260.1 270.9 1259.8C272.8 1259.5 283.6 1253.1 285.2 1252.7C286.7 1252.2 300.8 1251.7 302.2 1251.2C303.7 1250.7 312.2 1243.4 313.6 1242.7C315.1 1242 329 1237.4 330.7 1237C332.4 1236.6 345.8 1234.3 347.8 1234.2C349.8 1234 368.3 1233.6 370.6 1233.6C372.9 1233.6 391.4 1233.7 393.4 1234.2C395.4 1234.6 408.9 1242.5 410.5 1242.7C412.1 1242.9 423.3 1238.5 424.7 1238.4C426.2 1238.4 436.6 1240.8 439 1241.3C441.3 1241.8 468.7 1247.5 471.7 1248.4C474.7 1249.2 496.4 1257.4 498.8 1258.4C501.1 1259.4 517 1267.7 518.7 1268.3C520.4 1269 531.4 1270.3 533 1271.2C534.5 1272.1 548.2 1285.9 550.1 1286.8C551.9 1287.8 568.4 1289.4 570 1289.7C571.6 1290 580.1 1292.6 581.4 1292.5C582.7 1292.5 594.1 1288.1 595.6 1288.3C597.2 1288.5 611 1295.8 612.7 1296.8C614.4 1297.8 627.7 1307 629.8 1308.2C632 1309.4 652.6 1320.3 655.5 1320.5C658.3 1320.6 684.4 1311.2 686.8 1311.1C689.3 1310.9 702.4 1316.2 703.9 1316.8C705.5 1317.3 716.5 1322.5 718.2 1322.5C719.9 1322.5 736.1 1318 738.1 1316.8C740.1 1315.5 756.2 1298.5 758.1 1296.8C759.9 1295.1 773.3 1284.1 775.2 1282.6C777 1281 793.5 1266.8 795.1 1265.5C796.7 1264.2 805.7 1256.8 806.5 1256.9C807.3 1257.1 810.8 1266.3 810.8 1268.3C810.8 1270.3 807.8 1294 806.5 1296.8C805.1 1299.7 786.2 1322.6 783.7 1325.3C781.2 1328 758.5 1348.9 756.6 1350.9C754.8 1352.9 747.2 1364.5 746.7 1365.2"/>
<path class="cl" d="M101.1 493.8C101.5 488.1 107.9 506.6 108.5 508.1C109.2 509.5 113.4 520.6 114.2 522.3C115.1 524 125.1 540.2 125.6 542.2C126.1 544.2 123.9 560.2 124.2 562.2C124.5 564.2 130.1 580.8 131.3 582.1C132.5 583.4 147.3 587.1 148.4 587.8C149.6 588.5 154.2 595.4 154.1 596.4C154.1 597.4 148.7 607.3 147 607.8C145.3 608.2 121.4 605.6 119.9 604.9C118.4 604.3 117.7 594.8 117.1 594.9C116.5 595.1 109.3 606.4 108.5 607.8C107.7 609.1 101.5 627.7 101.1 622C100.8 616.3 100.8 499.5 101.1 493.8Z"/>
<path class="cl" d="M1337.8 814.2C1338.1 812.3 1345.1 803.5 1346.3 802.8C1347.5 802.1 1360.9 799.3 1362 799.9C1363.1 800.6 1367.2 813.8 1367.7 815.6C1368.2 817.4 1371.7 833.4 1372 835.5C1372.3 837.7 1373.9 857 1373.4 858.3C1372.9 859.7 1363.4 862.6 1362 862.6C1360.6 862.6 1346 859.4 1344.9 858.3C1343.8 857.3 1339.6 843.5 1339.2 841.2C1338.9 839 1337.4 816.1 1337.8 814.2Z"/>
<path class="cl" d="M1357.7 992C1358.3 990.5 1368.8 982.6 1370.5 982.1C1372.3 981.5 1392.1 979.9 1393.3 980.6C1394.6 981.3 1395.5 995.3 1396.2 996.3C1396.9 997.3 1406.6 1000.6 1407.6 1000.6C1408.5 1000.5 1414.3 995.9 1414.7 994.9C1415.1 993.9 1414.3 981.7 1414.7 980.6C1415.1 979.6 1422 973.4 1423.2 973.5C1424.5 973.7 1437 982.6 1438.9 983.5C1440.8 984.4 1460 991.3 1461.7 992C1463.4 992.7 1474.4 996.5 1473.1 997.7C1471.8 998.9 1438.3 1014.8 1436.1 1016.2C1433.8 1017.7 1428.2 1024.6 1427.5 1026.2C1426.8 1027.8 1423.2 1046.7 1421.8 1047.6C1420.4 1048.4 1400.9 1043.7 1399 1043.3C1397.2 1042.9 1385.9 1040.2 1384.8 1040.5C1383.7 1040.7 1378.5 1047.9 1377.7 1047.6C1376.8 1047.2 1368.6 1035.1 1367.7 1033.3C1366.8 1031.6 1359.7 1014 1359.2 1012C1358.7 1009.9 1357.2 993.5 1357.7 992Z"/>
<path class="cl" d="M1396.2 1103.1C1396.2 1102.4 1405.9 1097.6 1407.6 1097.4C1409.3 1097.3 1428.1 1099.7 1430.4 1100.3C1432.6 1100.8 1451 1107.9 1453.2 1108.8C1455.3 1109.7 1473.1 1118 1473.1 1118.8C1473.1 1119.6 1455.7 1124.7 1453.2 1124.5C1450.6 1124.3 1424.1 1115.2 1421.8 1114.5C1419.5 1113.9 1408.9 1112.2 1407.6 1111.7C1406.3 1111.1 1396.2 1103.8 1396.2 1103.1Z"/>
<path class="cl" d="M111.4 727.3C113 727.5 131.9 733.6 134.2 734.4C136.5 735.3 154.8 743 157 744.4C159.1 745.7 175.4 759.6 176.9 761.5C178.4 763.3 186.2 779 186.9 781.4C187.6 783.8 191.4 807.6 191.2 809.9C190.9 812.2 183.9 826 182.6 827C181.3 828 167.2 830.6 165.5 829.8C163.8 829.1 149.6 814.8 148.4 812.8C147.3 810.8 143.9 791.3 142.7 790C141.6 788.7 127.2 788 125.6 787.1C124.1 786.3 112.6 773.7 111.4 772.9C110.2 772 102.5 772.2 102 770C101.5 767.9 101.5 732.3 102 730.2C102.5 728 109.8 727.1 111.4 727.3Z"/>
<path class="cl" d="M117.1 744.4C117.7 743 130.1 741 131.3 741.5C132.6 742.1 142.2 754.2 142.7 755.8C143.3 757.4 143.3 771.6 142.7 772.9C142.2 774.2 132.5 781.6 131.3 781.4C130.2 781.3 120.7 771.9 119.9 770C119.2 768.2 116.5 745.8 117.1 744.4Z"/>
<path class="cl" d="M124.2 752.9C124.6 752.2 132 750.9 132.8 751.5C133.5 752.1 138.5 763.2 138.5 764.3C138.4 765.5 132 774.2 131.3 774.3C130.6 774.4 124.6 768.2 124.2 767.2C123.9 766.1 123.8 753.7 124.2 752.9Z"/>
<path class="cl" d="M155.5 772.9C156.6 771.2 172.5 763.9 174.1 764.3C175.6 764.8 186.2 779.3 186.9 781.4C187.6 783.6 188.8 805.1 188.3 807.1C187.8 809 178.3 819.5 176.9 819.9C175.6 820.3 162.5 816.7 161.2 815.6C160 814.5 153 800.7 152.7 798.5C152.4 796.4 154.5 774.6 155.5 772.9Z"/>
<path class="cl" d="M161.2 781.4C162.1 780.3 174.3 772.6 175.5 772.9C176.6 773.2 183.6 785.4 184 787.1C184.5 788.8 184.5 805.7 184 807.1C183.5 808.4 175.1 814.2 174.1 814.2C173.1 814.2 164.9 808 164.1 807.1C163.3 806.1 158.5 796.9 158.4 795.7C158.3 794.4 160.4 782.6 161.2 781.4Z"/>
<path class="cl" d="M655.5 814.2C656.4 813.3 669.2 812.1 669.8 812.8C670.3 813.4 666.2 825.6 666.9 827C667.6 828.4 683.6 839.5 684 841.2C684.4 843 676.2 859.5 675.5 861.2C674.7 862.9 670.9 874.3 669.8 875.4C668.6 876.6 654.1 883 652.7 884C651.2 885 642.7 895 641.3 895.4C639.8 895.7 625.3 891.8 624.2 891.1C623 890.4 617.9 882.3 618.5 881.1C619.1 879.9 634.2 868 635.6 866.9C637 865.7 647 859.5 647 858.3C647 857.2 635.3 845.5 635.6 844.1C635.9 842.7 651.7 831.3 652.7 829.8C653.7 828.4 654.7 815 655.5 814.2Z"/>
<path class="cl" d="M748.1 797.1C748.1 796.2 759.7 788.6 760.9 788.5C762.1 788.5 772.3 794.8 772.3 795.7C772.3 796.5 762.1 805.6 760.9 805.6C759.7 805.7 748.1 797.9 748.1 797.1Z"/>
<path class="cl" d="M481.8 967.3C482.1 966.8 491.5 975.2 492.7 976.4C494 977.5 505.8 990 507.3 990.9C508.7 991.8 520.6 993.5 521.8 994.5C523 995.5 531.6 1010.3 530.9 1010.9C530.2 1011.5 509 1007.6 507.3 1007.3C505.5 1006.9 497.3 1004.1 496.4 1003.6C495.5 1003.2 489.5 999.1 489.1 998.2C488.6 997.3 487.6 987 487.3 985.5C486.9 983.9 481.5 967.7 481.8 967.3Z"/>
<path class="cl" d="M703.9 1114.5C703.9 1113.4 713.6 1103.8 715.3 1103.1C717 1102.4 736.1 1099.7 738.1 1100.3C740.1 1100.8 754.5 1113.2 755.2 1114.5C755.9 1115.8 753.5 1124.8 752.4 1125.9C751.2 1127 734.3 1135.9 732.4 1135.9C730.6 1135.9 716.8 1127 715.3 1125.9C713.9 1124.8 703.9 1115.7 703.9 1114.5Z"/>
<path class="cl" d="M97.5 870C99.1 863.5 126.6 864.9 130 865C133.4 865.1 161.8 871 165 872.5C168.2 874 192.6 892.1 195 895C197.4 897.9 211.4 927.2 212.5 930C213.6 932.8 218.1 948 217.5 950C216.9 952 201.9 968 200 970C198.1 972 182.5 990.5 180 990C177.5 989.5 152.5 961 150 960C147.5 959 132.6 968.2 130 970C127.4 971.8 99.1 1000 97.5 995C95.9 990 95.9 876.5 97.5 870Z"/>
<path class="cl" d="M260 885C260.5 883.1 270.5 877.2 272.5 877.5C274.5 877.8 296.9 887.4 300 890C303.1 892.6 331.5 927 335 930C338.5 933 366.2 948.5 370 950C373.8 951.5 406.2 957.8 410 960C413.8 962.2 443 992.5 445 995C447 997.5 451 1008.2 450 1010C449 1011.8 428.2 1028.8 425 1030C421.8 1031.2 386.5 1033 385 1035C383.5 1037 396.2 1068.5 395 1070C393.8 1071.5 363.8 1063.1 360 1065C356.2 1066.9 323 1105.6 320 1107.5C317 1109.4 302.5 1105.1 300 1102.5C297.5 1099.9 271.9 1058.4 270 1055C268.1 1051.6 262.4 1037.4 262.5 1035C262.6 1032.6 271 1009.8 272.5 1007.5C274 1005.2 292.5 990.9 292.5 990C292.5 989.1 275.6 988 272.5 990C269.4 992 233.4 1028.1 230 1030C226.6 1031.9 204.9 1030.2 205 1027.5C205.1 1024.8 230.5 978.4 232.5 975C234.5 971.6 242.1 960 245 960C247.9 960 286.9 975 290 975C293.1 975 306.9 962 307.5 960C308.1 958 304.4 935.2 302.5 935C300.6 934.8 272 956 270 955C268 954 263 918.5 262.5 915C262 911.5 259.5 886.9 260 885Z"/>
<path class="cl" d="M542.5 797.5C543.5 796.5 564.6 794.6 567.5 795C570.4 795.4 597.8 804.1 600 805C602.2 805.9 612.1 810.8 612.5 812.5C612.9 814.2 608.1 838.2 607.5 840C606.9 841.8 601.4 847.6 600 847.5C598.6 847.4 582 838.2 580 837.5C578 836.8 561.6 833.6 560 832.5C558.4 831.4 548.4 816.8 547.5 815C546.6 813.2 541.5 798.5 542.5 797.5Z"/>
<path class="cl dot" d="M1340.6 290.2C1341.1 287.9 1348.9 285.3 1353.5 283.1C1358 281 1363.9 279.8 1367.7 277.4C1371.5 275.1 1371 270.3 1376.2 268.9C1381.5 267.5 1395 265.6 1399 268.9C1403.1 272.2 1402.4 284.1 1400.5 288.8C1398.6 293.6 1393.6 295.6 1387.6 297.4C1381.7 299.2 1371 299.6 1364.8 299.6C1358.7 299.6 1354.6 298.9 1350.6 297.4C1346.6 295.8 1340.2 292.6 1340.6 290.2Z"/>
<path class="cl" d="M752.4 1366.6C708.6 1365.8 761.8 1351.6 763.8 1349.5C765.8 1347.5 789.8 1327.9 792.2 1325.3C794.7 1322.7 812.3 1299.7 813.6 1296.8C814.9 1294 817.4 1271.2 817.9 1268.3C818.4 1265.5 823.1 1242.7 823.6 1239.8C824.1 1237 827.6 1214.2 827.8 1211.4C828.1 1208.5 829.3 1185.7 829.3 1182.9C829.2 1180 826.9 1156.7 826.4 1154.4C826 1152.1 821.3 1139 820.7 1137.3C820.2 1135.6 815.7 1121.6 815 1120.2C814.3 1118.8 807.8 1110 806.5 1108.8C805.2 1107.7 791.1 1098.7 789.4 1097.4C787.7 1096.1 774.3 1084.3 772.3 1083.2C770.3 1082 751.8 1075.6 749.5 1074.6C747.2 1073.6 729 1064.4 726.7 1063.2C724.4 1062.1 706.2 1053 703.9 1051.8C701.7 1050.7 682.1 1042 681.2 1040.5C680.2 1038.9 684.3 1022.9 684 1020.5C683.7 1018.1 676.4 994 675.5 992C674.5 990 665.8 981.9 665.5 980.6C665.2 979.4 668.8 967.7 669.8 966.4C670.7 965.1 683.7 956.1 684 955C684.3 953.9 676.5 945.5 675.5 943.8C674.5 942.1 664.2 922.9 664.1 921C663.9 919.1 671.3 907.3 672.6 906.8C673.9 906.2 688.3 910.7 689.7 909.6C691.1 908.5 699.7 885.1 701.1 884C702.5 882.8 716.3 886.5 718.2 886.8C720 887.1 736.6 889 738.1 889.7C739.7 890.4 748.8 899.5 749.5 901.1C750.2 902.6 751.5 919.7 752.4 921C753.2 922.3 765 926.7 766.6 926.7C768.2 926.7 782 922.3 783.7 921C785.4 919.7 798.8 902.6 800.8 901.1C802.8 899.6 821.6 891.9 823.6 891.1C825.6 890.3 839.1 885.4 840.7 885.4C842.2 885.4 853.2 891.4 854.9 891.1C856.6 890.7 872.6 879.8 874.8 878.3C877.1 876.8 898.3 861.9 900.5 861.2C902.6 860.5 915.6 863.2 917.6 864C919.6 864.8 938.2 876 940.4 876.8C942.5 877.7 958.2 880.3 960.3 881.1C962.4 881.9 980.8 891.7 983.1 892.5C985.4 893.3 1003.7 896.4 1005.9 896.8C1008 897.2 1024.4 900.1 1025.8 901.1C1027.2 902 1032.8 914 1034.4 915.3C1035.9 916.6 1055.2 925.3 1057.2 926.7C1059.1 928.1 1072.5 942.4 1074.2 943.8C1076 945.2 1090 953.3 1091.3 955.2C1092.6 957 1098.9 978.1 1099.9 980.6C1100.9 983.2 1110.1 1003.9 1111.3 1006.3C1112.5 1008.6 1124.3 1025.2 1124.2 1027.6C1124 1030.1 1108.1 1052.3 1108.5 1054.7C1108.8 1057 1130 1072.2 1131.3 1074.6C1132.6 1077.1 1133.6 1100.6 1134.1 1103.1C1134.6 1105.7 1140.5 1123.5 1141.2 1125.9C1142 1128.3 1148.7 1149.5 1149.8 1151.5C1150.9 1153.6 1161.8 1165.5 1162.6 1167.2C1163.4 1168.9 1165 1183.9 1165.5 1185.7C1165.9 1187.5 1170.7 1200.8 1171.2 1202.8C1171.7 1204.8 1174.6 1224.7 1175.4 1225.6C1176.3 1226.5 1186.7 1220.8 1188.2 1221.3C1189.7 1221.8 1204.3 1234.1 1205.3 1235.6C1206.3 1237.1 1207.3 1251.5 1208.2 1251.2C1209 1251 1220.9 1230.1 1222.4 1229.9C1224 1229.7 1238.3 1247.2 1239.5 1247C1240.7 1246.8 1245.7 1227.5 1246.6 1225.6C1247.6 1223.7 1258 1210.2 1258 1208.5C1258 1206.8 1247 1192.6 1246.6 1191.4C1246.3 1190.2 1250 1184.1 1250.9 1184.3C1251.8 1184.5 1263.2 1195 1265.2 1195.7C1267.1 1196.4 1288.4 1198.1 1290.8 1198.5C1293.2 1199 1311.6 1203.7 1313.6 1204.2C1315.6 1204.7 1329.2 1207.4 1330.7 1208.5C1332.1 1209.6 1340.9 1223.9 1342.1 1225.6C1343.2 1227.3 1353.2 1241.1 1353.5 1242.7C1353.7 1244.3 1347.4 1255.2 1347.8 1256.9C1348.1 1258.6 1360.3 1275.2 1360.6 1276.9C1360.9 1278.6 1354.2 1289.7 1353.5 1291.1C1352.7 1292.5 1343.8 1304.4 1344.9 1305.4C1346 1306.4 1372.7 1310.9 1376.2 1311.1C1379.8 1311.2 1412.1 1308.6 1416.1 1308.2C1420.1 1307.9 1452.9 1303.9 1456 1303.9C1459.1 1303.9 1476.5 1307.9 1478.8 1308.2C1481.1 1308.6 1499.4 1311.3 1501.6 1311.1C1503.7 1310.8 1519.8 1303.4 1521.5 1302.5C1523.2 1301.7 1534.5 1294.7 1535.8 1294C1537 1293.3 1546.9 1289.3 1547.2 1288.3C1547.4 1287.3 1542.3 1275.7 1541.5 1274C1540.6 1272.3 1528.9 1255.5 1530.1 1254.1C1531.2 1252.7 1561.7 1246.3 1564.2 1245.5C1566.8 1244.8 1580.6 1240.7 1581.3 1239.8C1582 1239 1579.3 1229.5 1578.5 1228.5C1577.6 1227.5 1565.8 1221 1564.2 1219.9C1562.7 1218.8 1548.6 1207.5 1547.2 1207.1C1545.7 1206.7 1536.6 1210.3 1535.8 1211.4C1534.9 1212.4 1531.5 1229.2 1530.1 1228.5C1528.6 1227.7 1508.1 1199.2 1507.3 1197.1C1506.4 1195.1 1511.8 1187.4 1513 1187.2C1514.1 1186.9 1528.4 1191.9 1530.1 1191.4C1531.8 1190.9 1545.4 1178.2 1547.2 1177.2C1548.9 1176.2 1562.2 1172.1 1564.2 1171.5C1566.2 1170.9 1584.8 1166.4 1587 1165.8C1589.3 1165.2 1607.8 1160.7 1609.8 1160.1C1611.8 1159.5 1625.4 1155.1 1626.9 1154.4C1628.4 1153.7 1638.8 1135.2 1639.4 1145.8C1640.1 1156.5 1683.8 1355.6 1639.4 1366.6C1595.1 1377.6 796.1 1367.5 752.4 1366.6Z"/>
<path class="cl" d="M753.8 1366.6C709.6 1365.8 754.3 1352.6 755.2 1350.9C756.1 1349.3 770.6 1335.4 772.3 1333.8C774 1332.3 787.7 1321.2 789.4 1319.6C791.1 1318 805.2 1304.1 806.5 1302.5C807.8 1300.9 814 1289.3 815 1288.3C816 1287.3 825.6 1283.6 826.4 1282.6C827.3 1281.6 832 1269.6 832.1 1268.3C832.3 1267.1 829.7 1258.1 829.3 1256.9C828.8 1255.8 823.4 1246.7 823.6 1245.5C823.7 1244.4 831.4 1235.3 832.1 1234.2C832.8 1233 837.8 1223.9 837.8 1222.8C837.8 1221.6 832.5 1212.6 832.1 1211.4C831.7 1210.1 829.3 1198.5 829.3 1197.1C829.3 1195.7 832.1 1184.4 832.1 1182.9C832.1 1181.3 829.3 1167.4 829.3 1165.8C829.3 1164.2 831.3 1152.8 832.1 1151.5C833 1150.3 845.1 1140.6 846.4 1140.2C847.6 1139.7 856.9 1142.3 857.8 1143C858.6 1143.7 862.9 1153 863.5 1154.4C864 1155.8 868.4 1170.1 869.2 1171.5C869.9 1172.9 876.7 1181.9 877.7 1182.9C878.7 1183.9 887.8 1191.6 889.1 1191.4C890.4 1191.3 901.9 1181.3 903.3 1180C904.8 1178.7 916.2 1167.1 917.6 1165.8C919 1164.5 931.4 1155.7 931.8 1154.4C932.2 1153.1 926.3 1141.4 926.1 1140.2C926 1138.9 928.4 1128.9 929 1128.8C929.5 1128.6 936.7 1136.2 937.5 1137.3C938.4 1138.4 945.2 1151.4 946.1 1151.5C946.9 1151.7 953.9 1141.3 954.6 1140.2C955.3 1139 959.4 1130 960.3 1128.8C961.2 1127.5 970.6 1116.1 971.7 1114.5C972.8 1112.9 982.1 1099 983.1 1097.4C984.1 1095.9 991.8 1084.2 991.6 1083.2C991.5 1082.2 981.4 1078.2 980.2 1077.5C979.1 1076.8 969.8 1069.7 968.8 1068.9C967.9 1068.2 960.2 1064.4 960.3 1063.2C960.4 1062.1 971.6 1047.9 971.7 1046.2C971.8 1044.4 964 1030.8 963.2 1029.1C962.3 1027.4 955.5 1013.7 954.6 1012C953.7 1010.3 944.8 996.3 944.6 994.9C944.5 993.5 950.5 984.2 951.8 983.5C953 982.8 967.1 980.5 968.8 980.6C970.6 980.8 984.9 985.5 985.9 986.3C986.9 987.2 989.4 996.7 988.8 997.7C988.2 998.7 975.5 1005.3 974.5 1006.3C973.5 1007.3 968.7 1016 968.8 1017.7C969 1019.4 976.4 1038.5 977.4 1040.5C978.4 1042.4 987.5 1056.1 988.8 1057.5C990.1 1059 1001.7 1067.8 1003 1068.9C1004.3 1070.1 1013.4 1080 1014.4 1080.3C1015.4 1080.6 1022 1075.2 1023 1074.6C1024 1074.1 1033.2 1069.1 1034.4 1068.9C1035.5 1068.8 1045.5 1070.9 1045.8 1071.8C1046 1072.6 1041.2 1084.6 1040.1 1086C1038.9 1087.5 1023.1 1099.1 1023 1100.3C1022.8 1101.5 1035.5 1110.2 1037.2 1110.2C1038.9 1110.2 1055.4 1101.1 1057.2 1100.3C1058.9 1099.5 1070.3 1094.3 1071.4 1094.6C1072.5 1094.9 1078.7 1104.7 1079.9 1106C1081.2 1107.3 1095.7 1119.1 1097.1 1120.2C1098.5 1121.4 1107.2 1127.9 1108.5 1128.8C1109.8 1129.6 1121.4 1136 1122.7 1137.3C1124 1138.6 1133.3 1152.4 1134.1 1154.4C1135 1156.4 1139.2 1175 1139.8 1177.2C1140.4 1179.3 1144.8 1195.4 1145.5 1197.1C1146.2 1198.8 1153.1 1210.1 1154.1 1211.4C1155.1 1212.6 1164.3 1221.6 1165.5 1222.8C1166.6 1223.9 1175.7 1232.9 1176.8 1234.2C1178 1235.4 1187.1 1246.8 1188.2 1248.4C1189.4 1250 1198.6 1263.8 1199.6 1265.5C1200.6 1267.2 1206.8 1281.6 1208.2 1282.6C1209.6 1283.6 1226.6 1284.4 1228.1 1285.4C1229.7 1286.4 1237.8 1301.9 1239.5 1302.5C1241.2 1303.1 1260.5 1296.7 1262.3 1296.8C1264.2 1297 1275.7 1305.9 1276.5 1305.4C1277.4 1304.8 1279 1287.3 1279.4 1285.4C1279.8 1283.6 1285.1 1269.8 1285.1 1268.3C1285.1 1266.9 1280.2 1257.8 1279.4 1256.9C1278.5 1256.1 1268.4 1252.2 1268 1251.2C1267.6 1250.2 1270.3 1238.3 1270.8 1237C1271.4 1235.7 1278.3 1226.9 1279.4 1225.6C1280.5 1224.3 1292.2 1212.2 1293.6 1211.4C1295.1 1210.5 1306.3 1208.5 1307.9 1208.5C1309.4 1208.5 1323.5 1210.5 1325 1211.4C1326.4 1212.2 1335.5 1224 1336.4 1225.6C1337.2 1227.2 1342.1 1241.1 1342.1 1242.7C1342.1 1244.3 1336.7 1255.2 1336.4 1256.9C1336 1258.6 1334.9 1274.9 1334.9 1276.9C1334.9 1278.9 1336.7 1295.1 1336.4 1296.8C1336 1298.5 1328.2 1309.8 1327.8 1311.1C1327.4 1312.3 1327 1321.9 1327.8 1322.5C1328.7 1323 1343.3 1322.2 1344.9 1322.5C1346.5 1322.7 1357.4 1328.2 1359.2 1328.2C1360.9 1328.2 1377.4 1322.9 1379.1 1322.5C1380.8 1322 1392.1 1319 1393.3 1319.6C1394.6 1320.2 1403.3 1332.3 1404.7 1333.8C1406.2 1335.4 1420.1 1350.4 1421.8 1350.9C1423.5 1351.5 1437.2 1345.7 1438.9 1345.2C1440.6 1344.8 1454.3 1342.3 1456 1342.4C1457.7 1342.5 1470.8 1347.7 1473.1 1348.1C1475.4 1348.5 1499.4 1351.5 1501.6 1350.9C1503.7 1350.4 1514.1 1337.8 1515.8 1336.7C1517.5 1335.6 1533.6 1328.3 1535.8 1328.2C1537.9 1328 1556.7 1334.1 1558.5 1333.8C1560.4 1333.6 1571.8 1323.5 1572.8 1322.5C1573.8 1321.5 1577.5 1313.9 1578.5 1313.9C1579.5 1313.9 1591.3 1322.2 1592.7 1322.5C1594.2 1322.7 1605.5 1320.2 1607 1319.6C1608.4 1319 1619.6 1311.8 1621.2 1311.1C1622.8 1310.3 1638.5 1302.6 1639.4 1305.4C1640.4 1308.1 1683.7 1363.5 1639.4 1366.6C1595.2 1369.7 798 1367.4 753.8 1366.6Z"/>
<path class="cl" d="M760.9 1366.6C747.9 1365.8 762.6 1352.4 763.8 1350.9C764.9 1349.4 781.8 1338.1 783.7 1336.7C785.5 1335.3 799.2 1322.9 800.8 1322.5C802.4 1322 813.7 1328 815 1328.2C816.3 1328.3 825.3 1326 826.4 1325.3C827.6 1324.6 837.8 1314.9 837.8 1313.9C837.8 1312.9 826 1306.3 826.4 1305.4C826.9 1304.4 844.7 1296.4 846.4 1295.4C848.1 1294.4 859.2 1286.4 860.6 1285.4C862 1284.5 873.6 1277.7 874.8 1276.9C876.1 1276 886 1269.5 886.2 1268.3C886.5 1267.2 881 1255.5 880.5 1254.1C880.1 1252.7 877.3 1241.1 877.7 1239.8C878.1 1238.6 887.1 1229.2 889.1 1228.5C891.1 1227.7 915.3 1226.5 917.6 1225.6C919.9 1224.8 935 1212.8 934.7 1211.4C934.4 1209.9 912.3 1198.5 911.9 1197.1C911.5 1195.7 924.4 1184.4 926.1 1182.9C927.8 1181.3 944.4 1167.2 946.1 1165.8C947.8 1164.4 959.7 1155.8 960.3 1154.4C960.9 1153 958.3 1138.6 958.9 1137.3C959.4 1136 969.9 1128.8 971.7 1128.8C973.5 1128.8 991.9 1136.7 994.5 1137.3C997 1137.9 1020.1 1141.3 1023 1141.6C1025.8 1141.9 1048.6 1142.8 1051.5 1143C1054.3 1143.2 1077.1 1145.4 1079.9 1145.8C1082.8 1146.3 1106.1 1150.5 1108.4 1151.5C1110.7 1152.5 1124.4 1163.9 1125.5 1165.8C1126.7 1167.6 1130.9 1186.3 1131.2 1188.6C1131.6 1190.9 1132.1 1209.4 1132.6 1211.4C1133.1 1213.4 1140.1 1227 1141.2 1228.5C1142.2 1229.9 1152.8 1239.3 1154 1239.8C1155.2 1240.4 1164.3 1239.1 1165.5 1239.8C1166.6 1240.6 1176 1252.8 1176.8 1254.1C1177.7 1255.4 1182.7 1264.8 1182.5 1265.5C1182.4 1266.2 1175 1267.8 1174 1268.3C1173 1268.9 1163.7 1276.6 1162.6 1276.9C1161.5 1277.2 1151.9 1273.5 1151.2 1274C1150.5 1274.6 1149.2 1287.3 1148.4 1288.3C1147.5 1289.3 1135.7 1293.5 1134.1 1294C1132.6 1294.4 1118.5 1297.1 1117 1296.8C1115.6 1296.5 1106.9 1289 1105.6 1288.3C1104.4 1287.6 1092.7 1283.1 1091.4 1282.6C1090.1 1282 1081.4 1276.7 1080 1276.9C1078.6 1277 1064.6 1284.4 1062.8 1285.4C1061.1 1286.4 1047.2 1295.5 1045.8 1296.8C1044.3 1298.1 1035.2 1309.6 1034.4 1311.1C1033.5 1312.5 1029.1 1323.5 1028.7 1325.3C1028.2 1327.2 1026.1 1346 1025.8 1348.1C1025.5 1350.2 1036.2 1365.7 1023 1366.6C1009.7 1367.5 773.9 1367.4 760.9 1366.6Z"/>
<path class="cl" d="M817.9 1040.5C817.5 1038.6 822.6 1027.2 823.6 1026.2C824.6 1025.2 836.3 1020.5 837.8 1020.5C839.4 1020.5 853.8 1025.1 854.9 1026.2C856 1027.4 860.6 1041.6 860.6 1043.3C860.6 1045 855.9 1058.9 854.9 1060.4C853.9 1061.9 841.8 1073.1 840.7 1073.2C839.5 1073.4 833.3 1064.9 832.1 1063.2C831 1061.6 818.3 1042.3 817.9 1040.5Z"/>
<path class="cl" d="M1134.1 1333.8C1134.7 1332 1153.9 1312.1 1156.9 1311.1C1159.9 1310.1 1191.9 1313.1 1193.9 1313.9C1195.9 1314.8 1196.8 1326.7 1196.8 1328.2C1196.8 1329.6 1195.1 1341.1 1193.9 1342.4C1192.8 1343.7 1176 1352.6 1174 1353.8C1172 1355 1155.6 1366 1154.1 1366.6C1152.5 1367.2 1143.1 1367.5 1142.7 1366.6C1142.2 1365.7 1145.9 1349.7 1145.5 1348.1C1145.1 1346.5 1133.6 1335.7 1134.1 1333.8Z"/>
<path class="cl" d="M1196.8 1350.9C1197.6 1349.4 1214.6 1337.3 1216.7 1336.7C1218.9 1336.1 1237.2 1339.7 1239.5 1339.5C1241.8 1339.4 1261.4 1334.8 1262.3 1333.8C1263.2 1332.9 1256.6 1320.6 1256.6 1319.6C1256.6 1318.6 1261.2 1314.1 1262.3 1313.9C1263.4 1313.8 1278.3 1315.8 1279.4 1316.8C1280.5 1317.8 1285.1 1332.4 1285.1 1333.8C1285.1 1335.3 1279.4 1344.2 1279.4 1345.2C1279.4 1346.2 1284.2 1352.7 1285.1 1353.8C1285.9 1354.9 1300.8 1366 1296.5 1366.6C1292.2 1367.2 1204.6 1367.4 1199.6 1366.6C1194.7 1365.8 1195.9 1352.4 1196.8 1350.9Z"/>
<path class="cl" d="M1336.4 1366.6C1335.2 1366 1346.3 1354.9 1347.8 1353.8C1349.2 1352.7 1363.7 1345.1 1364.8 1345.2C1366 1345.4 1370.3 1355.6 1370.5 1356.6C1370.8 1357.7 1372.3 1366.1 1370.5 1366.6C1368.8 1367.1 1337.5 1367.2 1336.4 1366.6Z"/>
<path class="cl" d="M1293.6 1251.2C1293.6 1249.8 1298.3 1248.3 1299.3 1248.4C1300.3 1248.5 1313.3 1253 1313.6 1254.1C1313.9 1255.2 1305.7 1270 1305 1271.2C1304.3 1272.3 1299.9 1277.9 1299.3 1276.9C1298.8 1275.9 1293.6 1252.7 1293.6 1251.2Z"/>
<path class="cl" d="M840.7 1160.1C841.2 1159 853.9 1153.8 854.9 1154.4C855.9 1155 860.7 1169.9 860.6 1171.5C860.5 1173.1 852.9 1185.4 852.1 1185.7C851.2 1186 844.1 1178.5 843.5 1177.2C842.9 1175.9 840.1 1161.2 840.7 1160.1Z"/>
<path class="cl" d="M849.2 1219.9C849.5 1218.8 857.2 1216.3 857.8 1217.1C858.3 1217.8 860.9 1233 860.6 1234.2C860.3 1235.3 852.6 1240.6 852.1 1239.8C851.5 1239.1 848.9 1221 849.2 1219.9Z"/>
<path class="cl" d="M723.9 997.7C724.7 996.7 736.7 992 738.1 992C739.5 992 751.5 996.7 752.4 997.7C753.2 998.7 755.1 1010.5 755.2 1012C755.3 1013.5 754.6 1026.7 753.8 1027.6C752.9 1028.6 739.5 1030.6 738.1 1030.5C736.8 1030.4 727.6 1027.1 726.7 1026.2C725.9 1025.3 721.2 1013.4 721 1012C720.9 1010.5 723 998.7 723.9 997.7Z"/>
<path class="cl" d="M786.5 1049C786 1047.4 788.7 1036 789.4 1034.8C790.1 1033.5 799.4 1024.6 800.8 1023.4C802.2 1022.1 816 1010.3 817.9 1009.1C819.7 1008 836 1001.3 837.8 1000.6C839.7 999.9 853.3 995.5 854.9 994.9C856.5 994.2 869.2 987.5 870.6 987.8C872 988 882.3 999.4 883.4 1000.6C884.5 1001.8 891.1 1011.1 891.9 1012C892.8 1012.8 899.3 1017.5 900.5 1017.7C901.6 1017.8 913.4 1014.4 914.7 1014.8C916 1015.2 925.1 1024.9 926.1 1026.2C927.1 1027.5 934.4 1039.2 934.7 1040.5C935 1041.7 932.7 1050.7 931.8 1051.8C931 1053 919 1063.1 917.6 1063.2C916.2 1063.4 904.9 1055.1 903.3 1054.7C901.8 1054.3 887.8 1055.4 886.2 1056.1C884.7 1056.8 873.4 1067.7 872 1068.9C870.6 1070.2 859.3 1079.1 857.8 1080.3C856.2 1081.6 842.7 1094.1 840.7 1094.6C838.7 1095.1 819.6 1091 817.9 1090.3C816.2 1089.6 807.3 1081.5 806.5 1080.3C805.6 1079.1 801.8 1067.7 800.8 1066.1C799.8 1064.5 787.1 1050.6 786.5 1049Z"/>
<path class="cl" d="M1592.7 1177.2C1594.2 1176.2 1613.2 1172.1 1615.5 1171.5C1617.9 1170.9 1638.2 1165.2 1639.4 1165.8C1640.6 1166.4 1640.4 1181.6 1639.4 1182.9C1638.5 1184.2 1622.8 1190.6 1621.2 1191.4C1619.6 1192.2 1608.7 1198.5 1607 1198.5C1605.3 1198.5 1587.7 1192.5 1587 1191.4C1586.3 1190.4 1591.3 1178.2 1592.7 1177.2Z"/>
<path class="cl" d="M983.1 1091.7C983.4 1090 990.8 1080.3 991.6 1080.3C992.5 1080.3 999.6 1090 1000.2 1091.7C1000.8 1093.4 1003.3 1112.5 1003 1114.5C1002.7 1116.5 995.3 1131.6 994.5 1131.6C993.6 1131.6 986.5 1116.5 985.9 1114.5C985.4 1112.5 982.8 1093.4 983.1 1091.7Z"/>
<path class="cl" d="M102.3 1308.2C103 1305.7 115.6 1316.8 117.1 1316.8C118.5 1316.8 129.9 1309.1 131.3 1308.2C132.8 1307.4 144.4 1300.5 145.6 1299.7C146.7 1298.8 153.3 1291.9 154.1 1291.1C155 1290.3 161.4 1284.6 162.7 1284C163.9 1283.4 178.5 1279.6 179.8 1279.7C181 1279.9 186.7 1286 186.9 1286.8C187 1287.7 183.2 1295.9 182.6 1296.8C182 1297.7 175.6 1304.3 175.5 1305.4C175.3 1306.4 179 1318 179.8 1318.2C180.5 1318.4 189.6 1310.3 191.2 1309.6C192.7 1308.9 209.8 1303.6 211.1 1303.9C212.4 1304.3 216.6 1315.3 216.8 1316.8C216.9 1318.3 214.6 1332.2 213.9 1333.8C213.3 1335.5 204.8 1347.9 204 1349.5C203.2 1351.2 203.4 1365.8 198.3 1366.6C193.2 1367.5 107.1 1369.5 102.3 1366.6C97.5 1363.7 101.5 1310.7 102.3 1308.2Z"/>
<path class="cl" d="M239.6 1333.8C239.5 1332.3 243.1 1318.6 243.8 1316.8C244.6 1314.9 253.3 1298 255.2 1296.8C257.2 1295.7 279.5 1294.4 282.3 1294C285.1 1293.5 308.9 1288.5 310.8 1288.3C312.6 1288.1 318.3 1290.1 319.3 1289.7C320.4 1289.3 330.4 1279.8 332.2 1279.7C333.9 1279.7 352.2 1287.1 353.5 1288.3C354.9 1289.4 358.7 1300.5 359.2 1302.5C359.7 1304.5 362.8 1327.4 363.5 1328.2C364.2 1328.9 372.4 1317.9 373.5 1316.8C374.5 1315.6 383.7 1306.4 384.8 1305.4C386 1304.3 394.8 1296.2 396.2 1295.4C397.7 1294.5 412.2 1289.3 413.3 1288.3C414.5 1287.2 418.5 1275 419 1274C419.6 1273.1 423.9 1269.3 424.7 1269.8C425.5 1270.2 433.8 1281.4 434.7 1282.6C435.6 1283.8 441.1 1292.7 441.8 1294C442.5 1295.3 448.1 1307.1 448.9 1308.2C449.8 1309.3 457.9 1314.8 458.9 1315.3C459.9 1315.9 468.4 1318.4 468.9 1319.6C469.4 1320.8 469.1 1337.8 468.9 1339.5C468.7 1341.3 465.2 1352.4 464.6 1353.8C464 1355.1 466.8 1366 456.1 1366.6C445.3 1367.2 260.1 1367.5 249.5 1366.6C239 1365.7 245.8 1349.7 245.3 1348.1C244.8 1346.5 239.6 1335.4 239.6 1333.8Z"/>
<path class="cl" d="M510.2 1366.6C505.5 1366 520.5 1354.6 521.6 1353.8C522.6 1352.9 530.3 1350.4 531.5 1349.5C532.8 1348.6 545.6 1335.7 547.2 1335.3C548.8 1334.8 561.3 1341.1 562.9 1341C564.4 1340.8 576.9 1332.8 578.5 1332.4C580.2 1332 594.2 1332.6 595.6 1333.3C597.1 1333.9 606.2 1344.1 607 1345.2C607.9 1346.4 612.3 1355.6 612.7 1356.6C613.2 1357.7 620.7 1366.1 615.6 1366.6C610.4 1367.1 514.9 1367.2 510.2 1366.6Z"/>
<path class="cl" d="M498.2 920C498.4 919 502.7 911.9 503.6 910.9C504.5 910 514.8 901.3 516.4 900.9C517.9 900.5 532.9 902.7 534.5 902.7C536.2 902.7 548 900.8 549.1 900.9C550.2 901 557.3 903.5 557.3 904C557.3 904.5 550.1 909.6 549.1 910C548 910.4 537.3 912.4 536.4 912.7C535.5 913 531.3 915.8 530.9 916.4C530.5 916.9 529 922.9 529.1 923.6C529.2 924.4 531.8 930.5 532.7 930.9C533.6 931.4 545.8 932.5 547.3 932.7C548.8 932.9 562.4 934.1 562.7 934.9C563.1 935.7 554.5 947.7 554.5 949.1C554.6 950.5 562.7 962.4 563.6 963.6C564.5 964.9 571.8 973.5 572.7 974.5C573.6 975.5 580.7 983.3 581.8 983.6C582.9 984 594 980.3 594.5 980.9C595.1 981.5 593.3 995.4 593.6 996.4C594 997.3 600.9 999.6 600.9 1000C601 1000.4 595.6 1003.6 594.5 1003.6C593.5 1003.6 581.4 1000.5 580 1000C578.6 999.5 568.4 993.5 567.3 992.7C566.2 991.9 559.1 984.5 558.2 983.6C557.3 982.7 550 975.5 549.1 974.5C548.2 973.5 540.8 964.7 540 963.6C539.2 962.5 533.8 953.5 532.7 952.7C531.6 952 519.5 949.6 518.2 949.1C516.9 948.5 508.2 942.7 507.3 941.8C506.4 940.9 500.5 932 500 930.9C499.5 929.8 498 921 498.2 920Z"/>
<path class="cl" d="M581.8 1047.3C582.1 1046.5 589.8 1043.5 590.9 1043.6C592 1043.7 602.4 1048.1 603.6 1049.1C604.9 1050.1 615.1 1062.4 616.4 1063.6C617.6 1064.9 627.7 1073.8 629.1 1074.5C630.5 1075.3 642.2 1077.7 643.6 1078.2C645.1 1078.6 656.8 1082.9 658.2 1083.6C659.5 1084.4 670.6 1092 670.9 1092.7C671.2 1093.5 664.7 1098.1 663.6 1098.2C662.5 1098.3 650.7 1094.7 649.1 1094.5C647.5 1094.4 632.5 1094.7 630.9 1094.5C629.3 1094.4 617.7 1091.5 616.4 1090.9C615 1090.3 604.8 1082.9 603.6 1081.8C602.5 1080.7 593.6 1070.3 592.7 1069.1C591.8 1067.9 586 1059.3 585.5 1058.2C584.9 1057.1 581.5 1048 581.8 1047.3Z"/>
<path class="cl" d="M583.6 1056.4C583.6 1055.1 593.5 1047.5 594.5 1047.3C595.6 1047.1 605 1051.9 605.5 1052.7C605.9 1053.5 604.2 1062.6 603.6 1063.6C603.1 1064.6 595.5 1073.1 594.5 1072.7C593.5 1072.4 583.6 1057.6 583.6 1056.4Z"/>
<path class="cl" d="M769.5 799.9C769.7 799 787 797.1 789.4 797.1C791.8 797.1 815.7 799.2 817.9 799.9C820 800.7 831.8 811.7 832.1 812.8C832.4 813.8 825 820.9 823.6 821.3C822.2 821.7 805.6 820.2 803.6 819.9C801.6 819.6 785.4 816.6 783.7 815.6C782 814.6 769.2 800.9 769.5 799.9Z"/>
<path class="cl" d="M887.7 797.1C888.2 796.5 901.7 791.5 903.3 791.4C905 791.3 918.1 795.5 920.4 795.7C922.7 795.9 947.6 795.4 948.9 795.7C950.2 796 947.3 800.9 946.1 801.4C944.8 801.8 925.3 803.8 923.3 804.2C921.3 804.6 907.7 810 906.2 809.9C904.6 809.8 892.9 803.4 891.9 802.8C891 802.1 887.1 797.7 887.7 797.1Z"/>
<path class="cl" d="M999.3 763.2C998.6 761.5 1008.9 759.4 1010.7 760.3C1012.6 761.3 1035.6 780 1036.4 781.7C1037.1 783.4 1026.8 795.5 1025 794.5C1023.1 793.6 1000 764.9 999.3 763.2Z"/>
<path class="cl" d="M1262.3 1158.7C1264 1157.9 1294.8 1157.9 1296.5 1158.7C1298.2 1159.5 1298.2 1173.5 1296.5 1174.3C1294.8 1175.1 1264 1175.1 1262.3 1174.3C1260.6 1173.5 1260.6 1159.5 1262.3 1158.7Z"/>
<path class="cl dot" d="M102.3 247.5C104.7 246.1 111.3 241.8 117.1 239C122.9 236.1 129.2 232.9 137 230.4C144.9 227.9 156.5 223.7 164.1 223.9C171.7 224 176.7 230.7 182.6 231.3C188.5 231.9 193.5 230.1 199.7 227.6C205.9 225.1 213.5 219.7 219.6 216.2C225.8 212.6 232.2 208.4 236.7 206.2C241.2 204 239.1 205.4 246.7 202.8C254.3 200.2 272.6 195.2 282.3 190.5C292 185.9 298 181.3 305.1 174.9C312.2 168.5 319.8 157.8 325 152.1C330.3 146.4 333.8 143.4 336.4 140.7C339 138 340 136.9 340.7 136.1"/>
<path class="cl dot" d="M357.8 137.3C360.4 138.8 367.5 144.5 373.5 146.4C379.4 148.3 387.2 148.7 393.4 148.7C399.6 148.7 405.3 147.2 410.5 146.4C415.7 145.6 421.2 143.2 424.7 144.1C428.3 145.1 428.5 147.4 431.8 152.1C435.2 156.7 440.6 166.7 444.7 172C448.7 177.3 451.8 181.7 456.1 184C460.3 186.3 465.1 184.8 470.3 185.7C475.5 186.6 482.6 186.2 487.4 189.1C492.1 192.1 495 198.1 498.8 203.4C502.6 208.6 507.7 215.9 510.2 220.5C512.7 225 514.8 226.4 513.6 230.4C512.4 234.5 502.7 239.9 503.1 244.7C503.4 249.4 516.4 253.9 515.9 258.9C515.4 263.9 501.9 271 500.2 274.6C498.6 278.1 503.3 278.8 505.9 280.3C508.5 281.7 513.7 279.3 515.9 283.1C518 286.9 516.4 296.9 518.7 303.1C521.1 309.2 525.8 318.3 530.1 320.2C534.4 322.1 538.7 316.4 544.4 314.5C550.1 312.6 557.7 309.2 564.3 308.8C570.9 308.3 576.6 310.4 584.2 311.6C591.8 312.8 601.3 315.6 609.9 315.9C618.4 316.1 626.5 314.7 635.5 313C644.5 311.4 657.3 308.3 664 305.9C670.7 303.5 668.8 301.4 675.5 298.8C682.1 296.2 694.4 293.3 703.9 290.2C713.4 287.2 722.9 283.4 732.4 280.3C741.9 277.2 752.4 274.6 760.9 271.7C769.5 268.9 777.1 267.5 783.7 263.2C790.3 258.9 795.6 251.8 800.8 246.1C806 240.4 809.8 233.3 815 229C820.3 224.7 825.9 222.6 832.1 220.5C838.3 218.3 842.6 216.9 852.1 216.2C861.6 215.5 875.8 215.7 889.1 216.2C902.4 216.7 919.9 218.8 931.8 219C943.7 219.3 952.7 219 960.3 217.6C967.9 216.2 971.7 210.7 977.4 210.5C983.1 210.2 989.3 214.5 994.5 216.2C999.7 217.8 1002.1 220.7 1008.7 220.5C1015.4 220.2 1023.4 216.4 1034.4 214.8C1045.3 213.1 1061.4 212.6 1074.2 210.5C1087.1 208.3 1101.8 205.5 1111.3 201.9C1120.8 198.4 1122.2 192.7 1131.2 189.1C1140.2 185.6 1154.1 183.4 1165.5 180.6C1176.9 177.7 1187.3 174.9 1199.6 172C1212 169.2 1223.4 166.1 1239.5 163.5C1255.7 160.9 1281.3 158.7 1296.5 156.4C1311.7 154 1320.2 151.4 1330.7 149.2C1341.1 147.1 1351.1 145.6 1359.2 143.5C1367.2 141.5 1375.8 137.8 1379.1 136.7"/>
<path class="cl dot" d="M515.9 258.9C517.8 254.2 526.3 250.1 533 243.2C539.6 236.4 547.2 224.5 555.8 217.6C564.3 210.7 575.2 205.7 584.2 201.9C593.3 198.1 601.3 195.3 609.9 194.8C618.4 194.3 629.1 195.8 635.5 199.1C641.9 202.4 647.4 209.3 648.3 214.8C649.3 220.2 645.2 228.1 641.2 231.8C637.2 235.6 631.2 237.5 624.1 237.5C617 237.5 606.1 231.4 598.5 231.8C590.9 232.3 585.7 235.6 578.5 240.4C571.4 245.1 563.4 254.4 555.8 260.3C548.2 266.3 538.7 274.1 533 276C527.3 277.9 524.4 274.6 521.6 271.7C518.7 268.9 514 263.7 515.9 258.9Z"/>
<path class="cl dot" d="M1031.5 196.2C1031.5 194.2 1038.9 194.5 1042.9 194.8C1046.9 195.2 1055.7 196.2 1055.7 198.2C1055.7 200.2 1046.9 207.1 1042.9 206.8C1038.9 206.4 1031.5 198.2 1031.5 196.2Z"/>
<path class="cl dot" d="M1493 137.3C1494.9 138.6 1500.2 144.4 1504.4 145C1508.7 145.5 1515.3 142.1 1518.7 140.7C1522 139.3 1523.4 137.4 1524.4 136.7"/>
<path class="cl dot" d="M1538.6 136.7C1540 138.3 1542.9 144.5 1547.2 146.4C1551.4 148.2 1559.5 146.2 1564.2 147.8C1569 149.5 1572.8 150.9 1575.6 156.4C1578.5 161.8 1578.5 173 1581.3 180.6C1584.2 188.2 1587.5 197.7 1592.7 201.9C1597.9 206.2 1605.1 206.1 1612.7 206.2C1620.2 206.4 1633.8 203.4 1638 202.8"/>
<path class="cl" d="M983.1 1148.7C983.8 1148.6 987.8 1158.7 988.8 1160.1C989.8 1161.5 1001.6 1175.9 1003 1177.2C1004.5 1178.5 1015.1 1185.7 1017.3 1185.7C1019.4 1185.7 1042.9 1177.8 1045.8 1177.2C1048.6 1176.6 1071.7 1174.6 1074.2 1174.3C1076.8 1174 1095.5 1171.1 1097 1171.5C1098.6 1171.9 1104.9 1181.3 1105.6 1182.9C1106.3 1184.4 1110.7 1200.8 1111.3 1202.8C1111.8 1204.8 1117.4 1221.2 1117 1222.8C1116.5 1224.3 1104.3 1234.9 1102.7 1234.2C1101.2 1233.4 1087.6 1208.8 1085.6 1208.5C1083.6 1208.2 1064.3 1226.2 1062.8 1228.5C1061.4 1230.7 1058.6 1252.1 1057.2 1254.1C1055.7 1256.1 1036.6 1266.9 1034.4 1268.3C1032.1 1269.8 1014.1 1281.2 1011.6 1282.6C1009 1284 985.7 1295.3 983.1 1296.8C980.5 1298.4 962.9 1312.5 960.3 1313.9C957.7 1315.3 934.7 1324.9 931.8 1325.3C929 1325.7 906.2 1323.2 903.3 1322.5C900.5 1321.7 877.4 1311.2 874.8 1311.1C872.3 1310.9 852.1 1320.6 852.1 1319.6C852.1 1318.6 872.6 1293.7 874.8 1291.1C877.1 1288.6 895.9 1270.9 897.6 1268.3C899.3 1265.8 907.3 1242 909 1239.8C910.7 1237.7 929.5 1227.3 931.8 1225.6C934.1 1223.9 952.8 1207.8 954.6 1205.7C956.5 1203.5 967.9 1185 968.8 1182.9C969.8 1180.7 973.8 1164.6 974.5 1162.9C975.3 1161.2 982.4 1148.8 983.1 1148.7Z"/>
</g>
<path class="coast" d="M901.8 134.7 L898.7 145.5 L889.5 156.2 L874.2 170 L868 162.4 L857.3 153.2 L854.2 150.1"/>
<path class="coast" d="M858.8 159.3 L868 174.6 L869.5 185.4 L864.9 199.2 L852.7 211.5 L841.9 225.3 L841.9 214.5 L846.5 200.7 L837.3 190 L831.2 174.6 L834.2 159.3 L838.8 153.2 L828.1 160.8 L825 171.6 L828.1 186.9 L812.7 190 L828.1 199.2 L831.2 211.5 L825 220.7 L831.2 229.9 L840.4 233 L845 243.7 L849.6 254.5 L855.7 268.3 L854.8 283.6 L840.4 289.2 L825 300.5 L806.6 302 L794.3 309.7 L782 325.1 L763.6 326.6 L748.2 337.3 L742.1 346.6 L729.8 355.8 L717.5 363.4 L702.2 374.2 L691.4 383.4 L680.7 398.8 L674.5 417.2 L674.5 432.5 L679.1 450.9 L686.8 469.4 L699.1 490.9 L700.6 503.1 L706.8 521.5 L714.4 536.9 L716.6 546.1 L714.4 573.7 L705.2 592.2 L689.9 593.7 L680.7 579.9 L665.3 567.6 L659.2 552.2 L646.9 536.9 L634.6 518.5 L640.7 510.8 L631.5 506.2 L636.1 490.9 L631.5 475.5 L622.3 466.3 L607 447.9 L594.7 441.7 L583.9 446.3 L564 457.1 L553.2 454.6 L542.5 441.7 L524 433.1 L496.4 434.7 L474.9 437.1 L473.4 424.8 L468.8 434.1 L447.3 433.1 L428.8 435.6 L422.7 439.3 L428.8 447.9 L425.8 460.1 L438 470.9 L428.8 477 L419.6 466.3 L404.3 472.4 L385.8 474 L370.5 466.3 L355.1 460.1 L339.8 458.6 L318.3 452.5 L293.7 454 L272.2 461.7 L263 466.3 L250.7 478.6 L229.2 487.8 L213.8 495.5 L195.4 509.3 L186.2 524.6 L183.1 543 L189.3 567.6 L180.1 598.3 L172.4 629 L170.8 659.7 L170.8 681.2 L180.1 702.7 L186.2 721.1 L195.4 739.5 L210.8 761 L223.1 776.4 L232.3 788.6 L256.8 796.3 L272.2 807.1 L293.7 804 L318.3 799.4 L329 793.2 L349 793.2 L364.3 797.9 L370.5 785.6 L388.9 771.8 L395 756.4 L398.1 725.7 L401.2 721.1 L421.1 711.9 L447.3 707.3 L471.8 702.7 L499.5 704.2 L508.7 715 L505.6 730.3 L490.3 745.7 L487.2 767.1 L481 791.7 L476.4 807.1 L467.2 797.9 L464.1 825.5 L462.6 847 L453.4 868.5 L444.2 877.7 L453.4 883.8 L471.8 882.3 L490.3 880.7 L505.6 882.3 L533.2 876.1 L564 876.1 L585.5 880.7 L613.1 897.6 L620.8 905.3 L616.2 926.8 L613.1 939.1 L608.5 966.7 L603.9 991.3 L603.9 1009.7 L602.3 1029.6 L610 1043.5 L624.5 1058.8 L637.7 1072.6 L650 1080.3 L662.2 1091 L680.7 1095.6 L696 1088 L717.5 1078.8 L732.9 1072.6 L751.3 1075.7 L778.9 1083.4 L797.4 1100.2 L800.4 1104.8 L812.7 1120.2 L817.3 1107.9 L828.1 1092.6 L846.5 1077.2 L852.7 1052.7 L855.7 1046.5 L875.7 1026.6 L895.6 1018.9 L923.3 1018.9 L944.8 1006.6 L957.1 997.4 L972.4 983.6 L984.7 991.3 L990.9 997.4 L981.6 1009.7 L964.8 1009.7 L975.5 1028.1 L966.3 1043.5 L963.2 1064.9 L975.5 1086.4 L990.9 1077.2 L990.9 1058.8 L978.6 1037.3 L993.9 1028.1 L1015.4 1015.8 L1018.5 1009.7 L1017 995.9 L1027.7 991.3 L1030.8 1006.6 L1032.3 1014.3 L1049.2 1012.8 L1067.6 1018.9 L1076.9 1032.7 L1083 1043.5 L1116.8 1040.4 L1144.4 1040.4 L1165.9 1054.2 L1187.4 1054.2 L1202.8 1043.5 L1218.1 1038.8 L1242.7 1037.3 L1273.4 1037.3 L1261.1 1043.5 L1248.8 1049.6 L1251.9 1055.7 L1270.3 1061.9 L1282.6 1064.9 L1301 1074.2 L1307.2 1089.5 L1331.8 1104.8 L1337.9 1111 L1362.5 1120.2 L1377.8 1141.7 L1387 1157 L1408.5 1172.4 L1420.8 1183.1 L1454.6 1187.7 L1479.2 1184.7 L1516 1187.7 L1531.4 1197 L1549.8 1203.1 L1568.2 1215.4 L1586.7 1230.7 L1592.8 1236.9 L1605.1 1246.1 L1617.4 1289 L1626.6 1310.5 L1638.9 1335.1 L1642 1350.5"/>
<path class="coast" d="M100.2 845.4 L134 856.2 L149.3 865.4 L170.8 874.6 L195.4 882.3 L210.8 885.3 L232.3 877.7 L250.7 870 L269.1 868.5 L287.6 874.6 L302.9 886.9 L318.3 899.2 L339.8 919.1 L355.1 932.9 L373.5 938.5 L395 939.1 L416.5 949.8 L441.1 957.5 L462.6 962.1 L478 960.6 L484.1 956 L490.3 968.2 L496.4 975.9 L511.7 991.3 L527.1 1009.7 L539.4 1023.5 L540.9 1031.2 L537.9 1046.5 L539.4 1058.8 L554.7 1064.9 L560.9 1069.5 L567 1060.3 L573.2 1061.9 L576.2 1071.1 L588.5 1075.7 L603.9 1088 L607 1098.7 L602.3 1106.4 L616.2 1107.9 L622.3 1111 L628.5 1118.7 L640.7 1112.5 L656.1 1114.1 L668.4 1120.2 L680.7 1130.9 L689.9 1143.2 L705.2 1143.2 L717.5 1135.5 L711.4 1120.2 L705.2 1111 L723.7 1101.8 L732.9 1091 L748.2 1091 L763.6 1104.8 L772.8 1109.5 L766.7 1118.7 L772.8 1132.5 L782 1144.8 L794.3 1160.1 L797.4 1175.5 L800.4 1193.9 L794.3 1197 L797.4 1221.5 L803.5 1243 L794.3 1273.7 L778.9 1286 L763.6 1289 L754.4 1310.5 L748.2 1325.9 L732.9 1335.1 L717.5 1341.2 L714.4 1368.9"/>
<path class="coast" d="M565.5 694.4 L585.5 681.2 L610 662.8 L631.5 658.2 L643.8 655.1 L668.4 656.6 L680.7 655.1 L699.1 658.2 L717.5 662.8 L739 678.1 L763.6 681.2 L785.1 693.5 L806.6 701.1 L825 713.4 L849.6 718 L871.1 730.3 L886.4 741.1 L897.2 744.1 L892.6 750.3 L871.1 754.9 L846.5 753.3 L825 753.3 L803.5 754.9 L788.2 756.4 L803.5 739.5 L806.6 731.8 L791.2 730.3 L775.9 728.8 L763.6 721.1 L754.4 704.2 L732.9 699.6 L708.3 695 L702.2 688.9 L680.7 687.3 L662.2 684.3 L653 678.1 L631.5 668.9 L616.2 684.3 L597.7 690.4 L579.3 695Z"/>
<path class="coast" d="M626.9 693.5 L637.7 698.1 L639.2 705.8 L625.4 707.3 L620.8 702.7Z"/>
<path class="coast" d="M918.7 757.9 L938.6 753.3 L957.1 759.5 L972.4 757.9 L993.9 754.9 L1009.3 759.5 L1024.6 762.5 L1027.7 771.8 L1049.2 771.8 L1036.9 779.4 L1055.4 784 L1067.6 788.6 L1075.3 794.8 L1067.6 807.1 L1055.4 800.9 L1027.7 799.4 L1009.3 805.5 L993.9 804 L990.9 814.7 L981.6 825.5 L972.4 813.2 L960.1 807.1 L947.9 807.1 L932.5 807.1 L907.9 811.7 L888 802.5 L895.6 793.2 L914.1 796.3 L938.6 799.4 L952.5 796.3 L941.7 784 L938.6 773.3 L941.7 768.7 L926.4 761Z"/>
<path class="coast" d="M768.2 805.5 L778.9 797.9 L800.4 798.5 L812.7 800.9 L831.2 808.6 L834.2 816.3 L815.8 816.3 L803.5 820.9 L785.1 816.3 L775.9 810.1Z"/>
<path class="coast" d="M1110.6 797.9 L1147.5 798.8 L1159.8 802.5 L1153.6 813.2 L1129.1 814.7 L1110.6 813.2Z"/>
<path class="coast" d="M1273.4 1037.3 L1285.7 1035.8 L1302.6 1033.6 L1301 1055.7 L1273.4 1057.3 L1285.7 1049.6Z"/>
<path class="coast" d="M749.8 546.1 L769.7 547.6 L782 546.1 L766.7 550.7Z"/>
<path class="coast" d="M788.2 540 L805 550.7 L809.7 558.4 L803.5 570.7 L800.4 558.4Z"/>
<path class="coast" d="M772.8 593.7 L782 593.7 L788.2 610.6 L788.2 625.9 L780.5 622.9 L769.7 610.6Z"/>
<path class="coast" d="M794.3 596.8 L802 596.8"/>
<path class="coast" d="M818.9 582.9 L835.8 593.7 L835.8 606 L829.6 607.5"/>
<path class="coast" d="M849.6 609 L861.9 624.4 L855.7 624.4"/>
<path class="coast" d="M871.1 639.7 L875.7 656.6 L861.9 655.1"/>
<path class="coast" d="M891 665.8 L904.9 673.5 L901.8 684.3 L892.6 684.3"/>
<path class="coast" d="M912.5 716.5 L929.4 721.1 L926.4 711.9"/>
<path class="coast" d="M969.4 696.5 L978.6 698.1"/>
<path class="coast" d="M1277.4 838.4 L1281.1 840.5 L1282 846 L1278.3 844.8Z"/>
<path class="coast" d="M1282 862.9 L1285.7 865.1 L1286.6 870.6 L1282.9 869.4Z"/>
<path class="coast" d="M1288.1 889 L1291.8 891.2 L1292.8 896.7 L1289.1 895.5Z"/>
<path class="coast" d="M1298.9 912.1 L1302.6 914.2 L1303.5 919.7 L1299.8 918.5Z"/>
<path class="coast" d="M1299.5 935.1 L1303.2 937.2 L1304.1 942.8 L1300.4 941.5Z"/>
<path class="coast" d="M1292.8 955 L1296.4 957.2 L1297.4 962.7 L1293.7 961.5Z"/>
<path class="coast" d="M1277.4 990.3 L1281.1 992.5 L1282 998 L1278.3 996.8Z"/>
<path class="coast" d="M1343.4 958.1 L1347.1 960.3 L1348 965.8 L1344.4 964.6Z"/>
<path class="coast" d="M1245.2 830.7 L1248.8 832.8 L1249.8 838.4 L1246.1 837.1Z"/>
<path class="coast" d="M1235.9 807.7 L1239.6 809.8 L1240.5 815.3 L1236.9 814.1Z"/>
<path class="coast" d="M1182.2 799.1 L1185.9 801.2 L1186.8 806.8 L1183.1 805.5Z"/>
<path class="coast" d="M1183.7 817.5 L1187.4 819.6 L1188.3 825.2 L1184.6 823.9Z"/>
<path class="coast" d="M845 245.2 L840.4 254.5 L821.9 259.1 L818.9 262.1 L834.2 262.1 L845 262.1 L848 272.9 L840.4 279 L826.5 276 L811.2 277.5 L825 282.1 L823.5 289.8 L812.7 291.9 L821.9 297.4 L825 299.9"/>
<path class="coast" d="M831.2 200.7 L812.7 191.5 L800.4 186.9"/>
<path class="coast" d="M831.2 213 L818.9 203.8 L809.7 196.1"/>
<path class="coast" d="M829.6 223.8 L815.8 217.6"/>
<path class="coast" d="M831.2 230.5 L818.9 225.3 L806.6 220.7"/>
<path class="coast" d="M854.2 150.1 L855.7 145.5 L861.9 142.4 L868 137.8"/>
<path class="coast" d="M688.3 532.3 L696 532.3 L698.5 541.5 L691.4 545.5 L685.3 540Z"/>
<path class="coast" d="M398.1 441.7 L407.3 434.1 L418.1 437.1 L410.4 443.9Z"/>
<path class="coast" d="M258.4 454 L264.5 452.5 L266.1 460.1"/>
<path class="coast" d="M353.6 793.2 L361.3 799.4 L370.5 796.3 L364.3 791.7Z"/>
<path class="coast" d="M536.3 1000.5 L551.7 995.9 L567 1022 L554.7 1025 L540.9 1014.3Z"/>
<path class="coast" d="M516.4 986.7 L525.6 985.1 L527.1 991.3 L519.4 992.8Z"/>
<path class="bord" d="M101.7 501.6 L118.6 521.5 L126.3 540 L130.9 555.3 L152.4 561.5 L158.6 566.1 L180.1 570.7 L190.8 569.1"/>
<path class="bord" d="M342.8 919.1 L344.4 906.8 L347.4 903.2 L342.8 897.6 L356.7 872.5 L396.6 872.5 L398.1 862.3 L390.4 856.2 L379.7 847 L367.4 836.2 L380.3 835.6 L380.3 818.4 L435.9 818.4 L435 876.1"/>
<path class="bord" d="M435.9 818.4 L444.2 816.3 L453.4 807.1 L462.6 798.5"/>
<path class="bord" d="M407.3 943.7 L424.2 929.9 L430.4 923.1 L436.5 914.5 L435 902.2 L451.9 894.6 L464.1 883.8"/>
<path class="bord" d="M430.4 923.1 L444.2 929.9 L456.5 936.6 L471.8 939.1 L479.5 943.7 L478 954.4"/>
<path class="bord" d="M491.8 966.7 L505.6 965.2 L511.7 957.5 L510.2 943.7 L530.2 936 L540.9 940.6 L564 917.6 L579.3 916 L597.7 911.4 L620.8 905.3"/>
<path class="bord" d="M542.5 1025 L545.5 1022 L567 1029.6 L585.5 1028.1 L605.4 1031.2"/>
<path class="bord" d="M626.9 1114.1 L630 1095.6 L634.6 1089.5 L626.9 1075.7 L639.2 1072.6"/>
<path class="bord" d="M782 1144.8 L798.9 1129.4 L805 1121.7 L797.4 1104.8"/>
<path class="bord" d="M983.2 1002 L963.2 1009.7 L947.9 1025 L932.5 1058.8 L932.5 1080.3 L947.9 1107.9 L950.9 1138.6 L963.2 1150.9 L1021.6 1150.9 L1041.5 1178.5 L1101.4 1175.5 L1090.7 1203.1 L1092.2 1233.8 L1107.6 1261.4 L1092.2 1279.8 L1110.6 1295.2 L1121.4 1329"/>
<path class="bord" d="M1121.4 1329 L1113.7 1313.6 L1089.1 1312.1 L1079.9 1307.5 L1079.9 1335.1 L1049.2 1335.1 L1029.2 1313.6 L1029.2 1333.6 L1046.1 1347.4 L1023.1 1348.9 L1023.1 1368.9"/>
<path class="bord" d="M1121.4 1329 L1138.3 1342.8 L1161.3 1336.6 L1175.1 1330.5 L1205.8 1315.1 L1207.4 1289 L1227.3 1299.8 L1202.8 1255.3 L1190.5 1239.9 L1212 1246.1 L1242.7 1255.3 L1247.3 1241.5 L1274.9 1238.4 L1310.3 1226.1 L1308.7 1206.2"/>
<path class="bord" d="M1308.7 1206.2 L1288.8 1183.1 L1296.4 1160.1 L1322.5 1147.8 L1313.3 1135.5 L1331.8 1103.3"/>
<path class="bord" d="M1308.7 1206.2 L1328.7 1206.2 L1333.3 1227.6 L1345.6 1244.5 L1336.4 1255.3 L1333.3 1286 L1341 1309 L1362.5 1324.4 L1393.2 1319.8 L1414.7 1305.9 L1430 1307.5 L1439.3 1305.9"/>
<path class="bord" d="M1419.3 1183.1 L1414.7 1203.1 L1402.4 1213.8 L1396.3 1224.6 L1391.6 1243 L1414.7 1263 L1439.3 1305.9"/>
<path class="bord" d="M1439.3 1305.9 L1457.7 1307.5 L1456.1 1289 L1482.2 1287.5 L1497.6 1293.7"/>
<path class="bord" d="M1516 1189.3 L1502.2 1212.3 L1509.9 1243 L1516 1255.3 L1497.6 1293.7"/>
<path class="bord" d="M1497.6 1293.7 L1523.7 1293.7 L1548.3 1298.3 L1560.6 1286 L1588.2 1241.5"/>
<path class="bord" d="M752.8 1322.8 L778.9 1338.2 L797.4 1353.5 L831.2 1353.5 L852.7 1364.3 L861.9 1368.9"/>
<path class="bord" d="M970.9 761 L972.4 782.5 L963.2 793.2 L970.9 804 L970.9 811.7"/>
<text class="lab" x="260" y="203" text-anchor="middle" transform="rotate(-20 260 196)">-24</text>
<text class="lab" x="1270" y="167" text-anchor="middle" transform="rotate(0 1270 160)">-24</text>
<text class="lab" x="1578" y="192" text-anchor="middle" transform="rotate(80 1578 185)">-24</text>
<text class="lab" x="716" y="308" text-anchor="middle" transform="rotate(-15 716 301)">-22</text>
<text class="lab" x="608" y="356" text-anchor="middle" transform="rotate(-8 608 349)">-20</text>
<text class="lab" x="1384" y="282" text-anchor="middle" transform="rotate(25 1384 275)">-20</text>
<text class="lab" x="809" y="329" text-anchor="middle" transform="rotate(-8 809 322)">-18</text>
<text class="lab" x="932" y="378" text-anchor="middle" transform="rotate(15 932 371)">-16</text>
<text class="lab" x="855" y="412" text-anchor="middle" transform="rotate(5 855 405)">-14</text>
<text class="lab" x="1146" y="481" text-anchor="middle" transform="rotate(-3 1146 474)">-12</text>
<text class="lab" x="1193" y="512" text-anchor="middle" transform="rotate(-6 1193 505)">-10</text>
<text class="lab" x="1370" y="510" text-anchor="middle" transform="rotate(-25 1370 503)">-8</text>
<text class="lab" x="795" y="530" text-anchor="middle" transform="rotate(-3 795 523)">-6</text>
<text class="lab" x="993" y="584" text-anchor="middle" transform="rotate(4 993 577)">-4</text>
<text class="lab" x="823" y="579" text-anchor="middle" transform="rotate(8 823 572)">-2</text>
<text class="lab" x="1163" y="648" text-anchor="middle" transform="rotate(0 1163 641)">0</text>
<text class="lab" x="1053" y="664" text-anchor="middle" transform="rotate(10 1053 657)">2</text>
<text class="lab" x="1485" y="597" text-anchor="middle" transform="rotate(-20 1485 590)">2</text>
<text class="lab" x="1162" y="721" text-anchor="middle" transform="rotate(0 1162 714)">4</text>
<text class="lab" x="1393" y="704" text-anchor="middle" transform="rotate(-30 1393 697)">4</text>
<text class="lab" x="318" y="707" text-anchor="middle" transform="rotate(0 318 700)">4</text>
<text class="lab" x="225" y="715" text-anchor="middle" transform="rotate(0 225 708)">6</text>
<text class="lab" x="1009" y="738" text-anchor="middle" transform="rotate(0 1009 731)">6</text>
<text class="lab" x="625" y="753" text-anchor="middle" transform="rotate(0 625 746)">8</text>
<text class="lab" x="824" y="809" text-anchor="middle" transform="rotate(0 824 802)">8</text>
<text class="lab" x="1103" y="785" text-anchor="middle" transform="rotate(-30 1103 778)">8</text>
<text class="lab" x="1330" y="835" text-anchor="middle" transform="rotate(90 1330 828)">8</text>
<text class="lab" x="577" y="807" text-anchor="middle" transform="rotate(0 577 800)">10</text>
<text class="lab" x="776" y="783" text-anchor="middle" transform="rotate(-10 776 776)">10</text>
<text class="lab" x="515" y="860" text-anchor="middle" transform="rotate(0 515 853)">10</text>
<text class="lab" x="625" y="875" text-anchor="middle" transform="rotate(-50 625 868)">10</text>
<text class="lab" x="1316" y="900" text-anchor="middle" transform="rotate(0 1316 893)">6</text>
<text class="lab" x="564" y="917" text-anchor="middle" transform="rotate(0 564 910)">4</text>
<text class="lab" x="705" y="942" text-anchor="middle" transform="rotate(30 705 935)">10</text>
<text class="lab" x="853" y="940" text-anchor="middle" transform="rotate(-40 853 933)">10</text>
<text class="lab" x="165" y="987" text-anchor="middle" transform="rotate(30 165 980)">10</text>
<text class="lab" x="748" y="992" text-anchor="middle" transform="rotate(30 748 985)">12</text>
<text class="lab" x="564" y="987" text-anchor="middle" transform="rotate(0 564 980)">4</text>
<text class="lab" x="855" y="1024" text-anchor="middle" transform="rotate(0 855 1017)">14</text>
<text class="lab" x="1177" y="1031" text-anchor="middle" transform="rotate(0 1177 1024)">10</text>
<text class="lab" x="1070" y="1040" text-anchor="middle" transform="rotate(-40 1070 1033)">8</text>
<text class="lab" x="500" y="990" text-anchor="middle" transform="rotate(-30 500 983)">10</text>
<text class="lab" x="1453" y="1017" text-anchor="middle" transform="rotate(0 1453 1010)">8</text>
<text class="lab" x="1008" y="1027" text-anchor="middle" transform="rotate(80 1008 1020)">12</text>
<text class="lab" x="865" y="1079" text-anchor="middle" transform="rotate(-50 865 1072)">12</text>
<text class="lab" x="594" y="1059" text-anchor="middle" transform="rotate(-70 594 1052)">4</text>
<text class="lab" x="608" y="1087" text-anchor="middle" transform="rotate(0 608 1080)">6</text>
<text class="lab" x="640" y="1087" text-anchor="middle" transform="rotate(0 640 1080)">6</text>
<text class="lab" x="717" y="1089" text-anchor="middle" transform="rotate(0 717 1082)">8</text>
<text class="lab" x="655" y="1110" text-anchor="middle" transform="rotate(0 655 1103)">8</text>
<text class="lab" x="731" y="1109" text-anchor="middle" transform="rotate(0 731 1102)">10</text>
<text class="lab" x="929" y="1109" text-anchor="middle" transform="rotate(80 929 1102)">10</text>
<text class="lab" x="1439" y="1123" text-anchor="middle" transform="rotate(0 1439 1116)">8</text>
<text class="lab" x="1286" y="1137" text-anchor="middle" transform="rotate(0 1286 1130)">8</text>
<text class="lab" x="838" y="1152" text-anchor="middle" transform="rotate(-60 838 1145)">12</text>
<text class="lab" x="1150" y="1157" text-anchor="middle" transform="rotate(60 1150 1150)">10</text>
<text class="lab" x="563" y="1172" text-anchor="middle" transform="rotate(0 563 1165)">8</text>
<text class="lab" x="240" y="1212" text-anchor="middle" transform="rotate(0 240 1205)">6</text>
<text class="lab" x="1568" y="1190" text-anchor="middle" transform="rotate(-60 1568 1183)">12</text>
<text class="lab" x="456" y="1252" text-anchor="middle" transform="rotate(0 456 1245)">4</text>
<text class="lab" x="1316" y="1241" text-anchor="middle" transform="rotate(-20 1316 1234)">14</text>
<text class="lab" x="898" y="1277" text-anchor="middle" transform="rotate(60 898 1270)">16</text>
<text class="lab" x="293" y="1297" text-anchor="middle" transform="rotate(0 293 1290)">2</text>
<text class="lab" x="1176" y="1313" text-anchor="middle" transform="rotate(0 1176 1306)">14</text>
<text class="lab" x="1040" y="1325" text-anchor="middle" transform="rotate(-30 1040 1318)">14</text>
<text class="lab" x="133" y="1364" text-anchor="middle" transform="rotate(0 133 1357)">2</text>
<text class="lab" x="517" y="1359" text-anchor="middle" transform="rotate(80 517 1352)">2</text>
<text class="lab" x="962" y="1363" text-anchor="middle" transform="rotate(15 962 1356)">14</text>
<text class="lab" x="1350" y="1357" text-anchor="middle" transform="rotate(-45 1350 1350)">14</text>
<text class="lab" x="1468" y="1365" text-anchor="middle" transform="rotate(0 1468 1358)">14</text>
<text class="lab" x="1514" y="1365" text-anchor="middle" transform="rotate(0 1514 1358)">14</text>
<text class="lab" x="125" y="367" text-anchor="middle" transform="rotate(70 125 360)">-2</text>
<text class="lab" x="150" y="432" text-anchor="middle" transform="rotate(60 150 425)">-2</text>
<text class="lab" x="120" y="532" text-anchor="middle" transform="rotate(60 120 525)">0</text>
<text class="lab" x="108" y="657" text-anchor="middle" transform="rotate(80 108 650)">0</text>
<text class="lab" x="118" y="822" text-anchor="middle" transform="rotate(90 118 815)">8</text>
</g>
<rect x="102" y="137.8" width="1536" height="1228" fill="none" stroke="#000" stroke-width="1.8"/>
<text x="45.4" y="1218.9" font-size="25" textLength="42" lengthAdjust="spacingAndGlyphs">5°N</text>
<text x="30.5" y="1065.4" font-size="25" textLength="56.9" lengthAdjust="spacingAndGlyphs">10°N</text>
<text x="30.5" y="911.9" font-size="25" textLength="56.9" lengthAdjust="spacingAndGlyphs">15°N</text>
<text x="29.6" y="758.4" font-size="25" textLength="57.8" lengthAdjust="spacingAndGlyphs">20°N</text>
<text x="29.6" y="604.9" font-size="25" textLength="57.8" lengthAdjust="spacingAndGlyphs">25°N</text>
<text x="29.7" y="451.4" font-size="25" textLength="57.7" lengthAdjust="spacingAndGlyphs">30°N</text>
<text x="29.7" y="297.9" font-size="25" textLength="57.7" lengthAdjust="spacingAndGlyphs">35°N</text>
<text x="377.3" y="1397.5" font-size="25" textLength="65.6" lengthAdjust="spacingAndGlyphs">90°W</text>
<text x="684.5" y="1397.5" font-size="25" textLength="65.5" lengthAdjust="spacingAndGlyphs">80°W</text>
<text x="991.8" y="1397.5" font-size="25" textLength="65.1" lengthAdjust="spacingAndGlyphs">70°W</text>
<text x="1298.8" y="1397.5" font-size="25" textLength="65.4" lengthAdjust="spacingAndGlyphs">60°W</text>
<rect x="1674.8" y="1287.1" width="60" height="59.5" fill="#5e4fa2"/>
<rect x="1674.8" y="1227.5" width="60" height="60" fill="#486cb0"/>
<rect x="1674.8" y="1168" width="60" height="60" fill="#3389bd"/>
<rect x="1674.8" y="1108.5" width="60" height="60" fill="#50a9af"/>
<rect x="1674.8" y="1048.9" width="60" height="60" fill="#6bc4a5"/>
<rect x="1674.8" y="989.4" width="60" height="60" fill="#91d3a4"/>
<rect x="1674.8" y="929.9" width="60" height="60" fill="#b3e0a2"/>
<rect x="1674.8" y="870.4" width="60" height="60" fill="#d1ed9c"/>
<rect x="1674.8" y="810.8" width="60" height="60" fill="#ebf7a0"/>
<rect x="1674.8" y="751.3" width="60" height="60" fill="#f8fcb4"/>
<rect x="1674.8" y="691.8" width="60" height="60" fill="#fff7b2"/>
<rect x="1674.8" y="632.2" width="60" height="60" fill="#fee797"/>
<rect x="1674.8" y="572.7" width="60" height="60" fill="#fed07e"/>
<rect x="1674.8" y="513.2" width="60" height="60" fill="#fdb768"/>
<rect x="1674.8" y="453.6" width="60" height="60" fill="#fa9857"/>
<rect x="1674.8" y="394.1" width="60" height="60" fill="#f57547"/>
<rect x="1674.8" y="334.6" width="60" height="60" fill="#e85b48"/>
<rect x="1674.8" y="275.1" width="60" height="60" fill="#d7414e"/>
<rect x="1674.8" y="215.5" width="60" height="60" fill="#bc2249"/>
<rect x="1674.8" y="156" width="60" height="60" fill="#9e0142"/>
<rect x="1674.8" y="156" width="60" height="1190.6" fill="none" stroke="#000" stroke-width="1.8"/>
<path d="M1734.8 1346.6H1743.5" stroke="#000" stroke-width="1.8"/>
<text x="1754.7" y="1356.4" font-size="25" textLength="47.9" lengthAdjust="spacingAndGlyphs">−24</text>
<path d="M1734.8 1287.1H1743.5" stroke="#000" stroke-width="1.8"/>
<text x="1754.7" y="1296.9" font-size="25" textLength="46.8" lengthAdjust="spacingAndGlyphs">−22</text>
<path d="M1734.8 1227.5H1743.5" stroke="#000" stroke-width="1.8"/>
<text x="1754.7" y="1237.3" font-size="25" textLength="47.7" lengthAdjust="spacingAndGlyphs">−20</text>
<path d="M1734.8 1168H1743.5" stroke="#000" stroke-width="1.8"/>
<text x="1754.7" y="1177.8" font-size="25" textLength="47.6" lengthAdjust="spacingAndGlyphs">−18</text>
<path d="M1734.8 1108.5H1743.5" stroke="#000" stroke-width="1.8"/>
<text x="1754.7" y="1118.3" font-size="25" textLength="47.8" lengthAdjust="spacingAndGlyphs">−16</text>
<path d="M1734.8 1048.9H1743.5" stroke="#000" stroke-width="1.8"/>
<text x="1754.7" y="1058.7" font-size="25" textLength="47.9" lengthAdjust="spacingAndGlyphs">−14</text>
<path d="M1734.8 989.4H1743.5" stroke="#000" stroke-width="1.8"/>
<text x="1754.7" y="999.2" font-size="25" textLength="46.8" lengthAdjust="spacingAndGlyphs">−12</text>
<path d="M1734.8 929.9H1743.5" stroke="#000" stroke-width="1.8"/>
<text x="1754.7" y="939.7" font-size="25" textLength="47.7" lengthAdjust="spacingAndGlyphs">−10</text>
<path d="M1734.8 870.4H1743.5" stroke="#000" stroke-width="1.8"/>
<text x="1754.7" y="880.2" font-size="25" textLength="32" lengthAdjust="spacingAndGlyphs">−8</text>
<path d="M1734.8 810.8H1743.5" stroke="#000" stroke-width="1.8"/>
<text x="1754.7" y="820.6" font-size="25" textLength="32.1" lengthAdjust="spacingAndGlyphs">−6</text>
<path d="M1734.8 751.3H1743.5" stroke="#000" stroke-width="1.8"/>
<text x="1754.7" y="761.1" font-size="25" textLength="32.3" lengthAdjust="spacingAndGlyphs">−4</text>
<path d="M1734.8 691.8H1743.5" stroke="#000" stroke-width="1.8"/>
<text x="1754.7" y="701.6" font-size="25" textLength="31.2" lengthAdjust="spacingAndGlyphs">−2</text>
<path d="M1734.8 632.2H1743.5" stroke="#000" stroke-width="1.8"/>
<text x="1753.7" y="642" font-size="25" textLength="12.4" lengthAdjust="spacingAndGlyphs">0</text>
<path d="M1734.8 572.7H1743.5" stroke="#000" stroke-width="1.8"/>
<text x="1753.9" y="582.5" font-size="25" textLength="11.4" lengthAdjust="spacingAndGlyphs">2</text>
<path d="M1734.8 513.2H1743.5" stroke="#000" stroke-width="1.8"/>
<text x="1753.3" y="523" font-size="25" textLength="13.1" lengthAdjust="spacingAndGlyphs">4</text>
<path d="M1734.8 453.6H1743.5" stroke="#000" stroke-width="1.8"/>
<text x="1753.8" y="463.4" font-size="25" textLength="12.4" lengthAdjust="spacingAndGlyphs">6</text>
<path d="M1734.8 394.1H1743.5" stroke="#000" stroke-width="1.8"/>
<text x="1753.8" y="403.9" font-size="25" textLength="12.3" lengthAdjust="spacingAndGlyphs">8</text>
<path d="M1734.8 334.6H1743.5" stroke="#000" stroke-width="1.8"/>
<text x="1754.8" y="344.4" font-size="25" textLength="27" lengthAdjust="spacingAndGlyphs">10</text>
<path d="M1734.8 275.1H1743.5" stroke="#000" stroke-width="1.8"/>
<text x="1754.8" y="284.9" font-size="25" textLength="26.1" lengthAdjust="spacingAndGlyphs">12</text>
<path d="M1734.8 215.5H1743.5" stroke="#000" stroke-width="1.8"/>
<text x="1754.8" y="225.3" font-size="25" textLength="27.2" lengthAdjust="spacingAndGlyphs">14</text>
<path d="M1734.8 156H1743.5" stroke="#000" stroke-width="1.8"/>
<text x="1754.8" y="165.8" font-size="25" textLength="27.1" lengthAdjust="spacingAndGlyphs">16</text>
<g transform="translate(1835.3 751.5) rotate(-90)"><text x="-351" y="0" font-size="25.6" textLength="115.1" lengthAdjust="spacingAndGlyphs">Anomalía</text><text x="-224.3" y="0" font-size="25.6" textLength="28.7" lengthAdjust="spacingAndGlyphs">de</text><text x="-184.9" y="0" font-size="25.6" textLength="28.1" lengthAdjust="spacingAndGlyphs">θe</text><text x="-146.1" y="0" font-size="25.6" textLength="28.7" lengthAdjust="spacingAndGlyphs">de</text><text x="-106.8" y="0" font-size="25.6" textLength="128.5" lengthAdjust="spacingAndGlyphs">saturación</text><text x="34" y="0" font-size="25.6" textLength="73.6" lengthAdjust="spacingAndGlyphs">media</text><text x="120.7" y="0" font-size="25.6" textLength="119.9" lengthAdjust="spacingAndGlyphs">1000–700</text><text x="252.5" y="0" font-size="25.6" textLength="40.7" lengthAdjust="spacingAndGlyphs">hPa</text><text x="305.7" y="0" font-size="25.6" textLength="45.3" lengthAdjust="spacingAndGlyphs">[°C]</text>
</g>
</svg>
</body></html>
